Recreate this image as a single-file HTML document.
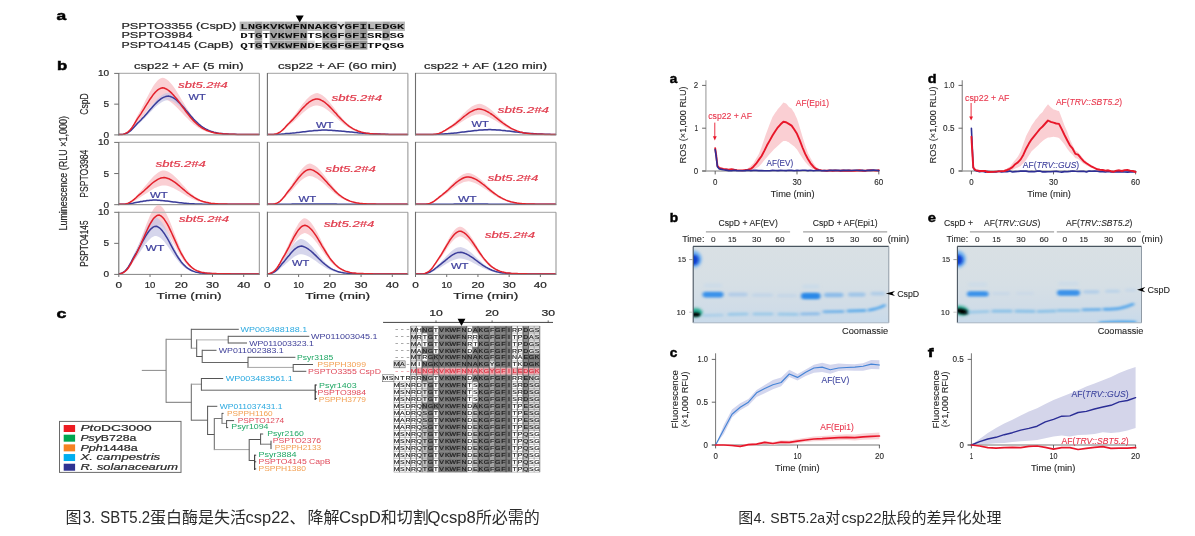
<!DOCTYPE html>
<html lang="zh-CN"><head><meta charset="utf-8"><title>SBT5.2</title>
<style>
html,body{margin:0;padding:0;background:#fff;}
body{width:1195px;height:536px;overflow:hidden;font-family:'Liberation Sans',sans-serif;}
svg{display:block;position:absolute;left:0;top:0;}
svg text{font-family:'Liberation Sans',sans-serif;white-space:pre;}
svg text.mono{font-family:'Liberation Mono',monospace;}
svg text.cap{font-family:'Liberation Sans','Noto Sans CJK SC',sans-serif;}
</style></head><body>
<svg width="1195" height="536" viewBox="0 0 1195 536">
<rect width="1195" height="536" fill="#fff"/>
<defs><filter id="soft" filterUnits="userSpaceOnUse" x="0" y="0" width="1195" height="500"><feGaussianBlur stdDeviation="0.4"/></filter></defs>
<g filter="url(#soft)">
<text font-size="13.5" fill="#000" font-weight="bold" textLength="9.70" lengthAdjust="spacingAndGlyphs" x="56.60" y="19.60" stroke="#000" stroke-width="0.5">a</text>
<text font-size="13.5" fill="#000" font-weight="bold" textLength="10.20" lengthAdjust="spacingAndGlyphs" x="56.90" y="70.10" stroke="#000" stroke-width="0.5">b</text>
<text font-size="13.5" fill="#000" font-weight="bold" textLength="9.90" lengthAdjust="spacingAndGlyphs" x="56.40" y="317.60" stroke="#000" stroke-width="0.5">c</text>
<text font-size="8.8" fill="#262626" stroke="#262626" stroke-width="0.2" textLength="114.90" lengthAdjust="spacingAndGlyphs" x="121.40" y="29.00" >PSPTO3355 (CspD)</text>
<text font-size="8.8" fill="#262626" stroke="#262626" stroke-width="0.2" textLength="71.20" lengthAdjust="spacingAndGlyphs" x="121.40" y="38.30" >PSPTO3984</text>
<text font-size="8.8" fill="#262626" stroke="#262626" stroke-width="0.2" textLength="111.90" lengthAdjust="spacingAndGlyphs" x="121.40" y="47.90" >PSPTO4145 (CapB)</text>
<rect x="239.60" y="21.60" width="7.56" height="9.40" fill="#b9b9b9" />
<rect x="247.11" y="21.60" width="7.56" height="9.40" fill="#b9b9b9" />
<rect x="254.63" y="21.60" width="7.56" height="9.40" fill="#a3a3a3" />
<rect x="262.14" y="21.60" width="7.56" height="9.40" fill="#b9b9b9" />
<rect x="269.66" y="21.60" width="7.56" height="9.40" fill="#a3a3a3" />
<rect x="277.18" y="21.60" width="7.56" height="9.40" fill="#a3a3a3" />
<rect x="284.69" y="21.60" width="7.56" height="9.40" fill="#a3a3a3" />
<rect x="292.20" y="21.60" width="7.56" height="9.40" fill="#a3a3a3" />
<rect x="299.72" y="21.60" width="7.56" height="9.40" fill="#a3a3a3" />
<rect x="307.24" y="21.60" width="7.56" height="9.40" fill="#b9b9b9" />
<rect x="314.75" y="21.60" width="7.56" height="9.40" fill="#b9b9b9" />
<rect x="322.26" y="21.60" width="7.56" height="9.40" fill="#a3a3a3" />
<rect x="329.78" y="21.60" width="7.56" height="9.40" fill="#a3a3a3" />
<rect x="337.29" y="21.60" width="7.56" height="9.40" fill="#d9d9d9" />
<rect x="344.81" y="21.60" width="7.56" height="9.40" fill="#a3a3a3" />
<rect x="352.32" y="21.60" width="7.56" height="9.40" fill="#a3a3a3" />
<rect x="359.84" y="21.60" width="7.56" height="9.40" fill="#969696" />
<rect x="367.36" y="21.60" width="7.56" height="9.40" fill="#b9b9b9" />
<rect x="374.87" y="21.60" width="7.56" height="9.40" fill="#b9b9b9" />
<rect x="382.38" y="21.60" width="7.56" height="9.40" fill="#a3a3a3" />
<rect x="389.90" y="21.60" width="7.56" height="9.40" fill="#b9b9b9" />
<rect x="397.41" y="21.60" width="7.56" height="9.40" fill="#b9b9b9" />
<rect x="254.63" y="30.90" width="7.56" height="9.40" fill="#a3a3a3" />
<rect x="269.66" y="30.90" width="7.56" height="9.40" fill="#a3a3a3" />
<rect x="277.18" y="30.90" width="7.56" height="9.40" fill="#a3a3a3" />
<rect x="284.69" y="30.90" width="7.56" height="9.40" fill="#a3a3a3" />
<rect x="292.20" y="30.90" width="7.56" height="9.40" fill="#a3a3a3" />
<rect x="299.72" y="30.90" width="7.56" height="9.40" fill="#a3a3a3" />
<rect x="322.26" y="30.90" width="7.56" height="9.40" fill="#a3a3a3" />
<rect x="329.78" y="30.90" width="7.56" height="9.40" fill="#a3a3a3" />
<rect x="337.29" y="30.90" width="7.56" height="9.40" fill="#d9d9d9" />
<rect x="344.81" y="30.90" width="7.56" height="9.40" fill="#a3a3a3" />
<rect x="352.32" y="30.90" width="7.56" height="9.40" fill="#a3a3a3" />
<rect x="359.84" y="30.90" width="7.56" height="9.40" fill="#969696" />
<rect x="382.38" y="30.90" width="7.56" height="9.40" fill="#a3a3a3" />
<rect x="254.63" y="40.60" width="7.56" height="9.00" fill="#a3a3a3" />
<rect x="269.66" y="40.60" width="7.56" height="9.00" fill="#a3a3a3" />
<rect x="277.18" y="40.60" width="7.56" height="9.00" fill="#a3a3a3" />
<rect x="284.69" y="40.60" width="7.56" height="9.00" fill="#a3a3a3" />
<rect x="292.20" y="40.60" width="7.56" height="9.00" fill="#a3a3a3" />
<rect x="299.72" y="40.60" width="7.56" height="9.00" fill="#a3a3a3" />
<rect x="307.24" y="40.60" width="7.56" height="9.00" fill="#d9d9d9" />
<rect x="322.26" y="40.60" width="7.56" height="9.00" fill="#a3a3a3" />
<rect x="329.78" y="40.60" width="7.56" height="9.00" fill="#a3a3a3" />
<rect x="337.29" y="40.60" width="7.56" height="9.00" fill="#d9d9d9" />
<rect x="344.81" y="40.60" width="7.56" height="9.00" fill="#a3a3a3" />
<rect x="352.32" y="40.60" width="7.56" height="9.00" fill="#a3a3a3" />
<rect x="359.84" y="40.60" width="7.56" height="9.00" fill="#969696" />
<text font-size="7.7" fill="#111" font-weight="bold" textLength="164.13" lengthAdjust="spacingAndGlyphs" x="240.20" y="28.80" class="mono" stroke="none">LNGKVKWFNNAKGYGFILEDGK</text>
<text font-size="7.7" fill="#111" font-weight="bold" textLength="164.13" lengthAdjust="spacingAndGlyphs" x="240.20" y="38.10" class="mono" stroke="none">DTGTVKWFNTSKGFGFISRDSG</text>
<text font-size="7.7" fill="#111" font-weight="bold" textLength="164.13" lengthAdjust="spacingAndGlyphs" x="240.20" y="47.80" class="mono" stroke="none">QTGTVKWFNDEKGFGFITPQSG</text>
<path d="M295.7,15.6 L303.7,15.6 L299.7,22.4Z" fill="#000"/>
<text font-size="8.8" fill="#262626" stroke="#262626" stroke-width="0.2" textLength="109.50" lengthAdjust="spacingAndGlyphs" x="134.00" y="68.70" >csp22 + AF (5 min)</text>
<text font-size="8.8" fill="#262626" stroke="#262626" stroke-width="0.2" textLength="118.90" lengthAdjust="spacingAndGlyphs" x="277.90" y="68.70" >csp22 + AF (60 min)</text>
<text font-size="8.8" fill="#262626" stroke="#262626" stroke-width="0.2" textLength="123.00" lengthAdjust="spacingAndGlyphs" x="424.00" y="68.70" >csp22 + AF (120 min)</text>
<defs><clipPath id="cp00"><rect x="118.8" y="64.4" width="140.5" height="71.1"/></clipPath><clipPath id="cp01"><rect x="267.4" y="64.4" width="140.5" height="71.1"/></clipPath><clipPath id="cp02"><rect x="415.5" y="64.4" width="140.5" height="71.1"/></clipPath><clipPath id="cp10"><rect x="118.8" y="133.4" width="140.5" height="71.89999999999998"/></clipPath><clipPath id="cp11"><rect x="267.4" y="133.4" width="140.5" height="71.89999999999998"/></clipPath><clipPath id="cp12"><rect x="415.5" y="133.4" width="140.5" height="71.89999999999998"/></clipPath><clipPath id="cp20"><rect x="118.8" y="203.3" width="140.5" height="71.69999999999996"/></clipPath><clipPath id="cp21"><rect x="267.4" y="203.3" width="140.5" height="71.69999999999996"/></clipPath><clipPath id="cp22"><rect x="415.5" y="203.3" width="140.5" height="71.69999999999996"/></clipPath></defs>
<g clip-path="url(#cp00)">
<path d="M118.8,134.9 L120.4,134.9 L121.9,134.8 L123.5,134.4 L125.0,133.9 L126.6,132.9 L128.2,131.6 L129.7,129.8 L131.3,127.6 L132.8,124.9 L134.4,121.9 L136.0,118.6 L137.5,115.5 L139.1,112.7 L140.7,109.9 L142.2,106.9 L143.8,103.9 L145.3,100.8 L146.9,97.7 L148.5,94.7 L150.0,91.7 L151.6,88.9 L153.1,86.3 L154.7,84.0 L156.3,82.0 L157.8,80.3 L159.4,79.0 L160.9,78.2 L162.5,77.7 L164.1,78.0 L165.6,78.8 L167.2,79.8 L168.8,81.1 L170.3,82.7 L171.9,84.5 L173.4,86.6 L175.0,88.8 L176.6,91.2 L178.1,93.7 L179.7,96.2 L181.2,98.9 L182.8,101.5 L184.4,104.1 L185.9,106.7 L187.5,109.3 L189.1,111.7 L190.6,114.0 L192.2,116.2 L193.7,118.3 L195.3,120.2 L196.9,122.0 L198.4,123.6 L200.0,125.1 L201.5,126.4 L203.1,127.6 L204.7,128.6 L206.2,129.5 L207.8,130.4 L209.3,131.1 L210.9,131.7 L212.5,132.2 L214.0,132.6 L215.6,133.0 L217.1,133.3 L218.7,133.6 L220.3,133.8 L221.8,134.0 L223.4,134.1 L225.0,134.3 L226.5,134.4 L228.1,134.4 L229.6,134.5 L231.2,134.6 L232.8,134.6 L234.3,134.7 L235.9,134.7 L237.4,134.7 L239.0,134.7 L240.6,134.8 L242.1,134.8 L243.7,134.8 L245.2,134.8 L246.8,134.8 L248.4,134.8 L249.9,134.8 L251.5,134.8 L253.1,134.8 L254.6,134.8 L256.2,134.8 L257.7,134.8 L259.3,134.8 L259.3,134.9 L257.7,134.9 L256.2,134.9 L254.6,134.9 L253.1,134.9 L251.5,134.9 L249.9,134.8 L248.4,134.8 L246.8,134.8 L245.2,134.8 L243.7,134.8 L242.1,134.8 L240.6,134.8 L239.0,134.8 L237.4,134.8 L235.9,134.8 L234.3,134.7 L232.8,134.7 L231.2,134.7 L229.6,134.7 L228.1,134.6 L226.5,134.6 L225.0,134.5 L223.4,134.4 L221.8,134.3 L220.3,134.2 L218.7,134.1 L217.1,133.9 L215.6,133.7 L214.0,133.5 L212.5,133.2 L210.9,132.8 L209.3,132.5 L207.8,132.0 L206.2,131.5 L204.7,130.9 L203.1,130.2 L201.5,129.5 L200.0,128.7 L198.4,127.7 L196.9,126.7 L195.3,125.6 L193.7,124.4 L192.2,123.0 L190.6,121.7 L189.1,120.2 L187.5,118.6 L185.9,117.0 L184.4,115.4 L182.8,113.7 L181.2,112.0 L179.7,110.4 L178.1,108.7 L176.6,107.2 L175.0,105.7 L173.4,104.2 L171.9,103.0 L170.3,101.8 L168.8,100.8 L167.2,100.0 L165.6,99.3 L164.1,98.8 L162.5,98.6 L160.9,98.9 L159.4,99.4 L157.8,100.2 L156.3,101.3 L154.7,102.6 L153.1,104.1 L151.6,105.7 L150.0,107.5 L148.5,109.4 L146.9,111.3 L145.3,113.3 L143.8,115.2 L142.2,117.2 L140.7,119.0 L139.1,120.8 L137.5,122.6 L136.0,124.6 L134.4,126.6 L132.8,128.6 L131.3,130.3 L129.7,131.7 L128.2,132.8 L126.6,133.7 L125.0,134.2 L123.5,134.6 L121.9,134.8 L120.4,134.9 L118.8,134.9Z" fill="#FACFD3" stroke="none" stroke-width="0" stroke-linejoin="round" stroke-linecap="round" fill-opacity="1"/>
<path d="M118.8,134.9 L120.4,134.9 L121.9,134.8 L123.5,134.6 L125.0,134.1 L126.6,133.5 L128.2,132.6 L129.7,131.5 L131.3,130.0 L132.8,128.3 L134.4,126.4 L136.0,124.5 L137.5,122.6 L139.1,120.9 L140.7,119.2 L142.2,117.5 L143.8,115.6 L145.3,113.7 L146.9,111.7 L148.5,109.7 L150.0,107.8 L151.6,105.8 L153.1,103.9 L154.7,102.0 L156.3,100.2 L157.8,98.6 L159.4,97.2 L160.9,95.9 L162.5,94.8 L164.1,93.9 L165.6,93.3 L167.2,92.9 L168.8,92.8 L170.3,93.2 L171.9,93.9 L173.4,94.8 L175.0,95.9 L176.6,97.3 L178.1,98.8 L179.7,100.5 L181.2,102.3 L182.8,104.2 L184.4,106.2 L185.9,108.2 L187.5,110.2 L189.1,112.3 L190.6,114.3 L192.2,116.2 L193.7,118.1 L195.3,119.9 L196.9,121.5 L198.4,123.1 L200.0,124.5 L201.5,125.9 L203.1,127.1 L204.7,128.1 L206.2,129.1 L207.8,130.0 L209.3,130.7 L210.9,131.4 L212.5,131.9 L214.0,132.4 L215.6,132.8 L217.1,133.2 L218.7,133.5 L220.3,133.7 L221.8,133.9 L223.4,134.1 L225.0,134.2 L226.5,134.3 L228.1,134.4 L229.6,134.5 L231.2,134.6 L232.8,134.6 L234.3,134.7 L235.9,134.7 L237.4,134.7 L239.0,134.7 L240.6,134.8 L242.1,134.8 L243.7,134.8 L245.2,134.8 L246.8,134.8 L248.4,134.8 L249.9,134.8 L251.5,134.8 L253.1,134.8 L254.6,134.8 L256.2,134.8 L257.7,134.8 L259.3,134.9 L259.3,134.9 L257.7,134.9 L256.2,134.9 L254.6,134.8 L253.1,134.8 L251.5,134.8 L249.9,134.8 L248.4,134.8 L246.8,134.8 L245.2,134.8 L243.7,134.8 L242.1,134.8 L240.6,134.8 L239.0,134.8 L237.4,134.7 L235.9,134.7 L234.3,134.7 L232.8,134.7 L231.2,134.6 L229.6,134.6 L228.1,134.5 L226.5,134.4 L225.0,134.3 L223.4,134.2 L221.8,134.1 L220.3,133.9 L218.7,133.7 L217.1,133.5 L215.6,133.2 L214.0,132.8 L212.5,132.4 L210.9,132.0 L209.3,131.4 L207.8,130.8 L206.2,130.1 L204.7,129.3 L203.1,128.4 L201.5,127.4 L200.0,126.4 L198.4,125.2 L196.9,123.9 L195.3,122.5 L193.7,121.0 L192.2,119.5 L190.6,117.9 L189.1,116.2 L187.5,114.6 L185.9,112.9 L184.4,111.2 L182.8,109.6 L181.2,108.0 L179.7,106.5 L178.1,105.1 L176.6,103.9 L175.0,102.8 L173.4,101.8 L171.9,101.1 L170.3,100.5 L168.8,100.2 L167.2,100.3 L165.6,100.6 L164.1,101.1 L162.5,101.8 L160.9,102.7 L159.4,103.8 L157.8,105.0 L156.3,106.3 L154.7,107.8 L153.1,109.3 L151.6,110.9 L150.0,112.5 L148.5,114.2 L146.9,115.8 L145.3,117.4 L143.8,119.0 L142.2,120.5 L140.7,122.0 L139.1,123.4 L137.5,124.7 L136.0,126.3 L134.4,127.9 L132.8,129.5 L131.3,130.9 L129.7,132.1 L128.2,133.0 L126.6,133.8 L125.0,134.3 L123.5,134.6 L121.9,134.8 L120.4,134.9 L118.8,134.9Z" fill="#C4C5E4" stroke="none" stroke-width="0" stroke-linejoin="round" stroke-linecap="round" fill-opacity="0.7"/>
<path d="M118.8,134.5 L120.4,134.5 L121.9,134.4 L123.5,134.2 L125.0,133.8 L126.6,133.3 L128.2,132.5 L129.7,131.4 L131.3,130.1 L132.8,128.5 L134.4,126.8 L136.0,125.0 L137.5,123.3 L139.1,121.8 L140.7,120.2 L142.2,118.6 L143.8,116.9 L145.3,115.2 L146.9,113.4 L148.5,111.6 L150.0,109.8 L151.6,108.0 L153.1,106.2 L154.7,104.5 L156.3,102.9 L157.8,101.4 L159.4,100.1 L160.9,98.9 L162.5,97.9 L164.1,97.1 L165.6,96.6 L167.2,96.2 L168.8,96.1 L170.3,96.5 L171.9,97.1 L173.4,97.9 L175.0,99.0 L176.6,100.2 L178.1,101.6 L179.7,103.1 L181.2,104.8 L182.8,106.5 L184.4,108.3 L185.9,110.2 L187.5,112.0 L189.1,113.9 L190.6,115.7 L192.2,117.5 L193.7,119.2 L195.3,120.8 L196.9,122.3 L198.4,123.8 L200.0,125.1 L201.5,126.3 L203.1,127.4 L204.7,128.4 L206.2,129.2 L207.8,130.0 L209.3,130.7 L210.9,131.3 L212.5,131.8 L214.0,132.3 L215.6,132.6 L217.1,132.9 L218.7,133.2 L220.3,133.4 L221.8,133.6 L223.4,133.8 L225.0,133.9 L226.5,134.0 L228.1,134.1 L229.6,134.2 L231.2,134.2 L232.8,134.3 L234.3,134.3 L235.9,134.3 L237.4,134.4 L239.0,134.4 L240.6,134.4 L242.1,134.4 L243.7,134.4 L245.2,134.4 L246.8,134.4 L248.4,134.5 L249.9,134.5 L251.5,134.5 L253.1,134.5 L254.6,134.5 L256.2,134.5 L257.7,134.5 L259.3,134.5" fill="none" stroke="#3A3C9A" stroke-width="1.5" stroke-linejoin="round" stroke-linecap="round" />
<path d="M118.8,134.5 L120.4,134.5 L121.9,134.4 L123.5,134.2 L125.0,133.7 L126.6,132.9 L128.2,131.8 L129.7,130.4 L131.3,128.6 L132.8,126.4 L134.4,123.9 L136.0,121.2 L137.5,118.6 L139.1,116.4 L140.7,114.1 L142.2,111.7 L143.8,109.2 L145.3,106.7 L146.9,104.2 L148.5,101.7 L150.0,99.2 L151.6,97.0 L153.1,94.8 L154.7,92.9 L156.3,91.3 L157.8,89.9 L159.4,88.9 L160.9,88.2 L162.5,87.8 L164.1,88.0 L165.6,88.7 L167.2,89.5 L168.8,90.6 L170.3,91.9 L171.9,93.4 L173.4,95.0 L175.0,96.9 L176.6,98.8 L178.1,100.8 L179.7,102.9 L181.2,105.1 L182.8,107.2 L184.4,109.4 L185.9,111.5 L187.5,113.6 L189.1,115.6 L190.6,117.5 L192.2,119.3 L193.7,121.0 L195.3,122.5 L196.9,124.0 L198.4,125.3 L200.0,126.5 L201.5,127.6 L203.1,128.5 L204.7,129.4 L206.2,130.2 L207.8,130.8 L209.3,131.4 L210.9,131.9 L212.5,132.3 L214.0,132.7 L215.6,133.0 L217.1,133.2 L218.7,133.5 L220.3,133.6 L221.8,133.8 L223.4,133.9 L225.0,134.0 L226.5,134.1 L228.1,134.2 L229.6,134.2 L231.2,134.3 L232.8,134.3 L234.3,134.3 L235.9,134.4 L237.4,134.4 L239.0,134.4 L240.6,134.4 L242.1,134.4 L243.7,134.4 L245.2,134.4 L246.8,134.5 L248.4,134.5 L249.9,134.5 L251.5,134.5 L253.1,134.5 L254.6,134.5 L256.2,134.5 L257.7,134.5 L259.3,134.5" fill="none" stroke="#E3202C" stroke-width="1.5" stroke-linejoin="round" stroke-linecap="round" />
</g>
<line x1="118.80" y1="73.40" x2="259.30" y2="73.40" stroke="#b4b4b4" stroke-width="1.3" />
<line x1="259.30" y1="73.40" x2="259.30" y2="134.90" stroke="#8f8f8f" stroke-width="1.0" />
<line x1="118.80" y1="72.90" x2="118.80" y2="135.40" stroke="#6e6e6e" stroke-width="1.1" />
<line x1="118.30" y1="134.90" x2="259.80" y2="134.90" stroke="#838383" stroke-width="1.0" />
<text font-size="8.8" fill="#E03A4B" stroke="#E03A4B" stroke-width="0.2" font-style="italic" textLength="49.50" lengthAdjust="spacingAndGlyphs" x="178.30" y="87.80" >sbt5.2#4</text>
<text font-size="8.6" fill="#3E3F9C" stroke="#3E3F9C" stroke-width="0.2" textLength="17.20" lengthAdjust="spacingAndGlyphs" x="188.50" y="99.80" >WT</text>
<g clip-path="url(#cp01)">
<path d="M267.4,134.9 L269.0,134.9 L270.5,134.9 L272.1,134.9 L273.6,134.7 L275.2,134.4 L276.8,133.9 L278.3,133.1 L279.9,132.1 L281.4,130.7 L283.0,129.1 L284.6,127.3 L286.1,125.2 L287.7,123.2 L289.3,121.3 L290.8,119.6 L292.4,117.7 L293.9,115.8 L295.5,113.7 L297.1,111.6 L298.6,109.5 L300.2,107.4 L301.7,105.3 L303.3,103.3 L304.9,101.4 L306.4,99.6 L308.0,98.0 L309.5,96.6 L311.1,95.3 L312.7,94.4 L314.2,93.7 L315.8,93.2 L317.4,93.1 L318.9,93.5 L320.5,94.2 L322.0,95.1 L323.6,96.2 L325.2,97.5 L326.7,99.0 L328.3,100.7 L329.8,102.5 L331.4,104.4 L333.0,106.4 L334.5,108.4 L336.1,110.4 L337.6,112.4 L339.2,114.4 L340.8,116.3 L342.3,118.2 L343.9,120.0 L345.5,121.6 L347.0,123.2 L348.6,124.6 L350.1,125.9 L351.7,127.1 L353.3,128.2 L354.8,129.1 L356.4,130.0 L357.9,130.7 L359.5,131.4 L361.1,131.9 L362.6,132.4 L364.2,132.8 L365.8,133.2 L367.3,133.5 L368.9,133.7 L370.4,133.9 L372.0,134.1 L373.6,134.2 L375.1,134.3 L376.7,134.4 L378.2,134.5 L379.8,134.6 L381.4,134.6 L382.9,134.7 L384.5,134.7 L386.0,134.7 L387.6,134.7 L389.2,134.8 L390.7,134.8 L392.3,134.8 L393.8,134.8 L395.4,134.8 L397.0,134.8 L398.5,134.8 L400.1,134.8 L401.7,134.8 L403.2,134.8 L404.8,134.8 L406.3,134.8 L407.9,134.9 L407.9,134.9 L406.3,134.9 L404.8,134.9 L403.2,134.9 L401.7,134.9 L400.1,134.8 L398.5,134.8 L397.0,134.8 L395.4,134.8 L393.8,134.8 L392.3,134.8 L390.7,134.8 L389.2,134.8 L387.6,134.8 L386.0,134.8 L384.5,134.7 L382.9,134.7 L381.4,134.7 L379.8,134.7 L378.2,134.6 L376.7,134.6 L375.1,134.5 L373.6,134.4 L372.0,134.3 L370.4,134.2 L368.9,134.1 L367.3,133.9 L365.8,133.7 L364.2,133.4 L362.6,133.2 L361.1,132.8 L359.5,132.4 L357.9,132.0 L356.4,131.4 L354.8,130.8 L353.3,130.2 L351.7,129.4 L350.1,128.6 L348.6,127.6 L347.0,126.6 L345.5,125.5 L343.9,124.4 L342.3,123.1 L340.8,121.8 L339.2,120.4 L337.6,119.0 L336.1,117.6 L334.5,116.2 L333.0,114.8 L331.4,113.4 L329.8,112.0 L328.3,110.8 L326.7,109.6 L325.2,108.5 L323.6,107.6 L322.0,106.8 L320.5,106.2 L318.9,105.7 L317.4,105.4 L315.8,105.5 L314.2,105.8 L312.7,106.3 L311.1,107.0 L309.5,107.8 L308.0,108.8 L306.4,110.0 L304.9,111.3 L303.3,112.6 L301.7,114.0 L300.2,115.5 L298.6,117.0 L297.1,118.5 L295.5,120.0 L293.9,121.4 L292.4,122.8 L290.8,124.1 L289.3,125.3 L287.7,126.6 L286.1,128.1 L284.6,129.5 L283.0,130.8 L281.4,132.0 L279.9,132.9 L278.3,133.6 L276.8,134.2 L275.2,134.5 L273.6,134.8 L272.1,134.9 L270.5,134.9 L269.0,134.9 L267.4,134.9Z" fill="#FACFD3" stroke="none" stroke-width="0" stroke-linejoin="round" stroke-linecap="round" fill-opacity="1"/>
<path d="M267.4,134.9 L269.0,134.9 L270.5,134.9 L272.1,134.9 L273.6,134.9 L275.2,134.8 L276.8,134.7 L278.3,134.6 L279.9,134.5 L281.4,134.4 L283.0,134.2 L284.6,134.1 L286.1,133.9 L287.7,133.7 L289.3,133.6 L290.8,133.4 L292.4,133.3 L293.9,133.1 L295.5,132.9 L297.1,132.7 L298.6,132.5 L300.2,132.3 L301.7,132.1 L303.3,131.8 L304.9,131.6 L306.4,131.4 L308.0,131.2 L309.5,131.0 L311.1,130.8 L312.7,130.6 L314.2,130.4 L315.8,130.3 L317.4,130.2 L318.9,130.1 L320.5,130.0 L322.0,129.9 L323.6,129.9 L325.2,129.9 L326.7,129.9 L328.3,130.0 L329.8,130.0 L331.4,130.1 L333.0,130.2 L334.5,130.4 L336.1,130.5 L337.6,130.6 L339.2,130.8 L340.8,130.9 L342.3,131.1 L343.9,131.3 L345.5,131.5 L347.0,131.6 L348.6,131.8 L350.1,132.0 L351.7,132.2 L353.3,132.4 L354.8,132.5 L356.4,132.7 L357.9,132.9 L359.5,133.0 L361.1,133.2 L362.6,133.3 L364.2,133.5 L365.8,133.6 L367.3,133.7 L368.9,133.9 L370.4,134.0 L372.0,134.1 L373.6,134.2 L375.1,134.2 L376.7,134.3 L378.2,134.4 L379.8,134.5 L381.4,134.5 L382.9,134.6 L384.5,134.6 L386.0,134.6 L387.6,134.7 L389.2,134.7 L390.7,134.7 L392.3,134.8 L393.8,134.8 L395.4,134.8 L397.0,134.8 L398.5,134.8 L400.1,134.8 L401.7,134.8 L403.2,134.9 L404.8,134.9 L406.3,134.9 L407.9,134.9 L407.9,134.9 L406.3,134.9 L404.8,134.9 L403.2,134.9 L401.7,134.9 L400.1,134.9 L398.5,134.8 L397.0,134.8 L395.4,134.8 L393.8,134.8 L392.3,134.8 L390.7,134.8 L389.2,134.8 L387.6,134.7 L386.0,134.7 L384.5,134.7 L382.9,134.6 L381.4,134.6 L379.8,134.6 L378.2,134.5 L376.7,134.5 L375.1,134.4 L373.6,134.3 L372.0,134.3 L370.4,134.2 L368.9,134.1 L367.3,134.0 L365.8,133.9 L364.2,133.8 L362.6,133.7 L361.1,133.6 L359.5,133.5 L357.9,133.4 L356.4,133.2 L354.8,133.1 L353.3,133.0 L351.7,132.8 L350.1,132.7 L348.6,132.6 L347.0,132.4 L345.5,132.3 L343.9,132.2 L342.3,132.0 L340.8,131.9 L339.2,131.8 L337.6,131.7 L336.1,131.6 L334.5,131.5 L333.0,131.4 L331.4,131.3 L329.8,131.2 L328.3,131.2 L326.7,131.1 L325.2,131.1 L323.6,131.1 L322.0,131.1 L320.5,131.2 L318.9,131.2 L317.4,131.3 L315.8,131.4 L314.2,131.5 L312.7,131.7 L311.1,131.8 L309.5,131.9 L308.0,132.1 L306.4,132.3 L304.9,132.4 L303.3,132.6 L301.7,132.8 L300.2,132.9 L298.6,133.1 L297.1,133.2 L295.5,133.4 L293.9,133.5 L292.4,133.7 L290.8,133.8 L289.3,133.9 L287.7,134.0 L286.1,134.1 L284.6,134.3 L283.0,134.4 L281.4,134.5 L279.9,134.6 L278.3,134.7 L276.8,134.8 L275.2,134.8 L273.6,134.9 L272.1,134.9 L270.5,134.9 L269.0,134.9 L267.4,134.9Z" fill="#C4C5E4" stroke="none" stroke-width="0" stroke-linejoin="round" stroke-linecap="round" fill-opacity="0.7"/>
<path d="M267.4,134.5 L269.0,134.5 L270.5,134.5 L272.1,134.5 L273.6,134.5 L275.2,134.4 L276.8,134.4 L278.3,134.3 L279.9,134.2 L281.4,134.1 L283.0,133.9 L284.6,133.8 L286.1,133.6 L287.7,133.5 L289.3,133.4 L290.8,133.2 L292.4,133.1 L293.9,132.9 L295.5,132.8 L297.1,132.6 L298.6,132.4 L300.2,132.2 L301.7,132.0 L303.3,131.8 L304.9,131.7 L306.4,131.5 L308.0,131.3 L309.5,131.1 L311.1,130.9 L312.7,130.8 L314.2,130.6 L315.8,130.5 L317.4,130.4 L318.9,130.3 L320.5,130.2 L322.0,130.1 L323.6,130.1 L325.2,130.1 L326.7,130.1 L328.3,130.2 L329.8,130.3 L331.4,130.3 L333.0,130.4 L334.5,130.5 L336.1,130.7 L337.6,130.8 L339.2,130.9 L340.8,131.0 L342.3,131.2 L343.9,131.3 L345.5,131.5 L347.0,131.7 L348.6,131.8 L350.1,132.0 L351.7,132.1 L353.3,132.3 L354.8,132.5 L356.4,132.6 L357.9,132.8 L359.5,132.9 L361.1,133.0 L362.6,133.2 L364.2,133.3 L365.8,133.4 L367.3,133.5 L368.9,133.6 L370.4,133.7 L372.0,133.8 L373.6,133.9 L375.1,134.0 L376.7,134.0 L378.2,134.1 L379.8,134.1 L381.4,134.2 L382.9,134.2 L384.5,134.3 L386.0,134.3 L387.6,134.3 L389.2,134.4 L390.7,134.4 L392.3,134.4 L393.8,134.4 L395.4,134.4 L397.0,134.5 L398.5,134.5 L400.1,134.5 L401.7,134.5 L403.2,134.5 L404.8,134.5 L406.3,134.5 L407.9,134.5" fill="none" stroke="#3A3C9A" stroke-width="1.5" stroke-linejoin="round" stroke-linecap="round" />
<path d="M267.4,134.5 L269.0,134.5 L270.5,134.5 L272.1,134.5 L273.6,134.4 L275.2,134.1 L276.8,133.6 L278.3,133.0 L279.9,132.1 L281.4,131.0 L283.0,129.6 L284.6,128.0 L286.1,126.3 L287.7,124.5 L289.3,123.0 L290.8,121.5 L292.4,119.9 L293.9,118.2 L295.5,116.5 L297.1,114.7 L298.6,112.9 L300.2,111.1 L301.7,109.3 L303.3,107.6 L304.9,106.0 L306.4,104.4 L308.0,103.1 L309.5,101.8 L311.1,100.8 L312.7,100.0 L314.2,99.4 L315.8,99.0 L317.4,98.9 L318.9,99.2 L320.5,99.8 L322.0,100.6 L323.6,101.5 L325.2,102.7 L326.7,104.0 L328.3,105.4 L329.8,106.9 L331.4,108.5 L333.0,110.2 L334.5,111.9 L336.1,113.6 L337.6,115.4 L339.2,117.1 L340.8,118.7 L342.3,120.3 L343.9,121.8 L345.5,123.2 L347.0,124.5 L348.6,125.8 L350.1,126.9 L351.7,127.9 L353.3,128.8 L354.8,129.6 L356.4,130.3 L357.9,131.0 L359.5,131.5 L361.1,132.0 L362.6,132.4 L364.2,132.8 L365.8,133.1 L367.3,133.3 L368.9,133.5 L370.4,133.7 L372.0,133.8 L373.6,134.0 L375.1,134.0 L376.7,134.1 L378.2,134.2 L379.8,134.2 L381.4,134.3 L382.9,134.3 L384.5,134.3 L386.0,134.4 L387.6,134.4 L389.2,134.4 L390.7,134.4 L392.3,134.4 L393.8,134.4 L395.4,134.4 L397.0,134.5 L398.5,134.5 L400.1,134.5 L401.7,134.5 L403.2,134.5 L404.8,134.5 L406.3,134.5 L407.9,134.5" fill="none" stroke="#E3202C" stroke-width="1.5" stroke-linejoin="round" stroke-linecap="round" />
</g>
<line x1="267.40" y1="73.40" x2="407.90" y2="73.40" stroke="#b4b4b4" stroke-width="1.3" />
<line x1="407.90" y1="73.40" x2="407.90" y2="134.90" stroke="#8f8f8f" stroke-width="1.0" />
<line x1="267.40" y1="72.90" x2="267.40" y2="135.40" stroke="#6e6e6e" stroke-width="1.1" />
<line x1="266.90" y1="134.90" x2="408.40" y2="134.90" stroke="#838383" stroke-width="1.0" />
<text font-size="8.8" fill="#E03A4B" stroke="#E03A4B" stroke-width="0.2" font-style="italic" textLength="50.30" lengthAdjust="spacingAndGlyphs" x="331.70" y="101.10" >sbt5.2#4</text>
<text font-size="8.6" fill="#3E3F9C" stroke="#3E3F9C" stroke-width="0.2" textLength="17.70" lengthAdjust="spacingAndGlyphs" x="315.90" y="128.20" >WT</text>
<g clip-path="url(#cp02)">
<path d="M415.5,134.9 L417.1,134.9 L418.6,134.9 L420.2,134.9 L421.7,134.9 L423.3,134.9 L424.9,134.9 L426.4,134.9 L428.0,134.9 L429.6,134.9 L431.1,134.9 L432.7,134.8 L434.2,134.6 L435.8,134.4 L437.4,134.0 L438.9,133.5 L440.5,132.8 L442.0,131.9 L443.6,130.9 L445.2,129.7 L446.7,128.5 L448.3,127.4 L449.8,126.3 L451.4,125.1 L453.0,123.8 L454.5,122.4 L456.1,121.0 L457.6,119.5 L459.2,117.9 L460.8,116.4 L462.3,114.8 L463.9,113.3 L465.5,111.8 L467.0,110.3 L468.6,109.0 L470.1,107.7 L471.7,106.6 L473.3,105.7 L474.8,104.9 L476.4,104.4 L477.9,104.0 L479.5,103.8 L481.1,104.1 L482.6,104.6 L484.2,105.2 L485.8,106.0 L487.3,107.0 L488.9,108.0 L490.4,109.3 L492.0,110.6 L493.6,112.0 L495.1,113.4 L496.7,114.9 L498.2,116.4 L499.8,117.9 L501.4,119.4 L502.9,120.8 L504.5,122.2 L506.0,123.6 L507.6,124.8 L509.2,126.0 L510.7,127.1 L512.3,128.0 L513.9,129.0 L515.4,129.8 L517.0,130.5 L518.5,131.1 L520.1,131.7 L521.7,132.2 L523.2,132.6 L524.8,133.0 L526.3,133.3 L527.9,133.6 L529.5,133.8 L531.0,134.0 L532.6,134.1 L534.1,134.3 L535.7,134.4 L537.3,134.5 L538.8,134.5 L540.4,134.6 L542.0,134.6 L543.5,134.7 L545.1,134.7 L546.6,134.7 L548.2,134.8 L549.8,134.8 L551.3,134.8 L552.9,134.8 L554.4,134.8 L556.0,134.8 L556.0,134.8 L554.4,134.8 L552.9,134.8 L551.3,134.8 L549.8,134.8 L548.2,134.8 L546.6,134.8 L545.1,134.8 L543.5,134.8 L542.0,134.7 L540.4,134.7 L538.8,134.7 L537.3,134.6 L535.7,134.6 L534.1,134.5 L532.6,134.4 L531.0,134.3 L529.5,134.2 L527.9,134.0 L526.3,133.8 L524.8,133.6 L523.2,133.4 L521.7,133.1 L520.1,132.8 L518.5,132.4 L517.0,132.0 L515.4,131.5 L513.9,131.0 L512.3,130.4 L510.7,129.7 L509.2,129.0 L507.6,128.2 L506.0,127.4 L504.5,126.5 L502.9,125.6 L501.4,124.6 L499.8,123.6 L498.2,122.6 L496.7,121.6 L495.1,120.6 L493.6,119.7 L492.0,118.8 L490.4,117.9 L488.9,117.1 L487.3,116.4 L485.8,115.7 L484.2,115.2 L482.6,114.8 L481.1,114.5 L479.5,114.3 L477.9,114.4 L476.4,114.6 L474.8,115.0 L473.3,115.5 L471.7,116.1 L470.1,116.9 L468.6,117.7 L467.0,118.6 L465.5,119.5 L463.9,120.5 L462.3,121.6 L460.8,122.6 L459.2,123.6 L457.6,124.7 L456.1,125.7 L454.5,126.6 L453.0,127.5 L451.4,128.4 L449.8,129.2 L448.3,129.9 L446.7,130.7 L445.2,131.5 L443.6,132.2 L442.0,132.9 L440.5,133.5 L438.9,133.9 L437.4,134.3 L435.8,134.6 L434.2,134.7 L432.7,134.8 L431.1,134.9 L429.6,134.9 L428.0,134.9 L426.4,134.9 L424.9,134.9 L423.3,134.9 L421.7,134.9 L420.2,134.9 L418.6,134.9 L417.1,134.9 L415.5,134.9Z" fill="#FACFD3" stroke="none" stroke-width="0" stroke-linejoin="round" stroke-linecap="round" fill-opacity="1"/>
<path d="M415.5,134.9 L417.1,134.9 L418.6,134.9 L420.2,134.9 L421.7,134.9 L423.3,134.9 L424.9,134.9 L426.4,134.9 L428.0,134.9 L429.6,134.9 L431.1,134.9 L432.7,134.8 L434.2,134.8 L435.8,134.7 L437.4,134.6 L438.9,134.5 L440.5,134.4 L442.0,134.3 L443.6,134.1 L445.2,134.0 L446.7,133.9 L448.3,133.8 L449.8,133.6 L451.4,133.5 L453.0,133.3 L454.5,133.1 L456.1,132.9 L457.6,132.7 L459.2,132.5 L460.8,132.3 L462.3,132.1 L463.9,131.9 L465.5,131.6 L467.0,131.4 L468.6,131.2 L470.1,130.9 L471.7,130.7 L473.3,130.5 L474.8,130.3 L476.4,130.1 L477.9,129.9 L479.5,129.7 L481.1,129.6 L482.6,129.4 L484.2,129.3 L485.8,129.2 L487.3,129.2 L488.9,129.1 L490.4,129.1 L492.0,129.2 L493.6,129.2 L495.1,129.3 L496.7,129.5 L498.2,129.6 L499.8,129.7 L501.4,129.9 L502.9,130.1 L504.5,130.3 L506.0,130.5 L507.6,130.7 L509.2,130.9 L510.7,131.1 L512.3,131.3 L513.9,131.6 L515.4,131.8 L517.0,132.0 L518.5,132.2 L520.1,132.4 L521.7,132.6 L523.2,132.8 L524.8,133.0 L526.3,133.2 L527.9,133.4 L529.5,133.5 L531.0,133.7 L532.6,133.8 L534.1,133.9 L535.7,134.0 L537.3,134.1 L538.8,134.2 L540.4,134.3 L542.0,134.4 L543.5,134.5 L545.1,134.5 L546.6,134.6 L548.2,134.6 L549.8,134.7 L551.3,134.7 L552.9,134.7 L554.4,134.8 L556.0,134.8 L556.0,134.8 L554.4,134.8 L552.9,134.8 L551.3,134.8 L549.8,134.7 L548.2,134.7 L546.6,134.7 L545.1,134.6 L543.5,134.6 L542.0,134.5 L540.4,134.5 L538.8,134.4 L537.3,134.3 L535.7,134.3 L534.1,134.2 L532.6,134.1 L531.0,134.0 L529.5,133.9 L527.9,133.8 L526.3,133.7 L524.8,133.5 L523.2,133.4 L521.7,133.3 L520.1,133.1 L518.5,133.0 L517.0,132.8 L515.4,132.6 L513.9,132.5 L512.3,132.3 L510.7,132.2 L509.2,132.0 L507.6,131.8 L506.0,131.7 L504.5,131.5 L502.9,131.4 L501.4,131.3 L499.8,131.2 L498.2,131.1 L496.7,131.0 L495.1,130.9 L493.6,130.8 L492.0,130.8 L490.4,130.7 L488.9,130.7 L487.3,130.8 L485.8,130.8 L484.2,130.9 L482.6,130.9 L481.1,131.0 L479.5,131.1 L477.9,131.3 L476.4,131.4 L474.8,131.6 L473.3,131.7 L471.7,131.9 L470.1,132.0 L468.6,132.2 L467.0,132.4 L465.5,132.5 L463.9,132.7 L462.3,132.9 L460.8,133.0 L459.2,133.2 L457.6,133.3 L456.1,133.5 L454.5,133.6 L453.0,133.7 L451.4,133.9 L449.8,134.0 L448.3,134.1 L446.7,134.2 L445.2,134.3 L443.6,134.3 L442.0,134.4 L440.5,134.5 L438.9,134.6 L437.4,134.7 L435.8,134.8 L434.2,134.8 L432.7,134.8 L431.1,134.9 L429.6,134.9 L428.0,134.9 L426.4,134.9 L424.9,134.9 L423.3,134.9 L421.7,134.9 L420.2,134.9 L418.6,134.9 L417.1,134.9 L415.5,134.9Z" fill="#C4C5E4" stroke="none" stroke-width="0" stroke-linejoin="round" stroke-linecap="round" fill-opacity="0.7"/>
<path d="M415.5,134.5 L417.1,134.5 L418.6,134.5 L420.2,134.5 L421.7,134.5 L423.3,134.5 L424.9,134.5 L426.4,134.5 L428.0,134.5 L429.6,134.5 L431.1,134.5 L432.7,134.5 L434.2,134.4 L435.8,134.4 L437.4,134.3 L438.9,134.2 L440.5,134.1 L442.0,134.0 L443.6,133.9 L445.2,133.8 L446.7,133.7 L448.3,133.6 L449.8,133.4 L451.4,133.3 L453.0,133.2 L454.5,133.0 L456.1,132.9 L457.6,132.7 L459.2,132.5 L460.8,132.3 L462.3,132.1 L463.9,131.9 L465.5,131.7 L467.0,131.5 L468.6,131.3 L470.1,131.2 L471.7,131.0 L473.3,130.8 L474.8,130.6 L476.4,130.4 L477.9,130.3 L479.5,130.1 L481.1,130.0 L482.6,129.9 L484.2,129.8 L485.8,129.7 L487.3,129.7 L488.9,129.6 L490.4,129.6 L492.0,129.7 L493.6,129.7 L495.1,129.8 L496.7,129.9 L498.2,130.0 L499.8,130.1 L501.4,130.3 L502.9,130.4 L504.5,130.6 L506.0,130.8 L507.6,130.9 L509.2,131.1 L510.7,131.3 L512.3,131.5 L513.9,131.7 L515.4,131.9 L517.0,132.1 L518.5,132.3 L520.1,132.4 L521.7,132.6 L523.2,132.8 L524.8,132.9 L526.3,133.1 L527.9,133.2 L529.5,133.4 L531.0,133.5 L532.6,133.6 L534.1,133.7 L535.7,133.8 L537.3,133.9 L538.8,134.0 L540.4,134.0 L542.0,134.1 L543.5,134.2 L545.1,134.2 L546.6,134.3 L548.2,134.3 L549.8,134.3 L551.3,134.4 L552.9,134.4 L554.4,134.4 L556.0,134.4" fill="none" stroke="#3A3C9A" stroke-width="1.5" stroke-linejoin="round" stroke-linecap="round" />
<path d="M415.5,134.5 L417.1,134.5 L418.6,134.5 L420.2,134.5 L421.7,134.5 L423.3,134.5 L424.9,134.5 L426.4,134.5 L428.0,134.5 L429.6,134.5 L431.1,134.5 L432.7,134.5 L434.2,134.3 L435.8,134.1 L437.4,133.8 L438.9,133.4 L440.5,132.8 L442.0,132.1 L443.6,131.2 L445.2,130.3 L446.7,129.3 L448.3,128.3 L449.8,127.4 L451.4,126.5 L453.0,125.4 L454.5,124.3 L456.1,123.1 L457.6,121.9 L459.2,120.6 L460.8,119.3 L462.3,118.0 L463.9,116.7 L465.5,115.5 L467.0,114.3 L468.6,113.2 L470.1,112.2 L471.7,111.3 L473.3,110.5 L474.8,109.9 L476.4,109.4 L477.9,109.1 L479.5,109.0 L481.1,109.2 L482.6,109.6 L484.2,110.1 L485.8,110.8 L487.3,111.6 L488.9,112.5 L490.4,113.5 L492.0,114.5 L493.6,115.7 L495.1,116.9 L496.7,118.1 L498.2,119.3 L499.8,120.6 L501.4,121.8 L502.9,123.0 L504.5,124.1 L506.0,125.2 L507.6,126.2 L509.2,127.2 L510.7,128.1 L512.3,128.9 L513.9,129.6 L515.4,130.3 L517.0,130.9 L518.5,131.4 L520.1,131.9 L521.7,132.3 L523.2,132.7 L524.8,133.0 L526.3,133.2 L527.9,133.4 L529.5,133.6 L531.0,133.8 L532.6,133.9 L534.1,134.0 L535.7,134.1 L537.3,134.2 L538.8,134.2 L540.4,134.3 L542.0,134.3 L543.5,134.3 L545.1,134.4 L546.6,134.4 L548.2,134.4 L549.8,134.4 L551.3,134.4 L552.9,134.4 L554.4,134.5 L556.0,134.5" fill="none" stroke="#E3202C" stroke-width="1.5" stroke-linejoin="round" stroke-linecap="round" />
</g>
<line x1="415.50" y1="73.40" x2="556.00" y2="73.40" stroke="#b4b4b4" stroke-width="1.3" />
<line x1="556.00" y1="73.40" x2="556.00" y2="134.90" stroke="#8f8f8f" stroke-width="1.0" />
<line x1="415.50" y1="72.90" x2="415.50" y2="135.40" stroke="#6e6e6e" stroke-width="1.1" />
<line x1="415.00" y1="134.90" x2="556.50" y2="134.90" stroke="#838383" stroke-width="1.0" />
<text font-size="8.8" fill="#E03A4B" stroke="#E03A4B" stroke-width="0.2" font-style="italic" textLength="51.20" lengthAdjust="spacingAndGlyphs" x="497.80" y="113.20" >sbt5.2#4</text>
<text font-size="8.6" fill="#3E3F9C" stroke="#3E3F9C" stroke-width="0.2" textLength="17.30" lengthAdjust="spacingAndGlyphs" x="471.50" y="126.70" >WT</text>
<line x1="114.20" y1="73.40" x2="118.80" y2="73.40" stroke="#6e6e6e" stroke-width="1" />
<text font-size="8.4" fill="#262626" stroke="#262626" stroke-width="0.2" textLength="11.20" lengthAdjust="spacingAndGlyphs" x="98.00" y="76.40" >10</text>
<line x1="114.20" y1="104.15" x2="118.80" y2="104.15" stroke="#6e6e6e" stroke-width="1" />
<text font-size="8.4" fill="#262626" stroke="#262626" stroke-width="0.2" textLength="5.60" lengthAdjust="spacingAndGlyphs" x="103.60" y="107.15" >5</text>
<line x1="114.20" y1="134.90" x2="118.80" y2="134.90" stroke="#6e6e6e" stroke-width="1" />
<text font-size="8.4" fill="#262626" stroke="#262626" stroke-width="0.2" textLength="5.60" lengthAdjust="spacingAndGlyphs" x="103.60" y="137.90" >0</text>
<g clip-path="url(#cp10)">
<path d="M118.8,204.7 L120.4,204.7 L121.9,204.7 L123.5,204.5 L125.0,204.3 L126.6,203.8 L128.2,203.2 L129.7,202.3 L131.3,201.1 L132.8,199.7 L134.4,198.0 L136.0,196.2 L137.5,194.4 L139.1,192.7 L140.7,191.1 L142.2,189.4 L143.8,187.6 L145.3,185.8 L146.9,183.9 L148.5,182.1 L150.0,180.2 L151.6,178.5 L153.1,176.8 L154.7,175.3 L156.3,173.9 L157.8,172.8 L159.4,171.8 L160.9,171.1 L162.5,170.6 L164.1,170.4 L165.6,170.7 L167.2,171.2 L168.8,172.0 L170.3,172.9 L171.9,174.0 L173.4,175.3 L175.0,176.7 L176.6,178.2 L178.1,179.8 L179.7,181.5 L181.2,183.2 L182.8,184.9 L184.4,186.6 L185.9,188.3 L187.5,189.9 L189.1,191.5 L190.6,193.0 L192.2,194.3 L193.7,195.6 L195.3,196.8 L196.9,197.8 L198.4,198.8 L200.0,199.6 L201.5,200.4 L203.1,201.1 L204.7,201.6 L206.2,202.1 L207.8,202.6 L209.3,202.9 L210.9,203.2 L212.5,203.5 L214.0,203.7 L215.6,203.9 L217.1,204.0 L218.7,204.1 L220.3,204.2 L221.8,204.3 L223.4,204.4 L225.0,204.4 L226.5,204.5 L228.1,204.5 L229.6,204.5 L231.2,204.5 L232.8,204.6 L234.3,204.6 L235.9,204.6 L237.4,204.6 L239.0,204.6 L240.6,204.6 L242.1,204.6 L243.7,204.6 L245.2,204.6 L246.8,204.6 L248.4,204.6 L249.9,204.6 L251.5,204.7 L253.1,204.7 L254.6,204.7 L256.2,204.7 L257.7,204.7 L259.3,204.7 L259.3,204.7 L257.7,204.7 L256.2,204.7 L254.6,204.7 L253.1,204.7 L251.5,204.7 L249.9,204.7 L248.4,204.7 L246.8,204.7 L245.2,204.7 L243.7,204.7 L242.1,204.7 L240.6,204.7 L239.0,204.6 L237.4,204.6 L235.9,204.6 L234.3,204.6 L232.8,204.6 L231.2,204.6 L229.6,204.6 L228.1,204.6 L226.5,204.6 L225.0,204.5 L223.4,204.5 L221.8,204.5 L220.3,204.4 L218.7,204.4 L217.1,204.3 L215.6,204.2 L214.0,204.1 L212.5,204.0 L210.9,203.9 L209.3,203.7 L207.8,203.5 L206.2,203.2 L204.7,203.0 L203.1,202.6 L201.5,202.3 L200.0,201.8 L198.4,201.4 L196.9,200.8 L195.3,200.2 L193.7,199.6 L192.2,198.9 L190.6,198.1 L189.1,197.3 L187.5,196.4 L185.9,195.5 L184.4,194.5 L182.8,193.6 L181.2,192.6 L179.7,191.6 L178.1,190.7 L176.6,189.8 L175.0,188.9 L173.4,188.1 L171.9,187.4 L170.3,186.8 L168.8,186.3 L167.2,185.8 L165.6,185.5 L164.1,185.4 L162.5,185.5 L160.9,185.8 L159.4,186.2 L157.8,186.7 L156.3,187.4 L154.7,188.1 L153.1,189.0 L151.6,189.9 L150.0,190.9 L148.5,191.9 L146.9,193.0 L145.3,194.0 L143.8,195.1 L142.2,196.1 L140.7,197.0 L139.1,197.9 L137.5,198.9 L136.0,199.9 L134.4,201.0 L132.8,201.9 L131.3,202.7 L129.7,203.3 L128.2,203.8 L126.6,204.2 L125.0,204.5 L123.5,204.6 L121.9,204.7 L120.4,204.7 L118.8,204.7Z" fill="#FACFD3" stroke="none" stroke-width="0" stroke-linejoin="round" stroke-linecap="round" fill-opacity="1"/>
<path d="M118.8,204.7 L120.4,204.7 L121.9,204.7 L123.5,204.6 L125.0,204.5 L126.6,204.4 L128.2,204.2 L129.7,204.0 L131.3,203.7 L132.8,203.4 L134.4,203.0 L136.0,202.6 L137.5,202.3 L139.1,201.9 L140.7,201.6 L142.2,201.3 L143.8,201.0 L145.3,200.7 L146.9,200.5 L148.5,200.2 L150.0,200.1 L151.6,199.9 L153.1,199.9 L154.7,199.8 L156.3,199.9 L157.8,200.0 L159.4,200.1 L160.9,200.2 L162.5,200.4 L164.1,200.6 L165.6,200.8 L167.2,201.0 L168.8,201.2 L170.3,201.4 L171.9,201.7 L173.4,201.9 L175.0,202.1 L176.6,202.4 L178.1,202.6 L179.7,202.8 L181.2,203.0 L182.8,203.2 L184.4,203.4 L185.9,203.5 L187.5,203.7 L189.1,203.8 L190.6,203.9 L192.2,204.1 L193.7,204.1 L195.3,204.2 L196.9,204.3 L198.4,204.4 L200.0,204.4 L201.5,204.5 L203.1,204.5 L204.7,204.5 L206.2,204.6 L207.8,204.6 L209.3,204.6 L210.9,204.6 L212.5,204.6 L214.0,204.6 L215.6,204.7 L217.1,204.7 L218.7,204.7 L220.3,204.7 L221.8,204.7 L223.4,204.7 L225.0,204.7 L226.5,204.7 L228.1,204.7 L229.6,204.7 L231.2,204.7 L232.8,204.7 L234.3,204.7 L235.9,204.7 L237.4,204.7 L239.0,204.7 L240.6,204.7 L242.1,204.7 L243.7,204.7 L245.2,204.7 L246.8,204.7 L248.4,204.7 L249.9,204.7 L251.5,204.7 L253.1,204.7 L254.6,204.7 L256.2,204.7 L257.7,204.7 L259.3,204.7 L259.3,204.7 L257.7,204.7 L256.2,204.7 L254.6,204.7 L253.1,204.7 L251.5,204.7 L249.9,204.7 L248.4,204.7 L246.8,204.7 L245.2,204.7 L243.7,204.7 L242.1,204.7 L240.6,204.7 L239.0,204.7 L237.4,204.7 L235.9,204.7 L234.3,204.7 L232.8,204.7 L231.2,204.7 L229.6,204.7 L228.1,204.7 L226.5,204.7 L225.0,204.7 L223.4,204.7 L221.8,204.7 L220.3,204.7 L218.7,204.7 L217.1,204.7 L215.6,204.7 L214.0,204.7 L212.5,204.7 L210.9,204.6 L209.3,204.6 L207.8,204.6 L206.2,204.6 L204.7,204.6 L203.1,204.6 L201.5,204.5 L200.0,204.5 L198.4,204.5 L196.9,204.4 L195.3,204.4 L193.7,204.3 L192.2,204.2 L190.6,204.1 L189.1,204.0 L187.5,203.9 L185.9,203.8 L184.4,203.7 L182.8,203.6 L181.2,203.4 L179.7,203.3 L178.1,203.1 L176.6,203.0 L175.0,202.8 L173.4,202.6 L171.9,202.4 L170.3,202.3 L168.8,202.1 L167.2,201.9 L165.6,201.8 L164.1,201.6 L162.5,201.5 L160.9,201.4 L159.4,201.3 L157.8,201.2 L156.3,201.1 L154.7,201.1 L153.1,201.1 L151.6,201.2 L150.0,201.3 L148.5,201.4 L146.9,201.5 L145.3,201.7 L143.8,202.0 L142.2,202.2 L140.7,202.4 L139.1,202.7 L137.5,202.9 L136.0,203.1 L134.4,203.4 L132.8,203.7 L131.3,204.0 L129.7,204.2 L128.2,204.4 L126.6,204.5 L125.0,204.6 L123.5,204.6 L121.9,204.7 L120.4,204.7 L118.8,204.7Z" fill="#C4C5E4" stroke="none" stroke-width="0" stroke-linejoin="round" stroke-linecap="round" fill-opacity="0.7"/>
<path d="M118.8,204.3 L120.4,204.3 L121.9,204.3 L123.5,204.3 L125.0,204.2 L126.6,204.1 L128.2,203.9 L129.7,203.7 L131.3,203.5 L132.8,203.2 L134.4,202.8 L136.0,202.5 L137.5,202.2 L139.1,201.9 L140.7,201.6 L142.2,201.4 L143.8,201.1 L145.3,200.9 L146.9,200.6 L148.5,200.4 L150.0,200.3 L151.6,200.2 L153.1,200.1 L154.7,200.1 L156.3,200.1 L157.8,200.2 L159.4,200.3 L160.9,200.4 L162.5,200.6 L164.1,200.7 L165.6,200.9 L167.2,201.1 L168.8,201.3 L170.3,201.5 L171.9,201.7 L173.4,201.9 L175.0,202.1 L176.6,202.3 L178.1,202.5 L179.7,202.7 L181.2,202.8 L182.8,203.0 L184.4,203.2 L185.9,203.3 L187.5,203.4 L189.1,203.6 L190.6,203.7 L192.2,203.8 L193.7,203.8 L195.3,203.9 L196.9,204.0 L198.4,204.0 L200.0,204.1 L201.5,204.1 L203.1,204.2 L204.7,204.2 L206.2,204.2 L207.8,204.2 L209.3,204.2 L210.9,204.3 L212.5,204.3 L214.0,204.3 L215.6,204.3 L217.1,204.3 L218.7,204.3 L220.3,204.3 L221.8,204.3 L223.4,204.3 L225.0,204.3 L226.5,204.3 L228.1,204.3 L229.6,204.3 L231.2,204.3 L232.8,204.3 L234.3,204.3 L235.9,204.3 L237.4,204.3 L239.0,204.3 L240.6,204.3 L242.1,204.3 L243.7,204.3 L245.2,204.3 L246.8,204.3 L248.4,204.3 L249.9,204.3 L251.5,204.3 L253.1,204.3 L254.6,204.3 L256.2,204.3 L257.7,204.3 L259.3,204.3" fill="none" stroke="#3A3C9A" stroke-width="1.5" stroke-linejoin="round" stroke-linecap="round" />
<path d="M118.8,204.3 L120.4,204.3 L121.9,204.3 L123.5,204.2 L125.0,204.0 L126.6,203.7 L128.2,203.1 L129.7,202.4 L131.3,201.5 L132.8,200.4 L134.4,199.1 L136.0,197.7 L137.5,196.3 L139.1,194.9 L140.7,193.7 L142.2,192.3 L143.8,191.0 L145.3,189.5 L146.9,188.1 L148.5,186.6 L150.0,185.2 L151.6,183.8 L153.1,182.5 L154.7,181.3 L156.3,180.3 L157.8,179.4 L159.4,178.6 L160.9,178.0 L162.5,177.7 L164.1,177.5 L165.6,177.8 L167.2,178.2 L168.8,178.7 L170.3,179.5 L171.9,180.3 L173.4,181.3 L175.0,182.4 L176.6,183.6 L178.1,184.9 L179.7,186.2 L181.2,187.5 L182.8,188.9 L184.4,190.2 L185.9,191.5 L187.5,192.8 L189.1,194.0 L190.6,195.1 L192.2,196.2 L193.7,197.2 L195.3,198.1 L196.9,199.0 L198.4,199.7 L200.0,200.4 L201.5,201.0 L203.1,201.5 L204.7,201.9 L206.2,202.3 L207.8,202.6 L209.3,202.9 L210.9,203.2 L212.5,203.4 L214.0,203.5 L215.6,203.7 L217.1,203.8 L218.7,203.9 L220.3,203.9 L221.8,204.0 L223.4,204.1 L225.0,204.1 L226.5,204.1 L228.1,204.2 L229.6,204.2 L231.2,204.2 L232.8,204.2 L234.3,204.2 L235.9,204.2 L237.4,204.2 L239.0,204.3 L240.6,204.3 L242.1,204.3 L243.7,204.3 L245.2,204.3 L246.8,204.3 L248.4,204.3 L249.9,204.3 L251.5,204.3 L253.1,204.3 L254.6,204.3 L256.2,204.3 L257.7,204.3 L259.3,204.3" fill="none" stroke="#E3202C" stroke-width="1.5" stroke-linejoin="round" stroke-linecap="round" />
</g>
<line x1="118.80" y1="142.40" x2="259.30" y2="142.40" stroke="#b4b4b4" stroke-width="1.3" />
<line x1="259.30" y1="142.40" x2="259.30" y2="204.70" stroke="#8f8f8f" stroke-width="1.0" />
<line x1="118.80" y1="141.90" x2="118.80" y2="205.20" stroke="#6e6e6e" stroke-width="1.1" />
<line x1="118.30" y1="204.70" x2="259.80" y2="204.70" stroke="#838383" stroke-width="1.0" />
<text font-size="8.8" fill="#E03A4B" stroke="#E03A4B" stroke-width="0.2" font-style="italic" textLength="49.90" lengthAdjust="spacingAndGlyphs" x="155.80" y="167.40" >sbt5.2#4</text>
<text font-size="8.6" fill="#3E3F9C" stroke="#3E3F9C" stroke-width="0.2" textLength="17.70" lengthAdjust="spacingAndGlyphs" x="150.00" y="198.20" >WT</text>
<g clip-path="url(#cp11)">
<path d="M267.4,204.7 L269.0,204.7 L270.5,204.7 L272.1,204.6 L273.6,204.4 L275.2,204.0 L276.8,203.3 L278.3,202.4 L279.9,201.1 L281.4,199.4 L283.0,197.4 L284.6,195.1 L286.1,192.6 L287.7,190.2 L289.3,187.9 L290.8,185.6 L292.4,183.2 L293.9,180.8 L295.5,178.3 L297.1,175.8 L298.6,173.4 L300.2,171.2 L301.7,169.2 L303.3,167.4 L304.9,165.9 L306.4,164.7 L308.0,164.0 L309.5,163.6 L311.1,163.8 L312.7,164.4 L314.2,165.2 L315.8,166.3 L317.4,167.6 L318.9,169.1 L320.5,170.7 L322.0,172.6 L323.6,174.5 L325.2,176.5 L326.7,178.5 L328.3,180.6 L329.8,182.6 L331.4,184.6 L333.0,186.6 L334.5,188.5 L336.1,190.3 L337.6,191.9 L339.2,193.5 L340.8,194.9 L342.3,196.2 L343.9,197.4 L345.5,198.4 L347.0,199.4 L348.6,200.2 L350.1,200.9 L351.7,201.5 L353.3,202.0 L354.8,202.5 L356.4,202.9 L357.9,203.2 L359.5,203.4 L361.1,203.7 L362.6,203.8 L364.2,204.0 L365.8,204.1 L367.3,204.2 L368.9,204.3 L370.4,204.3 L372.0,204.4 L373.6,204.4 L375.1,204.5 L376.7,204.5 L378.2,204.5 L379.8,204.5 L381.4,204.6 L382.9,204.6 L384.5,204.6 L386.0,204.6 L387.6,204.6 L389.2,204.6 L390.7,204.6 L392.3,204.6 L393.8,204.6 L395.4,204.6 L397.0,204.6 L398.5,204.6 L400.1,204.7 L401.7,204.7 L403.2,204.7 L404.8,204.7 L406.3,204.7 L407.9,204.7 L407.9,204.7 L406.3,204.7 L404.8,204.7 L403.2,204.7 L401.7,204.7 L400.1,204.7 L398.5,204.7 L397.0,204.7 L395.4,204.7 L393.8,204.7 L392.3,204.6 L390.7,204.6 L389.2,204.6 L387.6,204.6 L386.0,204.6 L384.5,204.6 L382.9,204.6 L381.4,204.6 L379.8,204.6 L378.2,204.6 L376.7,204.6 L375.1,204.5 L373.6,204.5 L372.0,204.5 L370.4,204.5 L368.9,204.4 L367.3,204.4 L365.8,204.3 L364.2,204.2 L362.6,204.1 L361.1,204.0 L359.5,203.8 L357.9,203.6 L356.4,203.4 L354.8,203.1 L353.3,202.8 L351.7,202.5 L350.1,202.0 L348.6,201.5 L347.0,201.0 L345.5,200.3 L343.9,199.6 L342.3,198.8 L340.8,197.9 L339.2,196.9 L337.6,195.8 L336.1,194.6 L334.5,193.4 L333.0,192.1 L331.4,190.7 L329.8,189.3 L328.3,187.9 L326.7,186.4 L325.2,185.0 L323.6,183.6 L322.0,182.3 L320.5,181.0 L318.9,179.9 L317.4,178.8 L315.8,177.9 L314.2,177.2 L312.7,176.6 L311.1,176.2 L309.5,176.1 L308.0,176.3 L306.4,176.9 L304.9,177.7 L303.3,178.7 L301.7,179.9 L300.2,181.3 L298.6,182.9 L297.1,184.6 L295.5,186.3 L293.9,188.0 L292.4,189.7 L290.8,191.4 L289.3,193.0 L287.7,194.6 L286.1,196.3 L284.6,198.0 L283.0,199.6 L281.4,201.0 L279.9,202.2 L278.3,203.1 L276.8,203.7 L275.2,204.2 L273.6,204.5 L272.1,204.6 L270.5,204.7 L269.0,204.7 L267.4,204.7Z" fill="#FACFD3" stroke="none" stroke-width="0" stroke-linejoin="round" stroke-linecap="round" fill-opacity="1"/>
<path d="M267.4,204.3 L269.0,204.3 L270.5,204.3 L272.1,204.3 L273.6,204.3 L275.2,204.3 L276.8,204.3 L278.3,204.3 L279.9,204.3 L281.4,204.2 L283.0,204.2 L284.6,204.2 L286.1,204.2 L287.7,204.2 L289.3,204.2 L290.8,204.2 L292.4,204.1 L293.9,204.1 L295.5,204.1 L297.1,204.1 L298.6,204.1 L300.2,204.1 L301.7,204.1 L303.3,204.0 L304.9,204.0 L306.4,204.0 L308.0,204.0 L309.5,204.0 L311.1,204.0 L312.7,204.0 L314.2,204.0 L315.8,204.0 L317.4,204.0 L318.9,204.0 L320.5,204.0 L322.0,204.1 L323.6,204.1 L325.2,204.1 L326.7,204.1 L328.3,204.1 L329.8,204.1 L331.4,204.1 L333.0,204.1 L334.5,204.1 L336.1,204.1 L337.6,204.2 L339.2,204.2 L340.8,204.2 L342.3,204.2 L343.9,204.2 L345.5,204.2 L347.0,204.2 L348.6,204.2 L350.1,204.2 L351.7,204.2 L353.3,204.3 L354.8,204.3 L356.4,204.3 L357.9,204.3 L359.5,204.3 L361.1,204.3 L362.6,204.3 L364.2,204.3 L365.8,204.3 L367.3,204.3 L368.9,204.3 L370.4,204.3 L372.0,204.3 L373.6,204.3 L375.1,204.3 L376.7,204.3 L378.2,204.3 L379.8,204.3 L381.4,204.3 L382.9,204.3 L384.5,204.3 L386.0,204.3 L387.6,204.3 L389.2,204.3 L390.7,204.3 L392.3,204.3 L393.8,204.3 L395.4,204.3 L397.0,204.3 L398.5,204.3 L400.1,204.3 L401.7,204.3 L403.2,204.3 L404.8,204.3 L406.3,204.3 L407.9,204.3" fill="none" stroke="#3A3C9A" stroke-width="1.5" stroke-linejoin="round" stroke-linecap="round" />
<path d="M267.4,204.3 L269.0,204.3 L270.5,204.3 L272.1,204.2 L273.6,204.1 L275.2,203.7 L276.8,203.2 L278.3,202.4 L279.9,201.3 L281.4,199.9 L283.0,198.1 L284.6,196.2 L286.1,194.1 L287.7,192.0 L289.3,190.1 L290.8,188.2 L292.4,186.1 L293.9,184.0 L295.5,181.9 L297.1,179.8 L298.6,177.8 L300.2,175.9 L301.7,174.2 L303.3,172.7 L304.9,171.4 L306.4,170.4 L308.0,169.8 L309.5,169.5 L311.1,169.6 L312.7,170.1 L314.2,170.8 L315.8,171.8 L317.4,172.9 L318.9,174.1 L320.5,175.5 L322.0,177.0 L323.6,178.7 L325.2,180.4 L326.7,182.1 L328.3,183.9 L329.8,185.6 L331.4,187.3 L333.0,189.0 L334.5,190.6 L336.1,192.1 L337.6,193.5 L339.2,194.8 L340.8,196.0 L342.3,197.1 L343.9,198.1 L345.5,199.0 L347.0,199.8 L348.6,200.5 L350.1,201.1 L351.7,201.6 L353.3,202.1 L354.8,202.4 L356.4,202.8 L357.9,203.0 L359.5,203.3 L361.1,203.4 L362.6,203.6 L364.2,203.7 L365.8,203.8 L367.3,203.9 L368.9,204.0 L370.4,204.0 L372.0,204.1 L373.6,204.1 L375.1,204.1 L376.7,204.2 L378.2,204.2 L379.8,204.2 L381.4,204.2 L382.9,204.2 L384.5,204.2 L386.0,204.2 L387.6,204.2 L389.2,204.3 L390.7,204.3 L392.3,204.3 L393.8,204.3 L395.4,204.3 L397.0,204.3 L398.5,204.3 L400.1,204.3 L401.7,204.3 L403.2,204.3 L404.8,204.3 L406.3,204.3 L407.9,204.3" fill="none" stroke="#E3202C" stroke-width="1.5" stroke-linejoin="round" stroke-linecap="round" />
</g>
<line x1="267.40" y1="142.40" x2="407.90" y2="142.40" stroke="#b4b4b4" stroke-width="1.3" />
<line x1="407.90" y1="142.40" x2="407.90" y2="204.70" stroke="#8f8f8f" stroke-width="1.0" />
<line x1="267.40" y1="141.90" x2="267.40" y2="205.20" stroke="#6e6e6e" stroke-width="1.1" />
<line x1="266.90" y1="204.70" x2="408.40" y2="204.70" stroke="#838383" stroke-width="1.0" />
<text font-size="8.8" fill="#E03A4B" stroke="#E03A4B" stroke-width="0.2" font-style="italic" textLength="50.20" lengthAdjust="spacingAndGlyphs" x="325.60" y="171.70" >sbt5.2#4</text>
<text font-size="8.6" fill="#3E3F9C" stroke="#3E3F9C" stroke-width="0.2" textLength="17.70" lengthAdjust="spacingAndGlyphs" x="298.60" y="202.40" >WT</text>
<g clip-path="url(#cp12)">
<path d="M415.5,204.7 L417.1,204.7 L418.6,204.7 L420.2,204.7 L421.7,204.7 L423.3,204.7 L424.9,204.6 L426.4,204.4 L428.0,204.1 L429.6,203.6 L431.1,202.9 L432.7,202.0 L434.2,200.9 L435.8,199.6 L437.4,198.1 L438.9,196.6 L440.5,195.2 L442.0,193.8 L443.6,192.4 L445.2,190.9 L446.7,189.4 L448.3,187.7 L449.8,186.1 L451.4,184.4 L453.0,182.8 L454.5,181.2 L456.1,179.7 L457.6,178.2 L459.2,176.9 L460.8,175.7 L462.3,174.8 L463.9,174.0 L465.5,173.4 L467.0,173.0 L468.6,172.9 L470.1,173.3 L471.7,173.7 L473.3,174.4 L474.8,175.2 L476.4,176.2 L477.9,177.3 L479.5,178.5 L481.1,179.8 L482.6,181.1 L484.2,182.6 L485.8,184.0 L487.3,185.5 L488.9,187.0 L490.4,188.5 L492.0,189.9 L493.6,191.3 L495.1,192.7 L496.7,193.9 L498.2,195.1 L499.8,196.2 L501.4,197.3 L502.9,198.2 L504.5,199.0 L506.0,199.8 L507.6,200.5 L509.2,201.1 L510.7,201.6 L512.3,202.1 L513.9,202.5 L515.4,202.9 L517.0,203.2 L518.5,203.4 L520.1,203.6 L521.7,203.8 L523.2,204.0 L524.8,204.1 L526.3,204.2 L527.9,204.3 L529.5,204.3 L531.0,204.4 L532.6,204.4 L534.1,204.5 L535.7,204.5 L537.3,204.5 L538.8,204.6 L540.4,204.6 L542.0,204.6 L543.5,204.6 L545.1,204.6 L546.6,204.6 L548.2,204.6 L549.8,204.6 L551.3,204.6 L552.9,204.6 L554.4,204.7 L556.0,204.7 L556.0,204.7 L554.4,204.7 L552.9,204.7 L551.3,204.7 L549.8,204.7 L548.2,204.6 L546.6,204.6 L545.1,204.6 L543.5,204.6 L542.0,204.6 L540.4,204.6 L538.8,204.6 L537.3,204.6 L535.7,204.6 L534.1,204.5 L532.6,204.5 L531.0,204.5 L529.5,204.4 L527.9,204.4 L526.3,204.3 L524.8,204.2 L523.2,204.2 L521.7,204.0 L520.1,203.9 L518.5,203.7 L517.0,203.6 L515.4,203.3 L513.9,203.1 L512.3,202.8 L510.7,202.4 L509.2,202.0 L507.6,201.6 L506.0,201.1 L504.5,200.5 L502.9,199.9 L501.4,199.2 L499.8,198.5 L498.2,197.7 L496.7,196.8 L495.1,195.9 L493.6,194.9 L492.0,193.8 L490.4,192.8 L488.9,191.7 L487.3,190.6 L485.8,189.5 L484.2,188.4 L482.6,187.4 L481.1,186.4 L479.5,185.4 L477.9,184.5 L476.4,183.7 L474.8,183.0 L473.3,182.4 L471.7,181.9 L470.1,181.6 L468.6,181.3 L467.0,181.4 L465.5,181.7 L463.9,182.1 L462.3,182.7 L460.8,183.4 L459.2,184.3 L457.6,185.2 L456.1,186.3 L454.5,187.4 L453.0,188.6 L451.4,189.8 L449.8,191.0 L448.3,192.2 L446.7,193.4 L445.2,194.6 L443.6,195.7 L442.0,196.7 L440.5,197.7 L438.9,198.8 L437.4,199.9 L435.8,201.0 L434.2,201.9 L432.7,202.7 L431.1,203.4 L429.6,203.9 L428.0,204.3 L426.4,204.5 L424.9,204.6 L423.3,204.7 L421.7,204.7 L420.2,204.7 L418.6,204.7 L417.1,204.7 L415.5,204.7Z" fill="#FACFD3" stroke="none" stroke-width="0" stroke-linejoin="round" stroke-linecap="round" fill-opacity="1"/>
<path d="M415.5,204.3 L417.1,204.3 L418.6,204.3 L420.2,204.3 L421.7,204.3 L423.3,204.3 L424.9,204.3 L426.4,204.3 L428.0,204.3 L429.6,204.3 L431.1,204.3 L432.7,204.3 L434.2,204.3 L435.8,204.3 L437.4,204.3 L438.9,204.3 L440.5,204.2 L442.0,204.2 L443.6,204.2 L445.2,204.2 L446.7,204.2 L448.3,204.2 L449.8,204.2 L451.4,204.2 L453.0,204.2 L454.5,204.1 L456.1,204.1 L457.6,204.1 L459.2,204.1 L460.8,204.1 L462.3,204.1 L463.9,204.1 L465.5,204.1 L467.0,204.1 L468.6,204.1 L470.1,204.1 L471.7,204.1 L473.3,204.1 L474.8,204.1 L476.4,204.1 L477.9,204.1 L479.5,204.1 L481.1,204.1 L482.6,204.1 L484.2,204.1 L485.8,204.1 L487.3,204.1 L488.9,204.2 L490.4,204.2 L492.0,204.2 L493.6,204.2 L495.1,204.2 L496.7,204.2 L498.2,204.2 L499.8,204.2 L501.4,204.2 L502.9,204.2 L504.5,204.2 L506.0,204.2 L507.6,204.3 L509.2,204.3 L510.7,204.3 L512.3,204.3 L513.9,204.3 L515.4,204.3 L517.0,204.3 L518.5,204.3 L520.1,204.3 L521.7,204.3 L523.2,204.3 L524.8,204.3 L526.3,204.3 L527.9,204.3 L529.5,204.3 L531.0,204.3 L532.6,204.3 L534.1,204.3 L535.7,204.3 L537.3,204.3 L538.8,204.3 L540.4,204.3 L542.0,204.3 L543.5,204.3 L545.1,204.3 L546.6,204.3 L548.2,204.3 L549.8,204.3 L551.3,204.3 L552.9,204.3 L554.4,204.3 L556.0,204.3" fill="none" stroke="#3A3C9A" stroke-width="1.5" stroke-linejoin="round" stroke-linecap="round" />
<path d="M415.5,204.3 L417.1,204.3 L418.6,204.3 L420.2,204.3 L421.7,204.3 L423.3,204.3 L424.9,204.2 L426.4,204.1 L428.0,203.8 L429.6,203.4 L431.1,202.8 L432.7,202.0 L434.2,201.1 L435.8,199.9 L437.4,198.7 L438.9,197.4 L440.5,196.1 L442.0,195.0 L443.6,193.7 L445.2,192.4 L446.7,191.1 L448.3,189.7 L449.8,188.3 L451.4,186.8 L453.0,185.4 L454.5,184.0 L456.1,182.7 L457.6,181.5 L459.2,180.3 L460.8,179.3 L462.3,178.5 L463.9,177.8 L465.5,177.3 L467.0,177.0 L468.6,176.9 L470.1,177.2 L471.7,177.6 L473.3,178.2 L474.8,178.9 L476.4,179.7 L477.9,180.7 L479.5,181.7 L481.1,182.8 L482.6,184.0 L484.2,185.2 L485.8,186.5 L487.3,187.8 L488.9,189.1 L490.4,190.3 L492.0,191.6 L493.6,192.8 L495.1,193.9 L496.7,195.0 L498.2,196.1 L499.8,197.0 L501.4,197.9 L502.9,198.7 L504.5,199.4 L506.0,200.1 L507.6,200.7 L509.2,201.2 L510.7,201.7 L512.3,202.1 L513.9,202.4 L515.4,202.7 L517.0,203.0 L518.5,203.2 L520.1,203.4 L521.7,203.6 L523.2,203.7 L524.8,203.8 L526.3,203.9 L527.9,204.0 L529.5,204.0 L531.0,204.1 L532.6,204.1 L534.1,204.1 L535.7,204.2 L537.3,204.2 L538.8,204.2 L540.4,204.2 L542.0,204.2 L543.5,204.2 L545.1,204.3 L546.6,204.3 L548.2,204.3 L549.8,204.3 L551.3,204.3 L552.9,204.3 L554.4,204.3 L556.0,204.3" fill="none" stroke="#E3202C" stroke-width="1.5" stroke-linejoin="round" stroke-linecap="round" />
</g>
<line x1="415.50" y1="142.40" x2="556.00" y2="142.40" stroke="#b4b4b4" stroke-width="1.3" />
<line x1="556.00" y1="142.40" x2="556.00" y2="204.70" stroke="#8f8f8f" stroke-width="1.0" />
<line x1="415.50" y1="141.90" x2="415.50" y2="205.20" stroke="#6e6e6e" stroke-width="1.1" />
<line x1="415.00" y1="204.70" x2="556.50" y2="204.70" stroke="#838383" stroke-width="1.0" />
<text font-size="8.8" fill="#E03A4B" stroke="#E03A4B" stroke-width="0.2" font-style="italic" textLength="50.40" lengthAdjust="spacingAndGlyphs" x="487.80" y="181.30" >sbt5.2#4</text>
<text font-size="8.6" fill="#3E3F9C" stroke="#3E3F9C" stroke-width="0.2" textLength="18.70" lengthAdjust="spacingAndGlyphs" x="458.00" y="202.40" >WT</text>
<line x1="114.20" y1="142.40" x2="118.80" y2="142.40" stroke="#6e6e6e" stroke-width="1" />
<text font-size="8.4" fill="#262626" stroke="#262626" stroke-width="0.2" textLength="11.20" lengthAdjust="spacingAndGlyphs" x="98.00" y="145.40" >10</text>
<line x1="114.20" y1="173.55" x2="118.80" y2="173.55" stroke="#6e6e6e" stroke-width="1" />
<text font-size="8.4" fill="#262626" stroke="#262626" stroke-width="0.2" textLength="5.60" lengthAdjust="spacingAndGlyphs" x="103.60" y="176.55" >5</text>
<line x1="114.20" y1="204.70" x2="118.80" y2="204.70" stroke="#6e6e6e" stroke-width="1" />
<text font-size="8.4" fill="#262626" stroke="#262626" stroke-width="0.2" textLength="5.60" lengthAdjust="spacingAndGlyphs" x="103.60" y="207.70" >0</text>
<g clip-path="url(#cp20)">
<path d="M118.8,274.2 L120.4,274.0 L121.9,273.4 L123.5,272.6 L125.0,271.3 L126.6,269.6 L128.2,267.4 L129.7,264.6 L131.3,261.4 L132.8,257.9 L134.4,254.5 L136.0,251.1 L137.5,247.6 L139.1,243.7 L140.7,239.7 L142.2,235.6 L143.8,231.4 L145.3,227.2 L146.9,223.1 L148.5,219.2 L150.0,215.6 L151.6,212.4 L153.1,209.7 L154.7,207.5 L156.3,206.0 L157.8,205.1 L159.4,205.0 L160.9,205.9 L162.5,207.5 L164.1,209.6 L165.6,212.3 L167.2,215.4 L168.8,218.8 L170.3,222.6 L171.9,226.6 L173.4,230.7 L175.0,234.8 L176.6,238.9 L178.1,242.8 L179.7,246.6 L181.2,250.2 L182.8,253.4 L184.4,256.4 L185.9,259.1 L187.5,261.5 L189.1,263.6 L190.6,265.4 L192.2,267.0 L193.7,268.3 L195.3,269.4 L196.9,270.4 L198.4,271.1 L200.0,271.7 L201.5,272.2 L203.1,272.6 L204.7,272.9 L206.2,273.2 L207.8,273.4 L209.3,273.5 L210.9,273.7 L212.5,273.8 L214.0,273.8 L215.6,273.9 L217.1,274.0 L218.7,274.0 L220.3,274.0 L221.8,274.1 L223.4,274.1 L225.0,274.1 L226.5,274.1 L228.1,274.2 L229.6,274.2 L231.2,274.2 L232.8,274.2 L234.3,274.2 L235.9,274.2 L237.4,274.3 L239.0,274.3 L240.6,274.3 L242.1,274.3 L243.7,274.3 L245.2,274.3 L246.8,274.3 L248.4,274.3 L249.9,274.3 L251.5,274.3 L253.1,274.3 L254.6,274.3 L256.2,274.3 L257.7,274.3 L259.3,274.4 L259.3,274.4 L257.7,274.4 L256.2,274.4 L254.6,274.4 L253.1,274.4 L251.5,274.3 L249.9,274.3 L248.4,274.3 L246.8,274.3 L245.2,274.3 L243.7,274.3 L242.1,274.3 L240.6,274.3 L239.0,274.3 L237.4,274.3 L235.9,274.3 L234.3,274.3 L232.8,274.3 L231.2,274.3 L229.6,274.2 L228.1,274.2 L226.5,274.2 L225.0,274.2 L223.4,274.2 L221.8,274.2 L220.3,274.1 L218.7,274.1 L217.1,274.1 L215.6,274.0 L214.0,274.0 L212.5,273.9 L210.9,273.9 L209.3,273.8 L207.8,273.7 L206.2,273.5 L204.7,273.3 L203.1,273.1 L201.5,272.8 L200.0,272.5 L198.4,272.0 L196.9,271.5 L195.3,270.9 L193.7,270.1 L192.2,269.1 L190.6,268.0 L189.1,266.7 L187.5,265.2 L185.9,263.5 L184.4,261.6 L182.8,259.4 L181.2,257.1 L179.7,254.6 L178.1,251.9 L176.6,249.0 L175.0,246.1 L173.4,243.2 L171.9,240.3 L170.3,237.4 L168.8,234.7 L167.2,232.2 L165.6,230.0 L164.1,228.1 L162.5,226.6 L160.9,225.5 L159.4,224.8 L157.8,224.9 L156.3,225.5 L154.7,226.6 L153.1,228.2 L151.6,230.1 L150.0,232.4 L148.5,235.0 L146.9,237.8 L145.3,240.7 L143.8,243.7 L142.2,246.7 L140.7,249.6 L139.1,252.5 L137.5,255.2 L136.0,257.8 L134.4,260.2 L132.8,262.6 L131.3,265.1 L129.7,267.4 L128.2,269.4 L126.6,271.0 L125.0,272.2 L123.5,273.1 L121.9,273.7 L120.4,274.1 L118.8,274.3Z" fill="#FACFD3" stroke="none" stroke-width="0" stroke-linejoin="round" stroke-linecap="round" fill-opacity="1"/>
<path d="M118.8,274.2 L120.4,273.8 L121.9,273.2 L123.5,272.2 L125.0,270.7 L126.6,268.8 L128.2,266.3 L129.7,263.4 L131.3,260.0 L132.8,256.5 L134.4,253.1 L136.0,250.0 L137.5,246.7 L139.1,243.4 L140.7,239.9 L142.2,236.5 L143.8,233.1 L145.3,229.9 L146.9,226.9 L148.5,224.3 L150.0,221.9 L151.6,220.1 L153.1,218.7 L154.7,217.9 L156.3,217.6 L157.8,218.3 L159.4,219.5 L160.9,221.2 L162.5,223.3 L164.1,225.9 L165.6,228.8 L167.2,231.9 L168.8,235.2 L170.3,238.6 L171.9,242.0 L173.4,245.4 L175.0,248.7 L176.6,251.9 L178.1,254.8 L179.7,257.5 L181.2,260.0 L182.8,262.2 L184.4,264.2 L185.9,265.9 L187.5,267.3 L189.1,268.6 L190.6,269.7 L192.2,270.5 L193.7,271.3 L195.3,271.8 L196.9,272.3 L198.4,272.7 L200.0,273.0 L201.5,273.3 L203.1,273.4 L204.7,273.6 L206.2,273.7 L207.8,273.8 L209.3,273.9 L210.9,273.9 L212.5,274.0 L214.0,274.0 L215.6,274.1 L217.1,274.1 L218.7,274.1 L220.3,274.2 L221.8,274.2 L223.4,274.2 L225.0,274.2 L226.5,274.2 L228.1,274.2 L229.6,274.2 L231.2,274.3 L232.8,274.3 L234.3,274.3 L235.9,274.3 L237.4,274.3 L239.0,274.3 L240.6,274.3 L242.1,274.3 L243.7,274.3 L245.2,274.3 L246.8,274.3 L248.4,274.3 L249.9,274.3 L251.5,274.3 L253.1,274.4 L254.6,274.4 L256.2,274.4 L257.7,274.4 L259.3,274.4 L259.3,274.4 L257.7,274.4 L256.2,274.4 L254.6,274.4 L253.1,274.4 L251.5,274.4 L249.9,274.4 L248.4,274.4 L246.8,274.4 L245.2,274.4 L243.7,274.3 L242.1,274.3 L240.6,274.3 L239.0,274.3 L237.4,274.3 L235.9,274.3 L234.3,274.3 L232.8,274.3 L231.2,274.3 L229.6,274.3 L228.1,274.3 L226.5,274.3 L225.0,274.3 L223.4,274.3 L221.8,274.2 L220.3,274.2 L218.7,274.2 L217.1,274.2 L215.6,274.2 L214.0,274.2 L212.5,274.1 L210.9,274.1 L209.3,274.1 L207.8,274.0 L206.2,273.9 L204.7,273.9 L203.1,273.8 L201.5,273.6 L200.0,273.5 L198.4,273.3 L196.9,273.0 L195.3,272.7 L193.7,272.3 L192.2,271.8 L190.6,271.2 L189.1,270.5 L187.5,269.6 L185.9,268.6 L184.4,267.5 L182.8,266.1 L181.2,264.6 L179.7,263.0 L178.1,261.1 L176.6,259.1 L175.0,257.0 L173.4,254.8 L171.9,252.5 L170.3,250.1 L168.8,247.8 L167.2,245.6 L165.6,243.5 L164.1,241.5 L162.5,239.8 L160.9,238.3 L159.4,237.2 L157.8,236.4 L156.3,235.9 L154.7,236.1 L153.1,236.7 L151.6,237.6 L150.0,238.9 L148.5,240.4 L146.9,242.2 L145.3,244.3 L143.8,246.4 L142.2,248.7 L140.7,251.0 L139.1,253.4 L137.5,255.7 L136.0,257.9 L134.4,260.0 L132.8,262.3 L131.3,264.6 L129.7,266.9 L128.2,268.9 L126.6,270.6 L125.0,271.9 L123.5,272.9 L121.9,273.6 L120.4,274.0 L118.8,274.3Z" fill="#C4C5E4" stroke="none" stroke-width="0" stroke-linejoin="round" stroke-linecap="round" fill-opacity="0.7"/>
<path d="M118.8,273.9 L120.4,273.6 L121.9,273.0 L123.5,272.2 L125.0,271.0 L126.6,269.3 L128.2,267.2 L129.7,264.7 L131.3,261.9 L132.8,258.9 L134.4,256.1 L136.0,253.5 L137.5,250.8 L139.1,247.9 L140.7,245.0 L142.2,242.1 L143.8,239.3 L145.3,236.6 L146.9,234.1 L148.5,231.8 L150.0,229.9 L151.6,228.3 L153.1,227.2 L154.7,226.4 L156.3,226.2 L157.8,226.8 L159.4,227.8 L160.9,229.2 L162.5,231.1 L164.1,233.2 L165.6,235.6 L167.2,238.2 L168.8,241.0 L170.3,243.9 L171.9,246.8 L173.4,249.7 L175.0,252.4 L176.6,255.1 L178.1,257.5 L179.7,259.8 L181.2,261.9 L182.8,263.8 L184.4,265.4 L185.9,266.8 L187.5,268.1 L189.1,269.1 L190.6,270.0 L192.2,270.8 L193.7,271.4 L195.3,271.9 L196.9,272.3 L198.4,272.6 L200.0,272.9 L201.5,273.1 L203.1,273.2 L204.7,273.4 L206.2,273.5 L207.8,273.5 L209.3,273.6 L210.9,273.6 L212.5,273.7 L214.0,273.7 L215.6,273.8 L217.1,273.8 L218.7,273.8 L220.3,273.8 L221.8,273.8 L223.4,273.9 L225.0,273.9 L226.5,273.9 L228.1,273.9 L229.6,273.9 L231.2,273.9 L232.8,273.9 L234.3,273.9 L235.9,273.9 L237.4,273.9 L239.0,273.9 L240.6,274.0 L242.1,274.0 L243.7,274.0 L245.2,274.0 L246.8,274.0 L248.4,274.0 L249.9,274.0 L251.5,274.0 L253.1,274.0 L254.6,274.0 L256.2,274.0 L257.7,274.0 L259.3,274.0" fill="none" stroke="#3A3C9A" stroke-width="1.5" stroke-linejoin="round" stroke-linecap="round" />
<path d="M118.8,273.9 L120.4,273.7 L121.9,273.2 L123.5,272.5 L125.0,271.4 L126.6,270.0 L128.2,268.1 L129.7,265.7 L131.3,263.0 L132.8,260.0 L134.4,257.1 L136.0,254.3 L137.5,251.3 L139.1,248.0 L140.7,244.6 L142.2,241.1 L143.8,237.5 L145.3,234.0 L146.9,230.5 L148.5,227.2 L150.0,224.2 L151.6,221.5 L153.1,219.1 L154.7,217.3 L156.3,216.0 L157.8,215.2 L159.4,215.1 L160.9,215.9 L162.5,217.3 L164.1,219.1 L165.6,221.3 L167.2,223.9 L168.8,226.9 L170.3,230.1 L171.9,233.5 L173.4,236.9 L175.0,240.4 L176.6,243.9 L178.1,247.3 L179.7,250.5 L181.2,253.5 L182.8,256.2 L184.4,258.8 L185.9,261.1 L187.5,263.1 L189.1,264.9 L190.6,266.4 L192.2,267.8 L193.7,268.9 L195.3,269.8 L196.9,270.6 L198.4,271.2 L200.0,271.8 L201.5,272.2 L203.1,272.5 L204.7,272.8 L206.2,273.0 L207.8,273.2 L209.3,273.3 L210.9,273.4 L212.5,273.5 L214.0,273.6 L215.6,273.6 L217.1,273.7 L218.7,273.7 L220.3,273.7 L221.8,273.7 L223.4,273.8 L225.0,273.8 L226.5,273.8 L228.1,273.8 L229.6,273.8 L231.2,273.9 L232.8,273.9 L234.3,273.9 L235.9,273.9 L237.4,273.9 L239.0,273.9 L240.6,273.9 L242.1,273.9 L243.7,273.9 L245.2,273.9 L246.8,273.9 L248.4,274.0 L249.9,274.0 L251.5,274.0 L253.1,274.0 L254.6,274.0 L256.2,274.0 L257.7,274.0 L259.3,274.0" fill="none" stroke="#E3202C" stroke-width="1.5" stroke-linejoin="round" stroke-linecap="round" />
</g>
<line x1="118.80" y1="212.30" x2="259.30" y2="212.30" stroke="#b4b4b4" stroke-width="1.3" />
<line x1="259.30" y1="212.30" x2="259.30" y2="274.40" stroke="#8f8f8f" stroke-width="1.0" />
<line x1="118.80" y1="211.80" x2="118.80" y2="274.90" stroke="#6e6e6e" stroke-width="1.1" />
<line x1="118.30" y1="274.40" x2="259.80" y2="274.40" stroke="#838383" stroke-width="1.0" />
<text font-size="8.8" fill="#E03A4B" stroke="#E03A4B" stroke-width="0.2" font-style="italic" textLength="50.10" lengthAdjust="spacingAndGlyphs" x="178.90" y="221.90" >sbt5.2#4</text>
<text font-size="8.6" fill="#3E3F9C" stroke="#3E3F9C" stroke-width="0.2" textLength="18.70" lengthAdjust="spacingAndGlyphs" x="145.60" y="250.70" >WT</text>
<line x1="118.80" y1="274.40" x2="118.80" y2="277.00" stroke="#6e6e6e" stroke-width="1" />
<text font-size="8.4" fill="#262626" stroke="#262626" stroke-width="0.2" textLength="6.60" lengthAdjust="spacingAndGlyphs" x="115.50" y="287.60" >0</text>
<line x1="150.02" y1="274.40" x2="150.02" y2="277.00" stroke="#6e6e6e" stroke-width="1" />
<text font-size="8.4" fill="#262626" stroke="#262626" stroke-width="0.2" textLength="10.60" lengthAdjust="spacingAndGlyphs" x="144.72" y="287.60" >10</text>
<line x1="181.24" y1="274.40" x2="181.24" y2="277.00" stroke="#6e6e6e" stroke-width="1" />
<text font-size="8.4" fill="#262626" stroke="#262626" stroke-width="0.2" textLength="13.00" lengthAdjust="spacingAndGlyphs" x="174.74" y="287.60" >20</text>
<line x1="212.47" y1="274.40" x2="212.47" y2="277.00" stroke="#6e6e6e" stroke-width="1" />
<text font-size="8.4" fill="#262626" stroke="#262626" stroke-width="0.2" textLength="13.00" lengthAdjust="spacingAndGlyphs" x="205.97" y="287.60" >30</text>
<line x1="243.69" y1="274.40" x2="243.69" y2="277.00" stroke="#6e6e6e" stroke-width="1" />
<text font-size="8.4" fill="#262626" stroke="#262626" stroke-width="0.2" textLength="13.00" lengthAdjust="spacingAndGlyphs" x="237.19" y="287.60" >40</text>
<text font-size="8.8" fill="#262626" stroke="#262626" stroke-width="0.2" textLength="65.00" lengthAdjust="spacingAndGlyphs" x="156.60" y="298.60" >Time (min)</text>
<g clip-path="url(#cp21)">
<path d="M267.4,274.3 L269.0,274.0 L270.5,273.5 L272.1,272.7 L273.6,271.5 L275.2,269.8 L276.8,267.7 L278.3,265.1 L279.9,262.1 L281.4,258.8 L283.0,255.6 L284.6,252.6 L286.1,249.3 L287.7,245.9 L289.3,242.4 L290.8,238.9 L292.4,235.4 L293.9,232.0 L295.5,228.8 L297.1,225.9 L298.6,223.3 L300.2,221.2 L301.7,219.7 L303.3,218.6 L304.9,218.2 L306.4,218.7 L308.0,219.7 L309.5,221.0 L311.1,222.8 L312.7,224.9 L314.2,227.3 L315.8,229.9 L317.4,232.7 L318.9,235.7 L320.5,238.8 L322.0,241.9 L323.6,244.9 L325.2,247.9 L326.7,250.8 L328.3,253.5 L329.8,256.1 L331.4,258.5 L333.0,260.6 L334.5,262.6 L336.1,264.3 L337.6,265.9 L339.2,267.2 L340.8,268.4 L342.3,269.4 L343.9,270.3 L345.5,271.0 L347.0,271.6 L348.6,272.1 L350.1,272.5 L351.7,272.9 L353.3,273.1 L354.8,273.4 L356.4,273.5 L357.9,273.7 L359.5,273.8 L361.1,273.9 L362.6,273.9 L364.2,274.0 L365.8,274.1 L367.3,274.1 L368.9,274.1 L370.4,274.2 L372.0,274.2 L373.6,274.2 L375.1,274.2 L376.7,274.2 L378.2,274.2 L379.8,274.3 L381.4,274.3 L382.9,274.3 L384.5,274.3 L386.0,274.3 L387.6,274.3 L389.2,274.3 L390.7,274.3 L392.3,274.3 L393.8,274.3 L395.4,274.3 L397.0,274.3 L398.5,274.3 L400.1,274.3 L401.7,274.4 L403.2,274.4 L404.8,274.4 L406.3,274.4 L407.9,274.4 L407.9,274.4 L406.3,274.4 L404.8,274.4 L403.2,274.4 L401.7,274.4 L400.1,274.4 L398.5,274.4 L397.0,274.4 L395.4,274.4 L393.8,274.3 L392.3,274.3 L390.7,274.3 L389.2,274.3 L387.6,274.3 L386.0,274.3 L384.5,274.3 L382.9,274.3 L381.4,274.3 L379.8,274.3 L378.2,274.3 L376.7,274.3 L375.1,274.3 L373.6,274.3 L372.0,274.2 L370.4,274.2 L368.9,274.2 L367.3,274.2 L365.8,274.1 L364.2,274.1 L362.6,274.1 L361.1,274.0 L359.5,273.9 L357.9,273.9 L356.4,273.8 L354.8,273.6 L353.3,273.5 L351.7,273.3 L350.1,273.0 L348.6,272.7 L347.0,272.4 L345.5,271.9 L343.9,271.4 L342.3,270.7 L340.8,270.0 L339.2,269.1 L337.6,268.1 L336.1,267.0 L334.5,265.7 L333.0,264.3 L331.4,262.7 L329.8,260.9 L328.3,259.1 L326.7,257.0 L325.2,254.9 L323.6,252.7 L322.0,250.5 L320.5,248.2 L318.9,246.0 L317.4,243.8 L315.8,241.7 L314.2,239.8 L312.7,238.0 L311.1,236.5 L309.5,235.2 L308.0,234.2 L306.4,233.5 L304.9,233.1 L303.3,233.4 L301.7,234.2 L300.2,235.3 L298.6,236.9 L297.1,238.7 L295.5,240.9 L293.9,243.2 L292.4,245.7 L290.8,248.3 L289.3,250.9 L287.7,253.5 L286.1,256.0 L284.6,258.4 L283.0,260.6 L281.4,262.9 L279.9,265.3 L278.3,267.6 L276.8,269.5 L275.2,271.0 L273.6,272.3 L272.1,273.1 L270.5,273.7 L269.0,274.1 L267.4,274.3Z" fill="#FACFD3" stroke="none" stroke-width="0" stroke-linejoin="round" stroke-linecap="round" fill-opacity="1"/>
<path d="M267.4,274.3 L269.0,274.1 L270.5,273.7 L272.1,273.1 L273.6,272.2 L275.2,271.0 L276.8,269.3 L278.3,267.3 L279.9,265.0 L281.4,262.5 L283.0,260.0 L284.6,257.7 L286.1,255.4 L287.7,252.9 L289.3,250.5 L290.8,248.1 L292.4,245.9 L293.9,243.9 L295.5,242.2 L297.1,240.8 L298.6,239.7 L300.2,239.1 L301.7,239.1 L303.3,239.5 L304.9,240.3 L306.4,241.2 L308.0,242.5 L309.5,243.9 L311.1,245.5 L312.7,247.3 L314.2,249.2 L315.8,251.1 L317.4,253.1 L318.9,255.1 L320.5,257.0 L322.0,258.9 L323.6,260.7 L325.2,262.4 L326.7,263.9 L328.3,265.3 L329.8,266.6 L331.4,267.8 L333.0,268.8 L334.5,269.7 L336.1,270.5 L337.6,271.2 L339.2,271.7 L340.8,272.2 L342.3,272.6 L343.9,272.9 L345.5,273.2 L347.0,273.4 L348.6,273.6 L350.1,273.7 L351.7,273.8 L353.3,273.9 L354.8,274.0 L356.4,274.1 L357.9,274.1 L359.5,274.1 L361.1,274.2 L362.6,274.2 L364.2,274.2 L365.8,274.2 L367.3,274.3 L368.9,274.3 L370.4,274.3 L372.0,274.3 L373.6,274.3 L375.1,274.3 L376.7,274.3 L378.2,274.3 L379.8,274.3 L381.4,274.3 L382.9,274.3 L384.5,274.3 L386.0,274.3 L387.6,274.3 L389.2,274.4 L390.7,274.4 L392.3,274.4 L393.8,274.4 L395.4,274.4 L397.0,274.4 L398.5,274.4 L400.1,274.4 L401.7,274.4 L403.2,274.4 L404.8,274.4 L406.3,274.4 L407.9,274.4 L407.9,274.4 L406.3,274.4 L404.8,274.4 L403.2,274.4 L401.7,274.4 L400.1,274.4 L398.5,274.4 L397.0,274.4 L395.4,274.4 L393.8,274.4 L392.3,274.4 L390.7,274.4 L389.2,274.4 L387.6,274.4 L386.0,274.4 L384.5,274.4 L382.9,274.4 L381.4,274.4 L379.8,274.4 L378.2,274.4 L376.7,274.4 L375.1,274.3 L373.6,274.3 L372.0,274.3 L370.4,274.3 L368.9,274.3 L367.3,274.3 L365.8,274.3 L364.2,274.3 L362.6,274.3 L361.1,274.3 L359.5,274.3 L357.9,274.2 L356.4,274.2 L354.8,274.2 L353.3,274.1 L351.7,274.1 L350.1,274.0 L348.6,273.9 L347.0,273.8 L345.5,273.7 L343.9,273.6 L342.3,273.4 L340.8,273.1 L339.2,272.9 L337.6,272.6 L336.1,272.2 L334.5,271.7 L333.0,271.2 L331.4,270.6 L329.8,270.0 L328.3,269.2 L326.7,268.4 L325.2,267.5 L323.6,266.6 L322.0,265.6 L320.5,264.5 L318.9,263.4 L317.4,262.3 L315.8,261.1 L314.2,260.0 L312.7,258.9 L311.1,257.9 L309.5,257.0 L308.0,256.2 L306.4,255.5 L304.9,254.9 L303.3,254.5 L301.7,254.3 L300.2,254.3 L298.6,254.6 L297.1,255.2 L295.5,256.0 L293.9,257.0 L292.4,258.2 L290.8,259.4 L289.3,260.8 L287.7,262.2 L286.1,263.5 L284.6,264.9 L283.0,266.2 L281.4,267.6 L279.9,269.0 L278.3,270.4 L276.8,271.5 L275.2,272.4 L273.6,273.2 L272.1,273.7 L270.5,274.0 L269.0,274.2 L267.4,274.3Z" fill="#C4C5E4" stroke="none" stroke-width="0" stroke-linejoin="round" stroke-linecap="round" fill-opacity="0.7"/>
<path d="M267.4,273.9 L269.0,273.8 L270.5,273.5 L272.1,273.0 L273.6,272.3 L275.2,271.3 L276.8,270.0 L278.3,268.4 L279.9,266.6 L281.4,264.6 L283.0,262.7 L284.6,260.9 L286.1,259.0 L287.7,257.1 L289.3,255.2 L290.8,253.3 L292.4,251.5 L293.9,249.9 L295.5,248.6 L297.1,247.5 L298.6,246.7 L300.2,246.2 L301.7,246.1 L303.3,246.5 L304.9,247.1 L306.4,247.9 L308.0,248.8 L309.5,250.0 L311.1,251.2 L312.7,252.6 L314.2,254.1 L315.8,255.6 L317.4,257.2 L318.9,258.8 L320.5,260.3 L322.0,261.8 L323.6,263.2 L325.2,264.5 L326.7,265.7 L328.3,266.9 L329.8,267.9 L331.4,268.8 L333.0,269.6 L334.5,270.3 L336.1,270.9 L337.6,271.5 L339.2,271.9 L340.8,272.3 L342.3,272.6 L343.9,272.9 L345.5,273.1 L347.0,273.2 L348.6,273.4 L350.1,273.5 L351.7,273.6 L353.3,273.7 L354.8,273.7 L356.4,273.8 L357.9,273.8 L359.5,273.8 L361.1,273.8 L362.6,273.9 L364.2,273.9 L365.8,273.9 L367.3,273.9 L368.9,273.9 L370.4,273.9 L372.0,273.9 L373.6,273.9 L375.1,274.0 L376.7,274.0 L378.2,274.0 L379.8,274.0 L381.4,274.0 L382.9,274.0 L384.5,274.0 L386.0,274.0 L387.6,274.0 L389.2,274.0 L390.7,274.0 L392.3,274.0 L393.8,274.0 L395.4,274.0 L397.0,274.0 L398.5,274.0 L400.1,274.0 L401.7,274.0 L403.2,274.0 L404.8,274.0 L406.3,274.0 L407.9,274.0" fill="none" stroke="#3A3C9A" stroke-width="1.5" stroke-linejoin="round" stroke-linecap="round" />
<path d="M267.4,273.9 L269.0,273.7 L270.5,273.2 L272.1,272.5 L273.6,271.5 L275.2,270.1 L276.8,268.2 L278.3,266.0 L279.9,263.3 L281.4,260.5 L283.0,257.7 L284.6,255.1 L286.1,252.3 L287.7,249.3 L289.3,246.3 L290.8,243.2 L292.4,240.2 L293.9,237.2 L295.5,234.5 L297.1,231.9 L298.6,229.7 L300.2,227.9 L301.7,226.5 L303.3,225.7 L304.9,225.3 L306.4,225.7 L308.0,226.5 L309.5,227.7 L311.1,229.2 L312.7,231.1 L314.2,233.1 L315.8,235.4 L317.4,237.9 L318.9,240.5 L320.5,243.1 L322.0,245.8 L323.6,248.4 L325.2,251.0 L326.7,253.5 L328.3,255.9 L329.8,258.1 L331.4,260.2 L333.0,262.1 L334.5,263.8 L336.1,265.3 L337.6,266.6 L339.2,267.8 L340.8,268.8 L342.3,269.7 L343.9,270.5 L345.5,271.1 L347.0,271.6 L348.6,272.0 L350.1,272.4 L351.7,272.7 L353.3,272.9 L354.8,273.1 L356.4,273.3 L357.9,273.4 L359.5,273.5 L361.1,273.6 L362.6,273.6 L364.2,273.7 L365.8,273.7 L367.3,273.8 L368.9,273.8 L370.4,273.8 L372.0,273.8 L373.6,273.9 L375.1,273.9 L376.7,273.9 L378.2,273.9 L379.8,273.9 L381.4,273.9 L382.9,273.9 L384.5,273.9 L386.0,273.9 L387.6,273.9 L389.2,273.9 L390.7,274.0 L392.3,274.0 L393.8,274.0 L395.4,274.0 L397.0,274.0 L398.5,274.0 L400.1,274.0 L401.7,274.0 L403.2,274.0 L404.8,274.0 L406.3,274.0 L407.9,274.0" fill="none" stroke="#E3202C" stroke-width="1.5" stroke-linejoin="round" stroke-linecap="round" />
</g>
<line x1="267.40" y1="212.30" x2="407.90" y2="212.30" stroke="#b4b4b4" stroke-width="1.3" />
<line x1="407.90" y1="212.30" x2="407.90" y2="274.40" stroke="#8f8f8f" stroke-width="1.0" />
<line x1="267.40" y1="211.80" x2="267.40" y2="274.90" stroke="#6e6e6e" stroke-width="1.1" />
<line x1="266.90" y1="274.40" x2="408.40" y2="274.40" stroke="#838383" stroke-width="1.0" />
<text font-size="8.8" fill="#E03A4B" stroke="#E03A4B" stroke-width="0.2" font-style="italic" textLength="50.30" lengthAdjust="spacingAndGlyphs" x="324.00" y="226.70" >sbt5.2#4</text>
<text font-size="8.6" fill="#3E3F9C" stroke="#3E3F9C" stroke-width="0.2" textLength="17.30" lengthAdjust="spacingAndGlyphs" x="291.90" y="266.10" >WT</text>
<line x1="267.40" y1="274.40" x2="267.40" y2="277.00" stroke="#6e6e6e" stroke-width="1" />
<text font-size="8.4" fill="#262626" stroke="#262626" stroke-width="0.2" textLength="6.60" lengthAdjust="spacingAndGlyphs" x="264.10" y="287.60" >0</text>
<line x1="298.62" y1="274.40" x2="298.62" y2="277.00" stroke="#6e6e6e" stroke-width="1" />
<text font-size="8.4" fill="#262626" stroke="#262626" stroke-width="0.2" textLength="10.60" lengthAdjust="spacingAndGlyphs" x="293.32" y="287.60" >10</text>
<line x1="329.84" y1="274.40" x2="329.84" y2="277.00" stroke="#6e6e6e" stroke-width="1" />
<text font-size="8.4" fill="#262626" stroke="#262626" stroke-width="0.2" textLength="13.00" lengthAdjust="spacingAndGlyphs" x="323.34" y="287.60" >20</text>
<line x1="361.07" y1="274.40" x2="361.07" y2="277.00" stroke="#6e6e6e" stroke-width="1" />
<text font-size="8.4" fill="#262626" stroke="#262626" stroke-width="0.2" textLength="13.00" lengthAdjust="spacingAndGlyphs" x="354.57" y="287.60" >30</text>
<line x1="392.29" y1="274.40" x2="392.29" y2="277.00" stroke="#6e6e6e" stroke-width="1" />
<text font-size="8.4" fill="#262626" stroke="#262626" stroke-width="0.2" textLength="13.00" lengthAdjust="spacingAndGlyphs" x="385.79" y="287.60" >40</text>
<text font-size="8.8" fill="#262626" stroke="#262626" stroke-width="0.2" textLength="65.00" lengthAdjust="spacingAndGlyphs" x="305.20" y="298.60" >Time (min)</text>
<g clip-path="url(#cp22)">
<path d="M415.5,274.4 L417.1,274.4 L418.6,274.4 L420.2,274.4 L421.7,274.3 L423.3,274.1 L424.9,273.7 L426.4,273.1 L428.0,272.1 L429.6,270.8 L431.1,269.1 L432.7,267.0 L434.2,264.5 L435.8,261.9 L437.4,259.2 L438.9,256.7 L440.5,254.0 L442.0,251.2 L443.6,248.3 L445.2,245.4 L446.7,242.4 L448.3,239.6 L449.8,236.8 L451.4,234.3 L453.0,232.0 L454.5,230.0 L456.1,228.5 L457.6,227.4 L459.2,226.7 L460.8,226.7 L462.3,227.3 L463.9,228.2 L465.5,229.5 L467.0,231.2 L468.6,233.0 L470.1,235.2 L471.7,237.5 L473.3,239.9 L474.8,242.5 L476.4,245.1 L477.9,247.8 L479.5,250.3 L481.1,252.8 L482.6,255.3 L484.2,257.5 L485.8,259.6 L487.3,261.6 L488.9,263.4 L490.4,265.0 L492.0,266.4 L493.6,267.6 L495.1,268.7 L496.7,269.7 L498.2,270.5 L499.8,271.2 L501.4,271.7 L502.9,272.2 L504.5,272.6 L506.0,272.9 L507.6,273.2 L509.2,273.4 L510.7,273.6 L512.3,273.7 L513.9,273.8 L515.4,273.9 L517.0,274.0 L518.5,274.0 L520.1,274.1 L521.7,274.1 L523.2,274.2 L524.8,274.2 L526.3,274.2 L527.9,274.2 L529.5,274.2 L531.0,274.2 L532.6,274.3 L534.1,274.3 L535.7,274.3 L537.3,274.3 L538.8,274.3 L540.4,274.3 L542.0,274.3 L543.5,274.3 L545.1,274.3 L546.6,274.3 L548.2,274.3 L549.8,274.3 L551.3,274.3 L552.9,274.3 L554.4,274.4 L556.0,274.4 L556.0,274.4 L554.4,274.4 L552.9,274.4 L551.3,274.4 L549.8,274.4 L548.2,274.3 L546.6,274.3 L545.1,274.3 L543.5,274.3 L542.0,274.3 L540.4,274.3 L538.8,274.3 L537.3,274.3 L535.7,274.3 L534.1,274.3 L532.6,274.3 L531.0,274.3 L529.5,274.3 L527.9,274.3 L526.3,274.2 L524.8,274.2 L523.2,274.2 L521.7,274.2 L520.1,274.1 L518.5,274.1 L517.0,274.1 L515.4,274.0 L513.9,273.9 L512.3,273.9 L510.7,273.7 L509.2,273.6 L507.6,273.4 L506.0,273.2 L504.5,273.0 L502.9,272.7 L501.4,272.3 L499.8,271.8 L498.2,271.3 L496.7,270.7 L495.1,269.9 L493.6,269.0 L492.0,268.1 L490.4,266.9 L488.9,265.7 L487.3,264.3 L485.8,262.7 L484.2,261.0 L482.6,259.2 L481.1,257.3 L479.5,255.3 L477.9,253.3 L476.4,251.2 L474.8,249.1 L473.3,247.1 L471.7,245.2 L470.1,243.3 L468.6,241.6 L467.0,240.1 L465.5,238.9 L463.9,237.8 L462.3,237.1 L460.8,236.6 L459.2,236.6 L457.6,237.2 L456.1,238.0 L454.5,239.3 L453.0,240.8 L451.4,242.6 L449.8,244.6 L448.3,246.8 L446.7,249.1 L445.2,251.4 L443.6,253.8 L442.0,256.1 L440.5,258.3 L438.9,260.3 L437.4,262.3 L435.8,264.5 L434.2,266.6 L432.7,268.5 L431.1,270.2 L429.6,271.6 L428.0,272.6 L426.4,273.4 L424.9,273.9 L423.3,274.2 L421.7,274.3 L420.2,274.4 L418.6,274.4 L417.1,274.4 L415.5,274.4Z" fill="#FACFD3" stroke="none" stroke-width="0" stroke-linejoin="round" stroke-linecap="round" fill-opacity="1"/>
<path d="M415.5,274.4 L417.1,274.4 L418.6,274.4 L420.2,274.4 L421.7,274.3 L423.3,274.2 L424.9,274.0 L426.4,273.6 L428.0,273.0 L429.6,272.2 L431.1,271.2 L432.7,269.9 L434.2,268.4 L435.8,266.9 L437.4,265.3 L438.9,263.9 L440.5,262.4 L442.0,260.8 L443.6,259.2 L445.2,257.5 L446.7,255.8 L448.3,254.2 L449.8,252.7 L451.4,251.3 L453.0,250.0 L454.5,249.0 L456.1,248.1 L457.6,247.5 L459.2,247.2 L460.8,247.1 L462.3,247.5 L463.9,248.0 L465.5,248.7 L467.0,249.6 L468.6,250.7 L470.1,251.8 L471.7,253.1 L473.3,254.5 L474.8,255.9 L476.4,257.4 L477.9,258.9 L479.5,260.3 L481.1,261.8 L482.6,263.1 L484.2,264.4 L485.8,265.6 L487.3,266.8 L488.9,267.8 L490.4,268.7 L492.0,269.5 L493.6,270.3 L495.1,270.9 L496.7,271.5 L498.2,272.0 L499.8,272.4 L501.4,272.7 L502.9,273.0 L504.5,273.3 L506.0,273.5 L507.6,273.6 L509.2,273.8 L510.7,273.9 L512.3,274.0 L513.9,274.0 L515.4,274.1 L517.0,274.1 L518.5,274.2 L520.1,274.2 L521.7,274.2 L523.2,274.3 L524.8,274.3 L526.3,274.3 L527.9,274.3 L529.5,274.3 L531.0,274.3 L532.6,274.3 L534.1,274.3 L535.7,274.3 L537.3,274.3 L538.8,274.3 L540.4,274.3 L542.0,274.4 L543.5,274.4 L545.1,274.4 L546.6,274.4 L548.2,274.4 L549.8,274.4 L551.3,274.4 L552.9,274.4 L554.4,274.4 L556.0,274.4 L556.0,274.4 L554.4,274.4 L552.9,274.4 L551.3,274.4 L549.8,274.4 L548.2,274.4 L546.6,274.4 L545.1,274.4 L543.5,274.4 L542.0,274.4 L540.4,274.4 L538.8,274.4 L537.3,274.4 L535.7,274.4 L534.1,274.4 L532.6,274.4 L531.0,274.3 L529.5,274.3 L527.9,274.3 L526.3,274.3 L524.8,274.3 L523.2,274.3 L521.7,274.3 L520.1,274.3 L518.5,274.3 L517.0,274.3 L515.4,274.2 L513.9,274.2 L512.3,274.2 L510.7,274.1 L509.2,274.0 L507.6,274.0 L506.0,273.9 L504.5,273.7 L502.9,273.6 L501.4,273.4 L499.8,273.2 L498.2,273.0 L496.7,272.7 L495.1,272.4 L493.6,272.0 L492.0,271.6 L490.4,271.1 L488.9,270.6 L487.3,270.0 L485.8,269.3 L484.2,268.6 L482.6,267.9 L481.1,267.1 L479.5,266.3 L477.9,265.4 L476.4,264.6 L474.8,263.7 L473.3,262.9 L471.7,262.1 L470.1,261.3 L468.6,260.6 L467.0,260.0 L465.5,259.5 L463.9,259.1 L462.3,258.8 L460.8,258.6 L459.2,258.6 L457.6,258.8 L456.1,259.2 L454.5,259.7 L453.0,260.3 L451.4,261.0 L449.8,261.8 L448.3,262.7 L446.7,263.6 L445.2,264.6 L443.6,265.6 L442.0,266.5 L440.5,267.4 L438.9,268.3 L437.4,269.1 L435.8,270.0 L434.2,270.9 L432.7,271.8 L431.1,272.5 L429.6,273.1 L428.0,273.6 L426.4,273.9 L424.9,274.1 L423.3,274.3 L421.7,274.4 L420.2,274.4 L418.6,274.4 L417.1,274.4 L415.5,274.4Z" fill="#C4C5E4" stroke="none" stroke-width="0" stroke-linejoin="round" stroke-linecap="round" fill-opacity="0.7"/>
<path d="M415.5,274.0 L417.1,274.0 L418.6,274.0 L420.2,274.0 L421.7,274.0 L423.3,273.9 L424.9,273.7 L426.4,273.4 L428.0,272.9 L429.6,272.3 L431.1,271.4 L432.7,270.4 L434.2,269.3 L435.8,268.0 L437.4,266.8 L438.9,265.6 L440.5,264.4 L442.0,263.2 L443.6,261.9 L445.2,260.6 L446.7,259.3 L448.3,258.0 L449.8,256.8 L451.4,255.7 L453.0,254.7 L454.5,253.8 L456.1,253.1 L457.6,252.6 L459.2,252.4 L460.8,252.3 L462.3,252.6 L463.9,253.0 L465.5,253.6 L467.0,254.3 L468.6,255.1 L470.1,256.1 L471.7,257.1 L473.3,258.2 L474.8,259.3 L476.4,260.5 L477.9,261.7 L479.5,262.8 L481.1,264.0 L482.6,265.1 L484.2,266.1 L485.8,267.1 L487.3,267.9 L488.9,268.8 L490.4,269.5 L492.0,270.2 L493.6,270.8 L495.1,271.3 L496.7,271.7 L498.2,272.1 L499.8,272.4 L501.4,272.7 L502.9,272.9 L504.5,273.1 L506.0,273.3 L507.6,273.4 L509.2,273.5 L510.7,273.6 L512.3,273.7 L513.9,273.7 L515.4,273.8 L517.0,273.8 L518.5,273.9 L520.1,273.9 L521.7,273.9 L523.2,273.9 L524.8,273.9 L526.3,273.9 L527.9,273.9 L529.5,274.0 L531.0,274.0 L532.6,274.0 L534.1,274.0 L535.7,274.0 L537.3,274.0 L538.8,274.0 L540.4,274.0 L542.0,274.0 L543.5,274.0 L545.1,274.0 L546.6,274.0 L548.2,274.0 L549.8,274.0 L551.3,274.0 L552.9,274.0 L554.4,274.0 L556.0,274.0" fill="none" stroke="#3A3C9A" stroke-width="1.5" stroke-linejoin="round" stroke-linecap="round" />
<path d="M415.5,274.0 L417.1,274.0 L418.6,274.0 L420.2,274.0 L421.7,273.9 L423.3,273.8 L424.9,273.4 L426.4,272.8 L428.0,272.0 L429.6,270.8 L431.1,269.3 L432.7,267.4 L434.2,265.2 L435.8,262.8 L437.4,260.4 L438.9,258.1 L440.5,255.8 L442.0,253.3 L443.6,250.7 L445.2,248.0 L446.7,245.4 L448.3,242.8 L449.8,240.3 L451.4,238.1 L453.0,236.0 L454.5,234.3 L456.1,232.9 L457.6,231.9 L459.2,231.3 L460.8,231.3 L462.3,231.8 L463.9,232.7 L465.5,233.8 L467.0,235.3 L468.6,237.0 L470.1,238.9 L471.7,240.9 L473.3,243.2 L474.8,245.5 L476.4,247.8 L477.9,250.1 L479.5,252.5 L481.1,254.7 L482.6,256.9 L484.2,258.9 L485.8,260.8 L487.3,262.5 L488.9,264.1 L490.4,265.6 L492.0,266.8 L493.6,268.0 L495.1,268.9 L496.7,269.8 L498.2,270.5 L499.8,271.1 L501.4,271.6 L502.9,272.1 L504.5,272.4 L506.0,272.7 L507.6,272.9 L509.2,273.1 L510.7,273.3 L512.3,273.4 L513.9,273.5 L515.4,273.6 L517.0,273.6 L518.5,273.7 L520.1,273.7 L521.7,273.8 L523.2,273.8 L524.8,273.8 L526.3,273.8 L527.9,273.9 L529.5,273.9 L531.0,273.9 L532.6,273.9 L534.1,273.9 L535.7,273.9 L537.3,273.9 L538.8,273.9 L540.4,273.9 L542.0,273.9 L543.5,274.0 L545.1,274.0 L546.6,274.0 L548.2,274.0 L549.8,274.0 L551.3,274.0 L552.9,274.0 L554.4,274.0 L556.0,274.0" fill="none" stroke="#E3202C" stroke-width="1.5" stroke-linejoin="round" stroke-linecap="round" />
</g>
<line x1="415.50" y1="212.30" x2="556.00" y2="212.30" stroke="#b4b4b4" stroke-width="1.3" />
<line x1="556.00" y1="212.30" x2="556.00" y2="274.40" stroke="#8f8f8f" stroke-width="1.0" />
<line x1="415.50" y1="211.80" x2="415.50" y2="274.90" stroke="#6e6e6e" stroke-width="1.1" />
<line x1="415.00" y1="274.40" x2="556.50" y2="274.40" stroke="#838383" stroke-width="1.0" />
<text font-size="8.8" fill="#E03A4B" stroke="#E03A4B" stroke-width="0.2" font-style="italic" textLength="50.10" lengthAdjust="spacingAndGlyphs" x="484.90" y="237.80" >sbt5.2#4</text>
<text font-size="8.6" fill="#3E3F9C" stroke="#3E3F9C" stroke-width="0.2" textLength="17.70" lengthAdjust="spacingAndGlyphs" x="450.90" y="268.60" >WT</text>
<line x1="415.50" y1="274.40" x2="415.50" y2="277.00" stroke="#6e6e6e" stroke-width="1" />
<text font-size="8.4" fill="#262626" stroke="#262626" stroke-width="0.2" textLength="6.60" lengthAdjust="spacingAndGlyphs" x="412.20" y="287.60" >0</text>
<line x1="446.72" y1="274.40" x2="446.72" y2="277.00" stroke="#6e6e6e" stroke-width="1" />
<text font-size="8.4" fill="#262626" stroke="#262626" stroke-width="0.2" textLength="10.60" lengthAdjust="spacingAndGlyphs" x="441.42" y="287.60" >10</text>
<line x1="477.94" y1="274.40" x2="477.94" y2="277.00" stroke="#6e6e6e" stroke-width="1" />
<text font-size="8.4" fill="#262626" stroke="#262626" stroke-width="0.2" textLength="13.00" lengthAdjust="spacingAndGlyphs" x="471.44" y="287.60" >20</text>
<line x1="509.17" y1="274.40" x2="509.17" y2="277.00" stroke="#6e6e6e" stroke-width="1" />
<text font-size="8.4" fill="#262626" stroke="#262626" stroke-width="0.2" textLength="13.00" lengthAdjust="spacingAndGlyphs" x="502.67" y="287.60" >30</text>
<line x1="540.39" y1="274.40" x2="540.39" y2="277.00" stroke="#6e6e6e" stroke-width="1" />
<text font-size="8.4" fill="#262626" stroke="#262626" stroke-width="0.2" textLength="13.00" lengthAdjust="spacingAndGlyphs" x="533.89" y="287.60" >40</text>
<text font-size="8.8" fill="#262626" stroke="#262626" stroke-width="0.2" textLength="65.00" lengthAdjust="spacingAndGlyphs" x="453.30" y="298.60" >Time (min)</text>
<line x1="114.20" y1="212.30" x2="118.80" y2="212.30" stroke="#6e6e6e" stroke-width="1" />
<text font-size="8.4" fill="#262626" stroke="#262626" stroke-width="0.2" textLength="11.20" lengthAdjust="spacingAndGlyphs" x="98.00" y="215.30" >10</text>
<line x1="114.20" y1="243.35" x2="118.80" y2="243.35" stroke="#6e6e6e" stroke-width="1" />
<text font-size="8.4" fill="#262626" stroke="#262626" stroke-width="0.2" textLength="5.60" lengthAdjust="spacingAndGlyphs" x="103.60" y="246.35" >5</text>
<line x1="114.20" y1="274.40" x2="118.80" y2="274.40" stroke="#6e6e6e" stroke-width="1" />
<text font-size="8.4" fill="#262626" stroke="#262626" stroke-width="0.2" textLength="5.60" lengthAdjust="spacingAndGlyphs" x="103.60" y="277.40" >0</text>
<text font-size="10.6" fill="#262626" stroke="#262626" stroke-width="0.2" textLength="21.40" lengthAdjust="spacingAndGlyphs" transform="translate(87.60,114.80) rotate(-90)" >CspD</text>
<text font-size="10.6" fill="#262626" stroke="#262626" stroke-width="0.2" textLength="48.20" lengthAdjust="spacingAndGlyphs" transform="translate(87.60,197.80) rotate(-90)" >PSPTO3984</text>
<text font-size="10.6" fill="#262626" stroke="#262626" stroke-width="0.2" textLength="46.30" lengthAdjust="spacingAndGlyphs" transform="translate(87.60,266.80) rotate(-90)" >PSPTO4145</text>
<text font-size="10.6" fill="#262626" stroke="#262626" stroke-width="0.2" textLength="114.60" lengthAdjust="spacingAndGlyphs" transform="translate(67.00,230.60) rotate(-90)" >Luminescence (RLU ×1,000)</text>
<line x1="141.80" y1="370.40" x2="166.10" y2="370.40" stroke="#8a8a8a" stroke-width="1.0" />
<line x1="166.10" y1="338.80" x2="166.10" y2="402.80" stroke="#777" stroke-width="1.0" />
<line x1="166.10" y1="339.30" x2="191.30" y2="339.30" stroke="#888" stroke-width="1.0" />
<line x1="191.30" y1="328.80" x2="191.30" y2="348.70" stroke="#555" stroke-width="1.0" />
<line x1="191.30" y1="329.30" x2="238.80" y2="329.30" stroke="#555" stroke-width="1.0" />
<line x1="191.30" y1="348.20" x2="196.70" y2="348.20" stroke="#9a9a9a" stroke-width="1.0" />
<line x1="196.70" y1="339.40" x2="196.70" y2="357.00" stroke="#555" stroke-width="1.0" />
<line x1="196.70" y1="339.90" x2="228.20" y2="339.90" stroke="#b0b0b0" stroke-width="1.0" />
<line x1="228.20" y1="335.80" x2="228.20" y2="343.50" stroke="#555" stroke-width="1.0" />
<line x1="228.20" y1="336.30" x2="309.30" y2="336.30" stroke="#555" stroke-width="1.0" />
<line x1="228.20" y1="343.00" x2="247.00" y2="343.00" stroke="#555" stroke-width="1.0" />
<line x1="196.70" y1="356.50" x2="202.20" y2="356.50" stroke="#555" stroke-width="1.0" />
<line x1="202.20" y1="349.80" x2="202.20" y2="363.00" stroke="#555" stroke-width="1.0" />
<line x1="202.20" y1="350.30" x2="216.50" y2="350.30" stroke="#555" stroke-width="1.0" />
<line x1="202.20" y1="362.50" x2="248.00" y2="362.50" stroke="#666" stroke-width="1.0" />
<line x1="248.00" y1="356.80" x2="248.00" y2="367.90" stroke="#555" stroke-width="1.0" />
<line x1="248.00" y1="357.30" x2="295.40" y2="357.30" stroke="#555" stroke-width="1.0" />
<line x1="248.00" y1="367.40" x2="293.20" y2="367.40" stroke="#a5a5a5" stroke-width="1.0" />
<line x1="293.20" y1="364.00" x2="293.20" y2="371.80" stroke="#555" stroke-width="1.0" />
<line x1="293.20" y1="364.50" x2="313.00" y2="364.50" stroke="#555" stroke-width="1.0" />
<line x1="293.20" y1="371.30" x2="306.30" y2="371.30" stroke="#555" stroke-width="1.0" />
<line x1="166.10" y1="402.30" x2="191.30" y2="402.30" stroke="#777" stroke-width="1.0" />
<line x1="191.30" y1="383.70" x2="191.30" y2="420.70" stroke="#666" stroke-width="1.0" />
<line x1="191.30" y1="384.20" x2="201.40" y2="384.20" stroke="#999" stroke-width="1.0" />
<line x1="201.40" y1="378.00" x2="201.40" y2="390.70" stroke="#555" stroke-width="1.0" />
<line x1="201.40" y1="378.50" x2="223.20" y2="378.50" stroke="#555" stroke-width="1.0" />
<line x1="201.40" y1="390.20" x2="315.20" y2="390.20" stroke="#666" stroke-width="1.0" />
<line x1="315.20" y1="384.50" x2="315.20" y2="400.10" stroke="#333" stroke-width="1.2" />
<line x1="315.20" y1="385.00" x2="316.80" y2="385.00" stroke="#333" stroke-width="1.0" />
<line x1="315.20" y1="391.90" x2="316.80" y2="391.90" stroke="#333" stroke-width="1.0" />
<line x1="315.20" y1="398.60" x2="316.80" y2="398.60" stroke="#333" stroke-width="1.0" />
<line x1="191.30" y1="420.20" x2="207.60" y2="420.20" stroke="#666" stroke-width="1.0" />
<line x1="207.60" y1="405.80" x2="207.60" y2="435.00" stroke="#555" stroke-width="1.0" />
<line x1="207.60" y1="406.30" x2="217.30" y2="406.30" stroke="#555" stroke-width="1.0" />
<line x1="207.60" y1="434.50" x2="214.30" y2="434.50" stroke="#555" stroke-width="1.0" />
<line x1="214.30" y1="418.00" x2="214.30" y2="450.10" stroke="#666" stroke-width="1.0" />
<line x1="214.30" y1="418.50" x2="222.00" y2="418.50" stroke="#777" stroke-width="1.0" />
<line x1="222.00" y1="412.90" x2="222.00" y2="423.90" stroke="#666" stroke-width="1.0" />
<line x1="222.00" y1="413.40" x2="223.60" y2="413.40" stroke="#555" stroke-width="1.0" />
<line x1="222.00" y1="423.40" x2="226.60" y2="423.40" stroke="#888" stroke-width="1.0" />
<line x1="226.60" y1="420.10" x2="226.60" y2="428.10" stroke="#555" stroke-width="1.0" />
<line x1="226.60" y1="420.60" x2="234.10" y2="420.60" stroke="#555" stroke-width="1.0" />
<line x1="226.60" y1="427.60" x2="228.20" y2="427.60" stroke="#555" stroke-width="1.0" />
<line x1="214.30" y1="449.60" x2="249.20" y2="449.60" stroke="#a5a5a5" stroke-width="1.0" />
<line x1="249.20" y1="439.00" x2="249.20" y2="461.00" stroke="#555" stroke-width="1.0" />
<line x1="249.20" y1="439.50" x2="260.60" y2="439.50" stroke="#555" stroke-width="1.0" />
<line x1="260.60" y1="433.50" x2="260.60" y2="444.70" stroke="#555" stroke-width="1.0" />
<line x1="260.60" y1="434.00" x2="263.20" y2="434.00" stroke="#555" stroke-width="1.0" />
<line x1="260.60" y1="444.20" x2="271.00" y2="444.20" stroke="#777" stroke-width="1.0" />
<line x1="271.00" y1="440.70" x2="271.00" y2="449.10" stroke="#444" stroke-width="1.0" />
<line x1="249.20" y1="460.50" x2="254.60" y2="460.50" stroke="#555" stroke-width="1.0" />
<line x1="254.60" y1="454.70" x2="254.60" y2="470.10" stroke="#444" stroke-width="1.2" />
<line x1="254.60" y1="455.20" x2="256.20" y2="455.20" stroke="#444" stroke-width="1.0" />
<line x1="254.60" y1="461.80" x2="256.20" y2="461.80" stroke="#444" stroke-width="1.0" />
<line x1="254.60" y1="468.90" x2="256.20" y2="468.90" stroke="#444" stroke-width="1.0" />
<text font-size="6.9" fill="#2AA9E0" textLength="66.70" lengthAdjust="spacingAndGlyphs" x="240.50" y="332.10" stroke="none">WP003488188.1</text>
<text font-size="6.9" fill="#3D3E98" textLength="66.50" lengthAdjust="spacingAndGlyphs" x="311.00" y="339.06" stroke="none">WP011003045.1</text>
<text font-size="6.9" fill="#3D3E98" textLength="64.70" lengthAdjust="spacingAndGlyphs" x="249.20" y="346.01" stroke="none">WP011003323.1</text>
<text font-size="6.9" fill="#3D3E98" textLength="65.00" lengthAdjust="spacingAndGlyphs" x="218.70" y="352.97" stroke="none">WP011002383.1</text>
<text font-size="6.9" fill="#22A866" textLength="36.10" lengthAdjust="spacingAndGlyphs" x="297.10" y="359.92" stroke="none">Psyr3185</text>
<text font-size="6.9" fill="#F3A052" textLength="48.80" lengthAdjust="spacingAndGlyphs" x="317.20" y="366.88" stroke="none">PSPPH3099</text>
<text font-size="6.9" fill="#E04A5A" textLength="73.00" lengthAdjust="spacingAndGlyphs" x="308.00" y="373.83" stroke="none">PSPTO3355 CspD</text>
<text font-size="6.9" fill="#2AA9E0" textLength="67.20" lengthAdjust="spacingAndGlyphs" x="225.70" y="380.79" stroke="none">WP003483561.1</text>
<text font-size="6.9" fill="#22A866" textLength="37.60" lengthAdjust="spacingAndGlyphs" x="319.00" y="387.74" stroke="none">Psyr1403</text>
<text font-size="6.9" fill="#E04A5A" textLength="48.60" lengthAdjust="spacingAndGlyphs" x="317.40" y="394.70" stroke="none">PSPTO3984</text>
<text font-size="6.9" fill="#F3A052" textLength="47.20" lengthAdjust="spacingAndGlyphs" x="318.80" y="401.65" stroke="none">PSPPH3779</text>
<text font-size="6.9" fill="#2AA9E0" textLength="62.70" lengthAdjust="spacingAndGlyphs" x="219.80" y="408.61" stroke="none">WP011037431.1</text>
<text font-size="6.9" fill="#F3A052" textLength="45.60" lengthAdjust="spacingAndGlyphs" x="227.10" y="415.56" stroke="none">PSPPH1160</text>
<text font-size="6.9" fill="#E04A5A" textLength="46.40" lengthAdjust="spacingAndGlyphs" x="237.80" y="422.52" stroke="none">PSPTO1274</text>
<text font-size="6.9" fill="#22A866" textLength="37.20" lengthAdjust="spacingAndGlyphs" x="231.30" y="429.47" stroke="none">Psyr1094</text>
<text font-size="6.9" fill="#22A866" textLength="36.60" lengthAdjust="spacingAndGlyphs" x="267.20" y="436.43" stroke="none">Psyr2160</text>
<text font-size="6.9" fill="#E04A5A" textLength="48.40" lengthAdjust="spacingAndGlyphs" x="272.70" y="443.38" stroke="none">PSPTO2376</text>
<text font-size="6.9" fill="#F3A052" textLength="46.30" lengthAdjust="spacingAndGlyphs" x="274.80" y="450.34" stroke="none">PSPPH2133</text>
<text font-size="6.9" fill="#22A866" textLength="38.10" lengthAdjust="spacingAndGlyphs" x="258.50" y="457.29" stroke="none">Psyr3884</text>
<text font-size="6.9" fill="#E04A5A" textLength="72.10" lengthAdjust="spacingAndGlyphs" x="258.50" y="464.25" stroke="none">PSPTO4145 CapB</text>
<text font-size="6.9" fill="#F3A052" textLength="47.50" lengthAdjust="spacingAndGlyphs" x="258.50" y="471.20" stroke="none">PSPPH1380</text>
<rect x="59.50" y="421.40" width="121.50" height="51.00" fill="#fff" stroke="#6a6a6a" stroke-width="1" />
<rect x="63.70" y="425.00" width="11.40" height="7.00" fill="#ED1C24" />
<text font-size="8.6" fill="#2a2a2a" stroke="#2a2a2a" stroke-width="0.2" textLength="71.20" lengthAdjust="spacingAndGlyphs" x="80.40" y="431.30" ><tspan font-style="italic">Pto</tspan>DC3000</text>
<rect x="63.70" y="434.68" width="11.40" height="7.00" fill="#00A651" />
<text font-size="8.6" fill="#2a2a2a" stroke="#2a2a2a" stroke-width="0.2" textLength="56.00" lengthAdjust="spacingAndGlyphs" x="80.40" y="440.98" ><tspan font-style="italic">Psy</tspan>B728a</text>
<rect x="63.70" y="444.36" width="11.40" height="7.00" fill="#F58220" />
<text font-size="8.6" fill="#2a2a2a" stroke="#2a2a2a" stroke-width="0.2" textLength="57.40" lengthAdjust="spacingAndGlyphs" x="80.40" y="450.66" ><tspan font-style="italic">Pph</tspan>1448a</text>
<rect x="63.70" y="454.04" width="11.40" height="7.00" fill="#00AEEF" />
<text font-size="8.6" fill="#2a2a2a" stroke="#2a2a2a" stroke-width="0.2" textLength="79.80" lengthAdjust="spacingAndGlyphs" x="80.40" y="460.34" ><tspan font-style="italic">X. campestris</tspan></text>
<rect x="63.70" y="463.72" width="11.40" height="7.00" fill="#2E3192" />
<text font-size="8.6" fill="#2a2a2a" stroke="#2a2a2a" stroke-width="0.2" textLength="97.60" lengthAdjust="spacingAndGlyphs" x="80.40" y="470.02" ><tspan font-style="italic">R. solanacearum</tspan></text>
<line x1="383.10" y1="322.40" x2="553.00" y2="322.40" stroke="#2a2a2a" stroke-width="0.9" />
<line x1="436.00" y1="320.40" x2="436.00" y2="322.40" stroke="#444" stroke-width="0.8" />
<text font-size="8.6" fill="#262626" stroke="#262626" stroke-width="0.2" textLength="13.60" lengthAdjust="spacingAndGlyphs" x="429.20" y="316.20" >10</text>
<line x1="492.10" y1="320.40" x2="492.10" y2="322.40" stroke="#444" stroke-width="0.8" />
<text font-size="8.6" fill="#262626" stroke="#262626" stroke-width="0.2" textLength="13.60" lengthAdjust="spacingAndGlyphs" x="485.30" y="316.20" >20</text>
<line x1="548.20" y1="320.40" x2="548.20" y2="322.40" stroke="#444" stroke-width="0.8" />
<text font-size="8.6" fill="#262626" stroke="#262626" stroke-width="0.2" textLength="13.60" lengthAdjust="spacingAndGlyphs" x="541.40" y="316.20" >30</text>
<path d="M457.6,318.8 L465.4,318.8 L461.5,326.0Z" fill="#000"/>
<rect x="393.92" y="360.88" width="5.66" height="7.00" fill="#dedede" />
<rect x="399.53" y="360.88" width="5.66" height="7.00" fill="#dedede" />
<rect x="410.75" y="326.10" width="5.66" height="48.73" fill="#dedede" />
<rect x="416.36" y="353.92" width="5.66" height="7.00" fill="#c2c2c2" />
<rect x="416.36" y="367.83" width="5.66" height="7.00" fill="#f3a5ac" />
<rect x="421.97" y="326.10" width="5.66" height="7.00" fill="#787878" />
<rect x="421.97" y="346.97" width="5.66" height="7.00" fill="#787878" />
<rect x="421.97" y="360.88" width="5.66" height="7.00" fill="#787878" />
<rect x="421.97" y="367.83" width="5.66" height="7.00" fill="#f3a5ac" />
<rect x="421.97" y="374.79" width="5.66" height="7.00" fill="#787878" />
<rect x="421.97" y="381.74" width="5.66" height="20.92" fill="#dedede" />
<rect x="421.97" y="402.61" width="5.66" height="7.00" fill="#787878" />
<rect x="421.97" y="409.56" width="5.66" height="62.64" fill="#c2c2c2" />
<rect x="427.58" y="326.10" width="5.66" height="41.78" fill="#787878" />
<rect x="427.58" y="367.83" width="5.66" height="7.00" fill="#f3a5ac" />
<rect x="427.58" y="374.79" width="5.66" height="7.00" fill="#a8a8a8" />
<rect x="427.58" y="381.74" width="5.66" height="90.47" fill="#787878" />
<rect x="433.19" y="353.92" width="5.66" height="13.96" fill="#787878" />
<rect x="433.19" y="367.83" width="5.66" height="7.00" fill="#f3a5ac" />
<rect x="433.19" y="402.61" width="5.66" height="7.00" fill="#787878" />
<rect x="438.80" y="326.10" width="5.66" height="41.78" fill="#787878" />
<rect x="438.80" y="367.83" width="5.66" height="7.00" fill="#f3a5ac" />
<rect x="438.80" y="374.79" width="5.66" height="97.42" fill="#787878" />
<rect x="444.41" y="326.10" width="5.66" height="41.78" fill="#787878" />
<rect x="444.41" y="367.83" width="5.66" height="7.00" fill="#f3a5ac" />
<rect x="444.41" y="374.79" width="5.66" height="97.42" fill="#787878" />
<rect x="450.02" y="326.10" width="5.66" height="41.78" fill="#787878" />
<rect x="450.02" y="367.83" width="5.66" height="7.00" fill="#f3a5ac" />
<rect x="450.02" y="374.79" width="5.66" height="97.42" fill="#787878" />
<rect x="455.63" y="326.10" width="5.66" height="41.78" fill="#787878" />
<rect x="455.63" y="367.83" width="5.66" height="7.00" fill="#f3a5ac" />
<rect x="455.63" y="374.79" width="5.66" height="97.42" fill="#787878" />
<rect x="461.24" y="326.10" width="5.66" height="41.78" fill="#787878" />
<rect x="461.24" y="367.83" width="5.66" height="7.00" fill="#f3a5ac" />
<rect x="461.24" y="374.79" width="5.66" height="97.42" fill="#787878" />
<rect x="466.85" y="353.92" width="5.66" height="13.96" fill="#787878" />
<rect x="466.85" y="367.83" width="5.66" height="7.00" fill="#f3a5ac" />
<rect x="472.46" y="326.10" width="5.66" height="7.00" fill="#787878" />
<rect x="472.46" y="346.97" width="5.66" height="20.92" fill="#787878" />
<rect x="472.46" y="367.83" width="5.66" height="7.00" fill="#f3a5ac" />
<rect x="472.46" y="374.79" width="5.66" height="7.00" fill="#787878" />
<rect x="472.46" y="402.61" width="5.66" height="7.00" fill="#868686" />
<rect x="472.46" y="409.56" width="5.66" height="62.64" fill="#c2c2c2" />
<rect x="478.07" y="326.10" width="5.66" height="41.78" fill="#787878" />
<rect x="478.07" y="367.83" width="5.66" height="7.00" fill="#f3a5ac" />
<rect x="478.07" y="374.79" width="5.66" height="97.42" fill="#787878" />
<rect x="483.69" y="326.10" width="5.66" height="41.78" fill="#787878" />
<rect x="483.69" y="367.83" width="5.66" height="7.00" fill="#f3a5ac" />
<rect x="483.69" y="374.79" width="5.66" height="97.42" fill="#787878" />
<rect x="489.29" y="326.10" width="5.66" height="34.82" fill="#a8a8a8" />
<rect x="489.29" y="360.88" width="5.66" height="7.00" fill="#dedede" />
<rect x="489.29" y="367.83" width="5.66" height="7.00" fill="#f3a5ac" />
<rect x="489.29" y="374.79" width="5.66" height="97.42" fill="#a8a8a8" />
<rect x="494.90" y="326.10" width="5.66" height="41.78" fill="#787878" />
<rect x="494.90" y="367.83" width="5.66" height="7.00" fill="#f3a5ac" />
<rect x="494.90" y="374.79" width="5.66" height="97.42" fill="#787878" />
<rect x="500.51" y="326.10" width="5.66" height="41.78" fill="#787878" />
<rect x="500.51" y="367.83" width="5.66" height="7.00" fill="#f3a5ac" />
<rect x="500.51" y="374.79" width="5.66" height="97.42" fill="#787878" />
<rect x="506.12" y="326.10" width="5.66" height="41.78" fill="#787878" />
<rect x="506.12" y="367.83" width="5.66" height="7.00" fill="#f3a5ac" />
<rect x="506.12" y="374.79" width="5.66" height="97.42" fill="#787878" />
<rect x="511.73" y="367.83" width="5.66" height="7.00" fill="#f3a5ac" />
<rect x="517.35" y="367.83" width="5.66" height="7.00" fill="#f3a5ac" />
<rect x="522.96" y="326.10" width="5.66" height="27.87" fill="#868686" />
<rect x="522.96" y="353.92" width="5.66" height="13.96" fill="#787878" />
<rect x="522.96" y="367.83" width="5.66" height="7.00" fill="#f3a5ac" />
<rect x="522.96" y="374.79" width="5.66" height="27.87" fill="#868686" />
<rect x="522.96" y="402.61" width="5.66" height="27.87" fill="#a8a8a8" />
<rect x="522.96" y="430.43" width="5.66" height="41.78" fill="#c2c2c2" />
<rect x="528.57" y="326.10" width="5.66" height="27.87" fill="#dedede" />
<rect x="528.57" y="353.92" width="5.66" height="13.96" fill="#787878" />
<rect x="528.57" y="367.83" width="5.66" height="7.00" fill="#f3a5ac" />
<rect x="528.57" y="374.79" width="5.66" height="7.00" fill="#c2c2c2" />
<rect x="528.57" y="381.74" width="5.66" height="48.73" fill="#dedede" />
<rect x="534.18" y="326.10" width="5.66" height="27.87" fill="#dedede" />
<rect x="534.18" y="353.92" width="5.66" height="13.96" fill="#787878" />
<rect x="534.18" y="367.83" width="5.66" height="7.00" fill="#f3a5ac" />
<rect x="534.18" y="374.79" width="5.66" height="55.69" fill="#dedede" />
<line x1="410.75" y1="326.10" x2="539.78" y2="326.10" stroke="#ffffff" stroke-width="1.3" stroke-opacity="0.28"/>
<line x1="410.75" y1="326.10" x2="539.78" y2="326.10" stroke="#3c3c3c" stroke-width="0.5" stroke-opacity="0.6"/>
<line x1="410.75" y1="333.06" x2="539.78" y2="333.06" stroke="#ffffff" stroke-width="1.3" stroke-opacity="0.28"/>
<line x1="410.75" y1="333.06" x2="539.78" y2="333.06" stroke="#3c3c3c" stroke-width="0.5" stroke-opacity="0.6"/>
<line x1="410.75" y1="340.01" x2="539.78" y2="340.01" stroke="#ffffff" stroke-width="1.3" stroke-opacity="0.28"/>
<line x1="410.75" y1="340.01" x2="539.78" y2="340.01" stroke="#3c3c3c" stroke-width="0.5" stroke-opacity="0.6"/>
<line x1="410.75" y1="346.97" x2="539.78" y2="346.97" stroke="#ffffff" stroke-width="1.3" stroke-opacity="0.28"/>
<line x1="410.75" y1="346.97" x2="539.78" y2="346.97" stroke="#3c3c3c" stroke-width="0.5" stroke-opacity="0.6"/>
<line x1="410.75" y1="353.92" x2="539.78" y2="353.92" stroke="#ffffff" stroke-width="1.3" stroke-opacity="0.28"/>
<line x1="410.75" y1="353.92" x2="539.78" y2="353.92" stroke="#3c3c3c" stroke-width="0.5" stroke-opacity="0.6"/>
<line x1="410.75" y1="360.88" x2="539.78" y2="360.88" stroke="#ffffff" stroke-width="1.3" stroke-opacity="0.28"/>
<line x1="410.75" y1="360.88" x2="539.78" y2="360.88" stroke="#3c3c3c" stroke-width="0.5" stroke-opacity="0.6"/>
<line x1="410.75" y1="367.83" x2="539.78" y2="367.83" stroke="#ffffff" stroke-width="1.3" stroke-opacity="0.28"/>
<line x1="410.75" y1="367.83" x2="539.78" y2="367.83" stroke="#3c3c3c" stroke-width="0.5" stroke-opacity="0.6"/>
<line x1="410.75" y1="374.79" x2="539.78" y2="374.79" stroke="#ffffff" stroke-width="1.3" stroke-opacity="0.28"/>
<line x1="410.75" y1="374.79" x2="539.78" y2="374.79" stroke="#3c3c3c" stroke-width="0.5" stroke-opacity="0.6"/>
<line x1="393.92" y1="381.74" x2="539.78" y2="381.74" stroke="#ffffff" stroke-width="1.3" stroke-opacity="0.28"/>
<line x1="393.92" y1="381.74" x2="539.78" y2="381.74" stroke="#3c3c3c" stroke-width="0.5" stroke-opacity="0.6"/>
<line x1="393.92" y1="388.70" x2="539.78" y2="388.70" stroke="#ffffff" stroke-width="1.3" stroke-opacity="0.28"/>
<line x1="393.92" y1="388.70" x2="539.78" y2="388.70" stroke="#3c3c3c" stroke-width="0.5" stroke-opacity="0.6"/>
<line x1="393.92" y1="395.65" x2="539.78" y2="395.65" stroke="#ffffff" stroke-width="1.3" stroke-opacity="0.28"/>
<line x1="393.92" y1="395.65" x2="539.78" y2="395.65" stroke="#3c3c3c" stroke-width="0.5" stroke-opacity="0.6"/>
<line x1="393.92" y1="402.61" x2="539.78" y2="402.61" stroke="#ffffff" stroke-width="1.3" stroke-opacity="0.28"/>
<line x1="393.92" y1="402.61" x2="539.78" y2="402.61" stroke="#3c3c3c" stroke-width="0.5" stroke-opacity="0.6"/>
<line x1="393.92" y1="409.56" x2="539.78" y2="409.56" stroke="#ffffff" stroke-width="1.3" stroke-opacity="0.28"/>
<line x1="393.92" y1="409.56" x2="539.78" y2="409.56" stroke="#3c3c3c" stroke-width="0.5" stroke-opacity="0.6"/>
<line x1="393.92" y1="416.52" x2="539.78" y2="416.52" stroke="#ffffff" stroke-width="1.3" stroke-opacity="0.28"/>
<line x1="393.92" y1="416.52" x2="539.78" y2="416.52" stroke="#3c3c3c" stroke-width="0.5" stroke-opacity="0.6"/>
<line x1="393.92" y1="423.47" x2="539.78" y2="423.47" stroke="#ffffff" stroke-width="1.3" stroke-opacity="0.28"/>
<line x1="393.92" y1="423.47" x2="539.78" y2="423.47" stroke="#3c3c3c" stroke-width="0.5" stroke-opacity="0.6"/>
<line x1="393.92" y1="430.43" x2="539.78" y2="430.43" stroke="#ffffff" stroke-width="1.3" stroke-opacity="0.28"/>
<line x1="393.92" y1="430.43" x2="539.78" y2="430.43" stroke="#3c3c3c" stroke-width="0.5" stroke-opacity="0.6"/>
<line x1="393.92" y1="437.38" x2="539.78" y2="437.38" stroke="#ffffff" stroke-width="1.3" stroke-opacity="0.28"/>
<line x1="393.92" y1="437.38" x2="539.78" y2="437.38" stroke="#3c3c3c" stroke-width="0.5" stroke-opacity="0.6"/>
<line x1="393.92" y1="444.34" x2="539.78" y2="444.34" stroke="#ffffff" stroke-width="1.3" stroke-opacity="0.28"/>
<line x1="393.92" y1="444.34" x2="539.78" y2="444.34" stroke="#3c3c3c" stroke-width="0.5" stroke-opacity="0.6"/>
<line x1="393.92" y1="451.29" x2="539.78" y2="451.29" stroke="#ffffff" stroke-width="1.3" stroke-opacity="0.28"/>
<line x1="393.92" y1="451.29" x2="539.78" y2="451.29" stroke="#3c3c3c" stroke-width="0.5" stroke-opacity="0.6"/>
<line x1="393.92" y1="458.25" x2="539.78" y2="458.25" stroke="#ffffff" stroke-width="1.3" stroke-opacity="0.28"/>
<line x1="393.92" y1="458.25" x2="539.78" y2="458.25" stroke="#3c3c3c" stroke-width="0.5" stroke-opacity="0.6"/>
<line x1="393.92" y1="465.20" x2="539.78" y2="465.20" stroke="#ffffff" stroke-width="1.3" stroke-opacity="0.28"/>
<line x1="393.92" y1="465.20" x2="539.78" y2="465.20" stroke="#3c3c3c" stroke-width="0.5" stroke-opacity="0.6"/>
<line x1="393.92" y1="472.16" x2="539.78" y2="472.16" stroke="#ffffff" stroke-width="1.3" stroke-opacity="0.28"/>
<line x1="393.92" y1="472.16" x2="539.78" y2="472.16" stroke="#3c3c3c" stroke-width="0.5" stroke-opacity="0.6"/>
<line x1="393.92" y1="381.74" x2="393.92" y2="472.16" stroke="#555" stroke-width="0.45" stroke-opacity="0.85"/>
<line x1="399.53" y1="381.74" x2="399.53" y2="472.16" stroke="#222" stroke-width="0.7" stroke-opacity="0.85"/>
<line x1="405.14" y1="381.74" x2="405.14" y2="472.16" stroke="#555" stroke-width="0.45" stroke-opacity="0.85"/>
<line x1="410.75" y1="326.10" x2="410.75" y2="472.16" stroke="#222" stroke-width="0.7" stroke-opacity="0.85"/>
<line x1="416.36" y1="326.10" x2="416.36" y2="472.16" stroke="#222" stroke-width="0.7" stroke-opacity="0.85"/>
<line x1="421.97" y1="326.10" x2="421.97" y2="472.16" stroke="#222" stroke-width="0.7" stroke-opacity="0.85"/>
<line x1="427.58" y1="326.10" x2="427.58" y2="472.16" stroke="#555" stroke-width="0.45" stroke-opacity="0.85"/>
<line x1="433.19" y1="326.10" x2="433.19" y2="472.16" stroke="#222" stroke-width="0.7" stroke-opacity="0.85"/>
<line x1="438.80" y1="326.10" x2="438.80" y2="472.16" stroke="#222" stroke-width="0.7" stroke-opacity="0.85"/>
<line x1="444.41" y1="326.10" x2="444.41" y2="472.16" stroke="#555" stroke-width="0.45" stroke-opacity="0.85"/>
<line x1="450.02" y1="326.10" x2="450.02" y2="472.16" stroke="#555" stroke-width="0.45" stroke-opacity="0.85"/>
<line x1="455.63" y1="326.10" x2="455.63" y2="472.16" stroke="#555" stroke-width="0.45" stroke-opacity="0.85"/>
<line x1="461.24" y1="326.10" x2="461.24" y2="472.16" stroke="#555" stroke-width="0.45" stroke-opacity="0.85"/>
<line x1="466.85" y1="326.10" x2="466.85" y2="472.16" stroke="#222" stroke-width="0.7" stroke-opacity="0.85"/>
<line x1="472.46" y1="326.10" x2="472.46" y2="472.16" stroke="#555" stroke-width="0.45" stroke-opacity="0.85"/>
<line x1="478.07" y1="326.10" x2="478.07" y2="472.16" stroke="#222" stroke-width="0.7" stroke-opacity="0.85"/>
<line x1="483.69" y1="326.10" x2="483.69" y2="472.16" stroke="#555" stroke-width="0.45" stroke-opacity="0.85"/>
<line x1="489.29" y1="326.10" x2="489.29" y2="472.16" stroke="#222" stroke-width="0.7" stroke-opacity="0.85"/>
<line x1="494.90" y1="326.10" x2="494.90" y2="472.16" stroke="#222" stroke-width="0.7" stroke-opacity="0.85"/>
<line x1="500.51" y1="326.10" x2="500.51" y2="472.16" stroke="#555" stroke-width="0.45" stroke-opacity="0.85"/>
<line x1="506.12" y1="326.10" x2="506.12" y2="472.16" stroke="#222" stroke-width="0.7" stroke-opacity="0.85"/>
<line x1="511.73" y1="326.10" x2="511.73" y2="472.16" stroke="#222" stroke-width="0.7" stroke-opacity="0.85"/>
<line x1="517.35" y1="326.10" x2="517.35" y2="472.16" stroke="#222" stroke-width="0.7" stroke-opacity="0.85"/>
<line x1="522.96" y1="326.10" x2="522.96" y2="472.16" stroke="#222" stroke-width="0.7" stroke-opacity="0.85"/>
<line x1="528.57" y1="326.10" x2="528.57" y2="472.16" stroke="#222" stroke-width="0.7" stroke-opacity="0.85"/>
<line x1="534.18" y1="326.10" x2="534.18" y2="472.16" stroke="#555" stroke-width="0.45" stroke-opacity="0.85"/>
<line x1="539.78" y1="326.10" x2="539.78" y2="472.16" stroke="#222" stroke-width="0.7" stroke-opacity="0.85"/>
<rect x="382.70" y="374.79" width="11.22" height="6.96" fill="none" stroke="#555" stroke-width="0.5" />
<rect x="393.92" y="360.88" width="11.22" height="6.96" fill="none" stroke="#555" stroke-width="0.5" />
<line x1="399.53" y1="360.88" x2="399.53" y2="367.83" stroke="#333" stroke-width="0.6" />
<g font-size="5.7" fill="#161616" stroke="#161616" stroke-width="0.12" text-anchor="middle" transform="scale(1.22,1)">
<text y="331.65" x="338.98 343.58 348.18 352.78 357.38 361.98 366.57 371.17 375.77 380.37 384.97 389.57 394.16 398.76 403.36 407.96 412.56 417.16 421.75 426.35 430.95 435.55 440.15">MHNGTVKWFNDAKGFGFIRPDGS</text>
<text y="338.61" x="338.98 343.58 348.18 352.78 357.38 361.98 366.57 371.17 375.77 380.37 384.97 389.57 394.16 398.76 403.36 407.96 412.56 417.16 421.75 426.35 430.95 435.55 440.15">MRTGTVKWFNRRKGFGFITPDAS</text>
<text y="345.56" x="338.98 343.58 348.18 352.78 357.38 361.98 366.57 371.17 375.77 380.37 384.97 389.57 394.16 398.76 403.36 407.96 412.56 417.16 421.75 426.35 430.95 435.55 440.15">MATGTVKWFNRTKGFGFITPDGS</text>
<text y="352.52" x="338.98 343.58 348.18 352.78 357.38 361.98 366.57 371.17 375.77 380.37 384.97 389.57 394.16 398.76 403.36 407.96 412.56 417.16 421.75 426.35 430.95 435.55 440.15">MANGTVKWFNDAKGFGFIRPDGS</text>
<text y="359.47" x="338.98 343.58 348.18 352.78 357.38 361.98 366.57 371.17 375.77 380.37 384.97 389.57 394.16 398.76 403.36 407.96 412.56 417.16 421.75 426.35 430.95 435.55 440.15">MTRGKVKWFNNAKGFGFINAEGK</text>
<text y="366.43" x="325.19 329.79 338.98 343.58 348.18 352.78 357.38 361.98 366.57 371.17 375.77 380.37 384.97 389.57 394.16 398.76 403.36 407.96 412.56 417.16 421.75 426.35 430.95 435.55 440.15">MAMINGKVKWFNNAKGYGFITKDGK</text>
<text y="373.38" x="338.98 343.58 348.18 352.78 357.38 361.98 366.57 371.17 375.77 380.37 384.97 389.57 394.16 398.76 403.36 407.96 412.56 417.16 421.75 426.35 430.95 435.55 440.15" fill="#d8283a" stroke="#d8283a">MLNGKVKWFNNAKGYGFILEDGK</text>
<text y="380.34" x="315.99 320.59 325.19 329.79 334.39 338.98 343.58 348.18 352.78 357.38 361.98 366.57 371.17 375.77 380.37 384.97 389.57 394.16 398.76 403.36 407.96 412.56 417.16 421.75 426.35 430.95 435.55 440.15">MSNTRRRNGTVKWFNDAKGFGFIRRENG</text>
<text y="387.29" x="325.19 329.79 334.39 338.98 343.58 348.18 352.78 357.38 361.98 366.57 371.17 375.77 380.37 384.97 389.57 394.16 398.76 403.36 407.96 412.56 417.16 421.75 426.35 430.95 435.55 440.15">MSNRDTGTVKWFNTSKGFGFISRDSG</text>
<text y="394.25" x="325.19 329.79 334.39 338.98 343.58 348.18 352.78 357.38 361.98 366.57 371.17 375.77 380.37 384.97 389.57 394.16 398.76 403.36 407.96 412.56 417.16 421.75 426.35 430.95 435.55 440.15">MSNRDTGTVKWFNTSKGFGFISRDSG</text>
<text y="401.20" x="325.19 329.79 334.39 338.98 343.58 348.18 352.78 357.38 361.98 366.57 371.17 375.77 380.37 384.97 389.57 394.16 398.76 403.36 407.96 412.56 417.16 421.75 426.35 430.95 435.55 440.15">MSNRDTGTVKWFNTSKGFGFISRDSG</text>
<text y="408.16" x="325.19 329.79 334.39 338.98 343.58 348.18 352.78 357.38 361.98 366.57 371.17 375.77 380.37 384.97 389.57 394.16 398.76 403.36 407.96 412.56 417.16 421.75 426.35 430.95 435.55 440.15">MSDRQNGKVKWFNDAKGFGFITPESG</text>
<text y="415.11" x="325.19 329.79 334.39 338.98 343.58 348.18 352.78 357.38 361.98 366.57 371.17 375.77 380.37 384.97 389.57 394.16 398.76 403.36 407.96 412.56 417.16 421.75 426.35 430.95 435.55 440.15">MADRQSGTVKWFNDEKGFGFITPESG</text>
<text y="422.07" x="325.19 329.79 334.39 338.98 343.58 348.18 352.78 357.38 361.98 366.57 371.17 375.77 380.37 384.97 389.57 394.16 398.76 403.36 407.96 412.56 417.16 421.75 426.35 430.95 435.55 440.15">MARRQSGTVKWFNDEKGFGFITPESG</text>
<text y="429.02" x="325.19 329.79 334.39 338.98 343.58 348.18 352.78 357.38 361.98 366.57 371.17 375.77 380.37 384.97 389.57 394.16 398.76 403.36 407.96 412.56 417.16 421.75 426.35 430.95 435.55 440.15">MARRQSGTVKWFNDEKGFGFITPESG</text>
<text y="435.98" x="325.19 329.79 334.39 338.98 343.58 348.18 352.78 357.38 361.98 366.57 371.17 375.77 380.37 384.97 389.57 394.16 398.76 403.36 407.96 412.56 417.16 421.75 426.35 430.95 435.55 440.15">MSNRQTGTVKWFNDEKGFGFITPQSG</text>
<text y="442.93" x="325.19 329.79 334.39 338.98 343.58 348.18 352.78 357.38 361.98 366.57 371.17 375.77 380.37 384.97 389.57 394.16 398.76 403.36 407.96 412.56 417.16 421.75 426.35 430.95 435.55 440.15">MSNRQTGTVKWFNDEKGFGFITPQSG</text>
<text y="449.89" x="325.19 329.79 334.39 338.98 343.58 348.18 352.78 357.38 361.98 366.57 371.17 375.77 380.37 384.97 389.57 394.16 398.76 403.36 407.96 412.56 417.16 421.75 426.35 430.95 435.55 440.15">MSNRQTGTVKWFNDEKGFGFITPQSG</text>
<text y="456.84" x="325.19 329.79 334.39 338.98 343.58 348.18 352.78 357.38 361.98 366.57 371.17 375.77 380.37 384.97 389.57 394.16 398.76 403.36 407.96 412.56 417.16 421.75 426.35 430.95 435.55 440.15">MSNRQTGTVKWFNDEKGFGFITPQSG</text>
<text y="463.80" x="325.19 329.79 334.39 338.98 343.58 348.18 352.78 357.38 361.98 366.57 371.17 375.77 380.37 384.97 389.57 394.16 398.76 403.36 407.96 412.56 417.16 421.75 426.35 430.95 435.55 440.15">MSNRQTGTVKWFNDEKGFGFITPQSG</text>
<text y="470.75" x="325.19 329.79 334.39 338.98 343.58 348.18 352.78 357.38 361.98 366.57 371.17 375.77 380.37 384.97 389.57 394.16 398.76 403.36 407.96 412.56 417.16 421.75 426.35 430.95 435.55 440.15">MSNRQTGTVKWFNDEKGFGFITPQSG</text>
</g>
<g font-size="6" fill="#3c3c3c" text-anchor="middle" transform="scale(1.7,1)">
<text y="330.80" x="233.37 236.67 239.97">---</text>
<text y="337.75" x="233.37 236.67 239.97">---</text>
<text y="344.71" x="233.37 236.67 239.97">---</text>
<text y="351.67" x="233.37 236.67 239.97">---</text>
<text y="358.62" x="233.37 236.67 239.97">---</text>
<text y="365.57" x="239.97">-</text>
<text y="372.53" x="233.37 236.67 239.97" fill="#e05060">---</text>
</g>
<text font-size="13.0" fill="#000" font-weight="bold" textLength="7.50" lengthAdjust="spacingAndGlyphs" x="669.80" y="82.70" stroke="#000" stroke-width="0.45">a</text>
<text font-size="13.0" fill="#000" font-weight="bold" textLength="8.40" lengthAdjust="spacingAndGlyphs" x="669.80" y="222.00" stroke="#000" stroke-width="0.45">b</text>
<text font-size="13.0" fill="#000" font-weight="bold" textLength="7.60" lengthAdjust="spacingAndGlyphs" x="669.80" y="357.00" stroke="#000" stroke-width="0.45">c</text>
<text font-size="13.0" fill="#000" font-weight="bold" textLength="8.80" lengthAdjust="spacingAndGlyphs" x="927.80" y="82.70" stroke="#000" stroke-width="0.45">d</text>
<text font-size="13.0" fill="#000" font-weight="bold" textLength="8.20" lengthAdjust="spacingAndGlyphs" x="927.80" y="222.00" stroke="#000" stroke-width="0.45">e</text>
<text font-size="13.0" fill="#000" font-weight="bold" textLength="5.80" lengthAdjust="spacingAndGlyphs" x="927.80" y="357.00" stroke="#000" stroke-width="0.45">f</text>
<path d="M745.2,169.7 L746.6,169.1 L747.9,168.4 L749.3,167.1 L750.7,165.9 L752.0,164.6 L753.4,163.3 L754.7,160.9 L756.1,158.6 L757.5,156.2 L758.8,153.9 L760.2,150.5 L761.6,147.0 L762.9,143.0 L764.3,138.9 L765.6,135.0 L767.0,131.2 L768.4,127.6 L769.7,123.9 L771.1,120.5 L772.5,117.1 L773.8,114.9 L775.2,112.8 L776.6,110.9 L777.9,108.9 L779.3,107.4 L780.6,105.9 L782.0,104.2 L783.4,102.5 L784.7,102.9 L786.1,103.4 L787.5,105.1 L788.8,106.8 L790.2,107.7 L791.6,108.5 L792.9,110.7 L794.3,112.8 L795.6,115.8 L797.0,118.8 L798.4,123.1 L799.7,127.3 L801.1,132.1 L802.5,136.8 L803.8,141.0 L805.2,145.3 L806.6,149.2 L807.9,153.0 L809.3,155.6 L810.6,158.2 L812.0,160.5 L813.4,162.9 L814.7,164.8 L816.1,166.7 L817.5,167.8 L818.8,168.9 L820.2,169.3 L821.6,169.7 L822.9,169.9 L824.3,170.1 L824.3,171.0 L822.9,171.0 L821.6,171.0 L820.2,171.0 L818.8,171.0 L817.5,170.6 L816.1,170.1 L814.7,169.7 L813.4,169.3 L812.0,168.4 L810.6,167.6 L809.3,166.3 L807.9,165.0 L806.6,163.5 L805.2,162.0 L803.8,160.1 L802.5,158.2 L801.1,156.0 L799.7,153.9 L798.4,151.7 L797.0,149.6 L795.6,148.1 L794.3,146.6 L792.9,145.5 L791.6,144.5 L790.2,143.4 L788.8,142.3 L787.5,141.7 L786.1,141.0 L784.7,141.0 L783.4,141.0 L782.0,142.1 L780.6,143.2 L779.3,144.5 L777.9,145.7 L776.6,147.0 L775.2,148.3 L773.8,149.6 L772.5,150.9 L771.1,152.4 L769.7,153.9 L768.4,155.6 L767.0,157.3 L765.6,158.8 L764.3,160.3 L762.9,162.0 L761.6,163.7 L760.2,165.2 L758.8,166.7 L757.5,167.5 L756.1,168.2 L754.7,169.0 L753.4,169.7 L752.0,169.9 L750.7,170.1 L749.3,170.4 L747.9,170.6 L746.6,170.8 L745.2,171.0Z" fill="#FACFD3" stroke="none" stroke-width="0" stroke-linejoin="round" stroke-linecap="round" />
<line x1="705.90" y1="80.20" x2="705.90" y2="171.60" stroke="#b2b2b2" stroke-width="1.4" />
<line x1="702.30" y1="171.00" x2="879.22" y2="171.00" stroke="#a6a6a6" stroke-width="1.4" />
<line x1="702.10" y1="85.40" x2="705.90" y2="85.40" stroke="#555" stroke-width="0.9" />
<text font-size="8.3" fill="#262626" stroke="#262626" stroke-width="0.1" textLength="4.40" lengthAdjust="spacingAndGlyphs" x="693.70" y="88.20" >2</text>
<line x1="702.10" y1="128.20" x2="705.90" y2="128.20" stroke="#555" stroke-width="0.9" />
<text font-size="8.3" fill="#262626" stroke="#262626" stroke-width="0.1" textLength="3.60" lengthAdjust="spacingAndGlyphs" x="694.50" y="131.00" >1</text>
<line x1="702.10" y1="171.00" x2="705.90" y2="171.00" stroke="#555" stroke-width="0.9" />
<text font-size="8.3" fill="#262626" stroke="#262626" stroke-width="0.1" textLength="4.40" lengthAdjust="spacingAndGlyphs" x="693.70" y="173.80" >0</text>
<line x1="715.20" y1="171.00" x2="715.20" y2="174.40" stroke="#555" stroke-width="0.9" />
<text font-size="8.3" fill="#262626" stroke="#262626" stroke-width="0.1" textLength="4.40" lengthAdjust="spacingAndGlyphs" x="713.00" y="184.60" >0</text>
<line x1="797.01" y1="171.00" x2="797.01" y2="174.40" stroke="#555" stroke-width="0.9" />
<text font-size="8.3" fill="#262626" stroke="#262626" stroke-width="0.1" textLength="9.00" lengthAdjust="spacingAndGlyphs" x="792.51" y="184.60" >30</text>
<line x1="878.82" y1="171.00" x2="878.82" y2="174.40" stroke="#555" stroke-width="0.9" />
<text font-size="8.3" fill="#262626" stroke="#262626" stroke-width="0.1" textLength="9.00" lengthAdjust="spacingAndGlyphs" x="874.32" y="184.60" >60</text>
<path d="M715.2,148.3 L716.3,156.0 L717.4,165.9 L719.3,168.0 L723.4,168.9 L726.1,169.3 L728.8,169.7 L731.6,169.1 L734.3,169.7 L737.0,170.1 L742.5,170.4 L747.9,169.7 L750.7,168.9 L753.4,166.7 L756.1,163.7 L758.8,159.9 L761.6,156.0 L764.3,150.9 L767.0,145.3 L769.7,140.6 L772.5,135.5 L775.2,131.2 L777.9,127.3 L780.6,124.3 L783.4,121.8 L786.1,122.2 L788.8,123.9 L791.6,125.6 L794.3,129.5 L797.0,133.8 L799.7,140.2 L802.5,147.5 L805.2,153.9 L807.9,159.0 L810.6,163.3 L813.4,166.7 L816.1,168.9 L818.8,169.9 L821.6,170.4 L824.3,170.6 L827.0,170.7 L829.7,170.4 L832.5,170.8 L835.2,170.5 L837.9,170.6 L840.6,170.8 L843.4,170.5 L846.1,170.8 L848.8,170.5 L851.6,170.8 L854.3,170.8 L857.0,170.5 L859.7,170.3 L862.5,170.7 L865.2,170.7 L867.9,170.4 L870.6,170.2 L873.4,170.4 L876.1,170.6 L878.8,170.2" fill="none" stroke="#E8192B" stroke-width="1.9" stroke-linejoin="round" stroke-linecap="round" />
<path d="M715.2,149.6 L716.3,157.3 L717.4,166.7 L719.3,168.9 L723.4,169.7 L728.8,170.6 L731.6,170.8 L734.3,170.2 L737.0,170.6 L739.7,170.7 L742.5,170.7 L745.2,170.6 L747.9,170.3 L750.7,170.7 L753.4,170.4 L756.1,170.4 L758.8,170.6 L761.6,170.5 L764.3,170.8 L767.0,170.8 L769.7,170.7 L772.5,170.4 L775.2,170.5 L777.9,170.6 L780.6,170.4 L783.4,170.5 L786.1,170.6 L788.8,170.3 L791.6,170.4 L794.3,170.7 L797.0,170.4 L799.7,170.5 L802.5,170.2 L805.2,170.3 L807.9,170.6 L810.6,170.2 L813.4,170.7 L816.1,170.5 L818.8,170.3 L821.6,170.7 L824.3,170.5 L827.0,170.8 L829.7,170.4 L832.5,170.3 L835.2,170.4 L837.9,170.2 L840.6,170.6 L843.4,170.4 L846.1,170.4 L848.8,170.4 L851.6,170.5 L854.3,170.3 L857.0,170.2 L859.7,170.5 L862.5,170.4 L865.2,170.8 L867.9,170.3 L870.6,170.4 L873.4,170.1 L876.1,170.3 L878.8,170.6" fill="none" stroke="#2D2F95" stroke-width="1.6" stroke-linejoin="round" stroke-linecap="round" />
<text font-size="8.3" fill="#3A3C9A" stroke="#3A3C9A" stroke-width="0.1" textLength="26.70" lengthAdjust="spacingAndGlyphs" x="766.50" y="165.50" >AF(EV)</text>
<text font-size="8.3" fill="#E8344A" stroke="#E8344A" stroke-width="0.1" textLength="33.20" lengthAdjust="spacingAndGlyphs" x="795.80" y="106.00" >AF(Epi1)</text>
<text font-size="8.3" fill="#262626" stroke="#262626" stroke-width="0.1" textLength="43.80" lengthAdjust="spacingAndGlyphs" x="770.80" y="197.00" >Time (min)</text>
<text font-size="8.3" fill="#262626" stroke="#262626" stroke-width="0.1" textLength="77.00" lengthAdjust="spacingAndGlyphs" transform="translate(686.00,163.40) rotate(-90)" >ROS (×1,000 RLU)</text>
<line x1="714.80" y1="122.60" x2="714.80" y2="137.40" stroke="#E8192B" stroke-width="0.9" />
<path d="M712.9,136.20000000000002 L716.6999999999999,136.20000000000002 L714.8,140.4Z" fill="#E8192B"/>
<text font-size="8.3" fill="#E8344A" stroke="#E8344A" stroke-width="0.1" textLength="43.80" lengthAdjust="spacingAndGlyphs" x="708.20" y="119.30" >csp22 + AF</text>
<path d="M1004.2,170.1 L1005.6,169.3 L1007.0,168.4 L1008.3,167.6 L1009.7,166.7 L1011.1,165.0 L1012.5,163.3 L1013.8,161.6 L1015.2,159.9 L1016.6,158.2 L1017.9,156.4 L1019.3,153.9 L1020.7,151.3 L1022.0,147.5 L1023.4,143.6 L1024.8,139.8 L1026.1,135.9 L1027.5,133.3 L1028.9,130.8 L1030.2,128.2 L1031.6,125.6 L1033.0,123.5 L1034.4,121.4 L1035.7,119.6 L1037.1,117.9 L1038.5,116.2 L1039.8,114.5 L1041.2,113.2 L1042.6,111.9 L1043.9,109.8 L1045.3,107.7 L1046.7,105.9 L1048.0,104.2 L1049.4,105.7 L1050.8,107.2 L1052.1,108.3 L1053.5,109.4 L1054.9,109.8 L1056.2,110.2 L1057.6,110.7 L1059.0,111.1 L1060.4,114.5 L1061.7,117.9 L1063.1,121.8 L1064.5,125.6 L1065.8,128.6 L1067.2,131.6 L1068.6,135.5 L1069.9,139.3 L1071.3,142.3 L1072.7,145.3 L1074.0,147.9 L1075.4,150.5 L1076.8,151.3 L1078.1,152.2 L1079.5,153.9 L1080.9,155.6 L1082.2,157.3 L1083.6,159.0 L1085.0,160.3 L1086.4,161.6 L1087.7,162.7 L1089.1,163.7 L1090.5,164.6 L1091.8,165.4 L1093.2,166.1 L1094.6,166.7 L1095.9,167.6 L1097.3,168.4 L1098.7,168.9 L1100.0,169.3 L1101.4,169.5 L1102.8,169.7 L1102.8,171.0 L1101.4,170.8 L1100.0,170.6 L1098.7,170.4 L1097.3,170.1 L1095.9,169.7 L1094.6,169.3 L1093.2,168.6 L1091.8,168.0 L1090.5,167.4 L1089.1,166.7 L1087.7,166.1 L1086.4,165.4 L1085.0,164.6 L1083.6,163.7 L1082.2,162.7 L1080.9,161.6 L1079.5,160.3 L1078.1,159.0 L1076.8,158.6 L1075.4,158.2 L1074.0,156.4 L1072.7,154.7 L1071.3,153.5 L1069.9,152.2 L1068.6,150.5 L1067.2,148.7 L1065.8,146.6 L1064.5,144.5 L1063.1,142.8 L1061.7,141.0 L1060.4,139.5 L1059.0,138.0 L1057.6,137.6 L1056.2,137.2 L1054.9,137.0 L1053.5,136.8 L1052.1,137.0 L1050.8,137.2 L1049.4,137.4 L1048.0,137.6 L1046.7,138.3 L1045.3,138.9 L1043.9,140.0 L1042.6,141.0 L1041.2,142.3 L1039.8,143.6 L1038.5,144.9 L1037.1,146.2 L1035.7,147.5 L1034.4,148.7 L1033.0,150.0 L1031.6,151.3 L1030.2,153.5 L1028.9,155.6 L1027.5,157.7 L1026.1,159.9 L1024.8,161.6 L1023.4,163.3 L1022.0,164.6 L1020.7,165.9 L1019.3,166.7 L1017.9,167.6 L1016.6,168.0 L1015.2,168.4 L1013.8,169.3 L1012.5,170.1 L1011.1,170.4 L1009.7,170.6 L1008.3,170.8 L1007.0,171.0 L1005.6,171.4 L1004.2,171.9Z" fill="#FACFD3" stroke="none" stroke-width="0" stroke-linejoin="round" stroke-linecap="round" />
<line x1="962.30" y1="80.20" x2="962.30" y2="171.60" stroke="#9c9c9c" stroke-width="1.4" />
<line x1="958.70" y1="171.00" x2="1136.02" y2="171.00" stroke="#a6a6a6" stroke-width="1.4" />
<line x1="958.50" y1="85.40" x2="962.30" y2="85.40" stroke="#555" stroke-width="0.9" />
<text font-size="8.3" fill="#262626" stroke="#262626" stroke-width="0.1" textLength="10.40" lengthAdjust="spacingAndGlyphs" x="944.10" y="88.20" >1.0</text>
<line x1="958.50" y1="128.20" x2="962.30" y2="128.20" stroke="#555" stroke-width="0.9" />
<text font-size="8.3" fill="#262626" stroke="#262626" stroke-width="0.1" textLength="11.40" lengthAdjust="spacingAndGlyphs" x="943.10" y="131.00" >0.5</text>
<line x1="958.50" y1="171.00" x2="962.30" y2="171.00" stroke="#555" stroke-width="0.9" />
<text font-size="8.3" fill="#262626" stroke="#262626" stroke-width="0.1" textLength="4.40" lengthAdjust="spacingAndGlyphs" x="950.10" y="173.80" >0</text>
<line x1="971.40" y1="171.00" x2="971.40" y2="174.40" stroke="#555" stroke-width="0.9" />
<text font-size="8.3" fill="#262626" stroke="#262626" stroke-width="0.1" textLength="4.40" lengthAdjust="spacingAndGlyphs" x="969.20" y="184.60" >0</text>
<line x1="1053.51" y1="171.00" x2="1053.51" y2="174.40" stroke="#555" stroke-width="0.9" />
<text font-size="8.3" fill="#262626" stroke="#262626" stroke-width="0.1" textLength="9.00" lengthAdjust="spacingAndGlyphs" x="1049.01" y="184.60" >30</text>
<line x1="1135.62" y1="171.00" x2="1135.62" y2="174.40" stroke="#555" stroke-width="0.9" />
<text font-size="8.3" fill="#262626" stroke="#262626" stroke-width="0.1" textLength="9.00" lengthAdjust="spacingAndGlyphs" x="1131.12" y="184.60" >60</text>
<path d="M971.4,128.2 L972.4,149.6 L973.3,167.6 L974.7,170.0 L976.9,171.0 L979.6,171.7 L982.3,171.3 L985.1,172.1 L987.8,171.6 L990.6,171.9 L993.3,172.0 L996.0,172.0 L998.8,171.2 L1001.5,172.0 L1004.2,171.8 L1007.0,171.6 L1009.7,171.1 L1012.5,172.0 L1015.2,171.6 L1017.9,171.5 L1020.7,171.1 L1023.4,171.1 L1026.1,171.1 L1028.9,171.8 L1031.6,171.6 L1034.4,171.7 L1037.1,171.1 L1039.8,171.0 L1042.6,171.9 L1045.3,171.9 L1048.0,171.8 L1050.8,171.8 L1053.5,171.5 L1056.2,171.4 L1059.0,171.8 L1061.7,172.1 L1064.5,171.6 L1067.2,171.7 L1069.9,171.4 L1072.7,171.0 L1075.4,171.3 L1078.1,171.5 L1080.9,171.4 L1083.6,171.3 L1086.4,172.0 L1089.1,171.0 L1091.8,171.2 L1094.6,171.1 L1097.3,171.2 L1100.0,171.6 L1102.8,171.6 L1105.5,172.0 L1108.2,171.4 L1111.0,172.0 L1113.7,172.0 L1116.5,171.9 L1119.2,171.9 L1121.9,171.7 L1124.7,172.0 L1127.4,172.1 L1130.1,171.9 L1132.9,172.0 L1135.6,171.7" fill="none" stroke="#2D2F95" stroke-width="1.6" stroke-linejoin="round" stroke-linecap="round" />
<path d="M971.4,136.8 L972.4,153.9 L973.3,167.6 L975.5,170.1 L979.6,171.0 L985.1,171.0 L987.8,172.0 L993.3,171.9 L998.8,171.4 L1004.2,171.0 L1007.0,170.0 L1009.7,168.9 L1012.5,167.1 L1015.2,164.2 L1017.9,162.4 L1020.7,159.4 L1023.4,154.7 L1026.1,148.7 L1028.9,143.6 L1031.6,139.3 L1034.4,135.9 L1037.1,132.5 L1039.8,129.1 L1042.6,126.5 L1045.3,123.5 L1048.0,120.5 L1050.8,121.8 L1053.5,122.6 L1056.2,123.5 L1059.0,123.9 L1061.7,129.1 L1064.5,135.0 L1067.2,140.2 L1069.9,145.3 L1072.7,148.7 L1075.4,153.9 L1078.1,154.7 L1080.9,158.2 L1083.6,161.2 L1086.4,163.3 L1089.1,165.0 L1091.8,166.7 L1094.6,168.0 L1097.3,169.3 L1100.0,169.7 L1102.8,170.0 L1105.5,170.6 L1108.2,170.3 L1111.0,171.2 L1113.7,171.7 L1116.5,170.6 L1119.2,170.3 L1121.9,171.0 L1124.7,170.1 L1127.4,170.0 L1130.1,170.6 L1132.9,171.0 L1135.6,172.0" fill="none" stroke="#E8192B" stroke-width="1.9" stroke-linejoin="round" stroke-linecap="round" />
<text font-size="8.3" fill="#3A3C9A" stroke="#3A3C9A" stroke-width="0.1" textLength="56.40" lengthAdjust="spacingAndGlyphs" x="1022.80" y="168.00" >AF(<tspan font-style="italic">TRV::GUS</tspan>)</text>
<text font-size="8.3" fill="#E8344A" stroke="#E8344A" stroke-width="0.1" textLength="66.20" lengthAdjust="spacingAndGlyphs" x="1055.90" y="105.20" >AF(<tspan font-style="italic">TRV::SBT5.2</tspan>)</text>
<text font-size="8.3" fill="#262626" stroke="#262626" stroke-width="0.1" textLength="43.60" lengthAdjust="spacingAndGlyphs" x="1027.30" y="197.00" >Time (min)</text>
<text font-size="8.3" fill="#262626" stroke="#262626" stroke-width="0.1" textLength="77.00" lengthAdjust="spacingAndGlyphs" transform="translate(936.00,163.40) rotate(-90)" >ROS (×1,000 RLU)</text>
<line x1="971.10" y1="103.00" x2="971.10" y2="117.60" stroke="#E8192B" stroke-width="0.9" />
<path d="M969.2,116.39999999999999 L973.0,116.39999999999999 L971.1,120.6Z" fill="#E8192B"/>
<text font-size="8.3" fill="#E8344A" stroke="#E8344A" stroke-width="0.1" textLength="44.50" lengthAdjust="spacingAndGlyphs" x="965.00" y="100.50" >csp22 + AF</text>
<defs>
<filter id="bl1" x="-30%" y="-100%" width="160%" height="300%"><feGaussianBlur stdDeviation="1.6 1.0"/></filter>
<filter id="bl2" filterUnits="userSpaceOnUse" x="680" y="240" width="480" height="90"><feGaussianBlur stdDeviation="1.7 1.0"/></filter>
<filter id="bl3" x="-50%" y="-50%" width="200%" height="200%"><feGaussianBlur stdDeviation="1.4"/></filter>
<filter id="bl4" x="-50%" y="-80%" width="200%" height="260%"><feGaussianBlur stdDeviation="1.0 0.8"/></filter>
<linearGradient id="gelbg" x1="0" y1="0" x2="0" y2="1"><stop offset="0" stop-color="#d9e0e4"/><stop offset="0.5" stop-color="#d6dfe5"/><stop offset="0.8" stop-color="#d0dce7"/><stop offset="1" stop-color="#c8daea"/></linearGradient>
</defs>
<clipPath id="gc1"><rect x="693.2" y="246.4" width="195.5999999999999" height="76.4"/></clipPath>
<rect x="693.20" y="246.40" width="195.60" height="76.40" fill="url(#gelbg)" />
<g clip-path="url(#gc1)">
<ellipse cx="693.7" cy="259.2" rx="8.0" ry="8.6" fill="#6fb0f0" filter="url(#bl3)"/>
<ellipse cx="693.7" cy="259.8" rx="5.0" ry="5.2" fill="#0a3fd0" filter="url(#bl1)"/>
<ellipse cx="695.7" cy="312.6" rx="6.8" ry="4.4" fill="#1fa88c" filter="url(#bl3)"/>
<ellipse cx="695.7" cy="314.4" rx="4.6" ry="2.0" fill="#000" filter="url(#bl4)"/>
<rect x="702.5" y="291.8" width="21.0" height="5.6" rx="2.8" fill="#3a92ea" fill-opacity="1" filter="url(#bl1)"/>
<rect x="703.5" y="283.2" width="19.0" height="4.5" rx="2.25" fill="#b8d3ee" fill-opacity="0.3" filter="url(#bl2)"/>
<rect x="728.0" y="292.6" width="19.6" height="4.0" rx="2.0" fill="#8bb8e8" fill-opacity="0.45" filter="url(#bl2)"/>
<rect x="752.0" y="293.3" width="21.0" height="3.8" rx="1.9" fill="#9fc3ea" fill-opacity="0.3" filter="url(#bl2)"/>
<rect x="777.0" y="293.7" width="20.0" height="3.8" rx="1.9" fill="#9fc3ea" fill-opacity="0.25" filter="url(#bl2)"/>
<rect x="801.0" y="292.7" width="19.5" height="6.6" rx="3.3" fill="#2a89e8" fill-opacity="1" filter="url(#bl1)"/>
<rect x="802.0" y="284.2" width="17.5" height="4.5" rx="2.25" fill="#b8d3ee" fill-opacity="0.35" filter="url(#bl2)"/>
<rect x="824.0" y="292.7" width="19.5" height="4.6" rx="2.3" fill="#6faee9" fill-opacity="0.7" filter="url(#bl2)"/>
<rect x="848.0" y="292.5" width="17.5" height="4.2" rx="2.1" fill="#7fb5e9" fill-opacity="0.6" filter="url(#bl2)"/>
<rect x="870.5" y="291.7" width="14.5" height="3.8" rx="1.9" fill="#8fbdea" fill-opacity="0.5" filter="url(#bl2)"/>
<path d="M704,315.6 L722,315" fill="none" stroke="#8fc4ea" stroke-opacity="0.5" stroke-width="3.0" stroke-linecap="round" filter="url(#bl2)"/>
<path d="M729,314.4 L747,314" fill="none" stroke="#7fbfe8" stroke-opacity="0.62" stroke-width="3.2" stroke-linecap="round" filter="url(#bl2)"/>
<path d="M754,314 L772,314" fill="none" stroke="#7fbfe8" stroke-opacity="0.62" stroke-width="3.2" stroke-linecap="round" filter="url(#bl2)"/>
<path d="M779,314.2 L797,314.4" fill="none" stroke="#7fbfe8" stroke-opacity="0.62" stroke-width="3.2" stroke-linecap="round" filter="url(#bl2)"/>
<path d="M801.5,314 L818.5,313.8" fill="none" stroke="#6fade8" stroke-opacity="0.65" stroke-width="3.0" stroke-linecap="round" filter="url(#bl2)"/>
<path d="M824,311.7 L843,311.5" fill="none" stroke="#62abe9" stroke-opacity="0.8" stroke-width="3.0" stroke-linecap="round" filter="url(#bl2)"/>
<path d="M848,311 L865,310.6" fill="none" stroke="#58a8ea" stroke-opacity="0.9" stroke-width="3.0" stroke-linecap="round" filter="url(#bl2)"/>
<path d="M869,310.2 Q878,309 884.5,305.4" fill="none" stroke="#52a6ec" stroke-opacity="0.95" stroke-width="2.8" stroke-linecap="round" filter="url(#bl2)"/>
</g>
<line x1="693.00" y1="246.40" x2="888.80" y2="246.40" stroke="#4a5560" stroke-width="1.1" />
<line x1="693.20" y1="246.40" x2="693.20" y2="322.80" stroke="#4a5560" stroke-width="1.1" />
<line x1="888.80" y1="246.40" x2="888.80" y2="322.80" stroke="#8f9aa5" stroke-width="1.0" />
<line x1="693.20" y1="322.80" x2="888.80" y2="322.80" stroke="#a9b6c2" stroke-width="1.0" />
<text font-size="7.4" fill="#262626" stroke="#262626" stroke-width="0.1" textLength="8.20" lengthAdjust="spacingAndGlyphs" x="677.80" y="262.40" >15</text>
<line x1="689.20" y1="259.60" x2="692.60" y2="259.60" stroke="#888" stroke-width="0.8" />
<text font-size="7.4" fill="#262626" stroke="#262626" stroke-width="0.1" textLength="8.80" lengthAdjust="spacingAndGlyphs" x="676.60" y="315.00" >10</text>
<line x1="689.20" y1="312.20" x2="692.60" y2="312.20" stroke="#bbb" stroke-width="0.8" />
<clipPath id="gc2"><rect x="957.4" y="246.4" width="184.10000000000002" height="76.4"/></clipPath>
<rect x="957.40" y="246.40" width="184.10" height="76.40" fill="url(#gelbg)" />
<g clip-path="url(#gc2)">
<ellipse cx="957.9" cy="259.2" rx="8.0" ry="8.6" fill="#6fb0f0" filter="url(#bl3)"/>
<ellipse cx="957.9" cy="259.8" rx="5.0" ry="5.2" fill="#0a3fd0" filter="url(#bl1)"/>
<ellipse cx="960.9" cy="310.6" rx="8.0" ry="4.6" fill="#1fa88c" filter="url(#bl3)" transform="rotate(12 960.9 310.6)"/>
<ellipse cx="961.9" cy="311.4" rx="6.6" ry="2.7" fill="#000" filter="url(#bl4)" transform="rotate(12 961.9 311.4)"/>
<rect x="967.0" y="291.2" width="21.5" height="5.4" rx="2.7" fill="#3a92ea" fill-opacity="1" filter="url(#bl1)"/>
<rect x="968.0" y="282.2" width="19.5" height="4.5" rx="2.25" fill="#b8d3ee" fill-opacity="0.25" filter="url(#bl2)"/>
<rect x="992.0" y="291.9" width="18.0" height="3.4" rx="1.7" fill="#a9c9ec" fill-opacity="0.25" filter="url(#bl2)"/>
<rect x="1016.0" y="291.7" width="18.0" height="3.4" rx="1.7" fill="#a9c9ec" fill-opacity="0.2" filter="url(#bl2)"/>
<rect x="1057.0" y="289.9" width="23.0" height="5.8" rx="2.9" fill="#3a92ea" fill-opacity="1" filter="url(#bl1)"/>
<rect x="1058.0" y="281.6" width="21.0" height="4.5" rx="2.25" fill="#b8d3ee" fill-opacity="0.3" filter="url(#bl2)"/>
<rect x="1083.0" y="289.9" width="16.5" height="3.8" rx="1.9" fill="#8fbdea" fill-opacity="0.45" filter="url(#bl2)"/>
<rect x="1105.0" y="289.4" width="15.0" height="3.6" rx="1.8" fill="#9cc3ea" fill-opacity="0.4" filter="url(#bl2)"/>
<rect x="1125.0" y="288.6" width="11.0" height="3.2" rx="1.6" fill="#a9c9ec" fill-opacity="0.3" filter="url(#bl2)"/>
<path d="M968,312.2 L988,311.4" fill="none" stroke="#7fbfe8" stroke-opacity="0.62" stroke-width="3.0" stroke-linecap="round" filter="url(#bl2)"/>
<path d="M993,311.2 L1011,311.2" fill="none" stroke="#74b8e8" stroke-opacity="0.72" stroke-width="3.2" stroke-linecap="round" filter="url(#bl2)"/>
<path d="M1016,311.2 L1034,311.4" fill="none" stroke="#74b8e8" stroke-opacity="0.72" stroke-width="3.2" stroke-linecap="round" filter="url(#bl2)"/>
<path d="M1038,311.4 L1055,311" fill="none" stroke="#74b8e8" stroke-opacity="0.72" stroke-width="3.0" stroke-linecap="round" filter="url(#bl2)"/>
<path d="M1058,310.6 L1079,310.6" fill="none" stroke="#74b8e8" stroke-opacity="0.68" stroke-width="3.0" stroke-linecap="round" filter="url(#bl2)"/>
<path d="M1083,309.7 L1100,309.5" fill="none" stroke="#62abe9" stroke-opacity="0.85" stroke-width="3.0" stroke-linecap="round" filter="url(#bl2)"/>
<path d="M1104,309.3 Q1114,309.2 1120,308.2 Q1128,306.6 1133,304.2" fill="none" stroke="#55a7eb" stroke-opacity="0.95" stroke-width="3.0" stroke-linecap="round" filter="url(#bl2)"/>
<path d="M1100,323.0 Q1118,321.2 1135,322.2" fill="none" stroke="#4aa4ec" stroke-opacity="0.95" stroke-width="2.8" stroke-linecap="round" filter="url(#bl2)"/>
</g>
<line x1="957.20" y1="246.40" x2="1141.50" y2="246.40" stroke="#4a5560" stroke-width="1.1" />
<line x1="957.40" y1="246.40" x2="957.40" y2="322.80" stroke="#4a5560" stroke-width="1.1" />
<line x1="1141.50" y1="246.40" x2="1141.50" y2="322.80" stroke="#8f9aa5" stroke-width="1.0" />
<line x1="957.40" y1="322.80" x2="1141.50" y2="322.80" stroke="#a9b6c2" stroke-width="1.0" />
<text font-size="7.4" fill="#262626" stroke="#262626" stroke-width="0.1" textLength="8.20" lengthAdjust="spacingAndGlyphs" x="942.00" y="262.40" >15</text>
<line x1="953.40" y1="259.60" x2="956.80" y2="259.60" stroke="#888" stroke-width="0.8" />
<text font-size="7.4" fill="#262626" stroke="#262626" stroke-width="0.1" textLength="8.80" lengthAdjust="spacingAndGlyphs" x="940.80" y="315.00" >10</text>
<line x1="953.40" y1="312.20" x2="956.80" y2="312.20" stroke="#bbb" stroke-width="0.8" />
<text font-size="8.3" fill="#262626" stroke="#262626" stroke-width="0.1" textLength="59.40" lengthAdjust="spacingAndGlyphs" x="718.40" y="225.90" >CspD + AF(EV)</text>
<text font-size="8.3" fill="#262626" stroke="#262626" stroke-width="0.1" textLength="64.80" lengthAdjust="spacingAndGlyphs" x="812.80" y="225.90" >CspD + AF(Epi1)</text>
<line x1="705.90" y1="231.80" x2="790.10" y2="231.80" stroke="#a2a2a2" stroke-width="1.3" />
<line x1="803.10" y1="231.80" x2="887.20" y2="231.80" stroke="#a2a2a2" stroke-width="1.3" />
<text font-size="8.3" fill="#262626" stroke="#262626" stroke-width="0.1" textLength="22.20" lengthAdjust="spacingAndGlyphs" x="682.20" y="242.40" >Time:</text>
<text font-size="7.9" fill="#262626" stroke="#262626" stroke-width="0.1" textLength="4.60" lengthAdjust="spacingAndGlyphs" x="711.00" y="242.40" >0</text>
<text font-size="7.9" fill="#262626" stroke="#262626" stroke-width="0.1" textLength="8.40" lengthAdjust="spacingAndGlyphs" x="728.10" y="242.40" >15</text>
<text font-size="7.9" fill="#262626" stroke="#262626" stroke-width="0.1" textLength="9.20" lengthAdjust="spacingAndGlyphs" x="752.10" y="242.40" >30</text>
<text font-size="7.9" fill="#262626" stroke="#262626" stroke-width="0.1" textLength="9.20" lengthAdjust="spacingAndGlyphs" x="775.30" y="242.40" >60</text>
<text font-size="7.9" fill="#262626" stroke="#262626" stroke-width="0.1" textLength="4.60" lengthAdjust="spacingAndGlyphs" x="808.60" y="242.40" >0</text>
<text font-size="7.9" fill="#262626" stroke="#262626" stroke-width="0.1" textLength="8.40" lengthAdjust="spacingAndGlyphs" x="825.80" y="242.40" >15</text>
<text font-size="7.9" fill="#262626" stroke="#262626" stroke-width="0.1" textLength="9.20" lengthAdjust="spacingAndGlyphs" x="850.10" y="242.40" >30</text>
<text font-size="7.9" fill="#262626" stroke="#262626" stroke-width="0.1" textLength="9.20" lengthAdjust="spacingAndGlyphs" x="873.00" y="242.40" >60</text>
<text font-size="8.3" fill="#262626" stroke="#262626" stroke-width="0.1" textLength="21.60" lengthAdjust="spacingAndGlyphs" x="887.70" y="242.40" >(min)</text>
<path d="M885.8,293.5 L895.0,290.9 L892.4,293.5 L895.0,296.1Z" fill="#000"/>
<text font-size="8.6" fill="#262626" stroke="#262626" stroke-width="0.1" textLength="22.00" lengthAdjust="spacingAndGlyphs" x="897.20" y="296.90" >CspD</text>
<text font-size="8.3" fill="#262626" stroke="#262626" stroke-width="0.1" textLength="46.10" lengthAdjust="spacingAndGlyphs" x="842.00" y="334.10" >Coomassie</text>
<text font-size="8.3" fill="#262626" stroke="#262626" stroke-width="0.1" textLength="29.10" lengthAdjust="spacingAndGlyphs" x="943.90" y="225.90" >CspD +</text>
<text font-size="8.3" fill="#262626" stroke="#262626" stroke-width="0.1" textLength="56.20" lengthAdjust="spacingAndGlyphs" x="984.10" y="225.90" >AF(<tspan font-style="italic">TRV::GUS</tspan>)</text>
<text font-size="8.3" fill="#262626" stroke="#262626" stroke-width="0.1" textLength="66.40" lengthAdjust="spacingAndGlyphs" x="1066.00" y="225.90" >AF(<tspan font-style="italic">TRV::SBT5.2</tspan>)</text>
<line x1="969.90" y1="231.80" x2="1054.10" y2="231.80" stroke="#a2a2a2" stroke-width="1.3" />
<line x1="1056.80" y1="231.80" x2="1140.90" y2="231.80" stroke="#a2a2a2" stroke-width="1.3" />
<text font-size="8.3" fill="#262626" stroke="#262626" stroke-width="0.1" textLength="21.80" lengthAdjust="spacingAndGlyphs" x="946.40" y="242.40" >Time:</text>
<text font-size="7.9" fill="#262626" stroke="#262626" stroke-width="0.1" textLength="4.60" lengthAdjust="spacingAndGlyphs" x="975.10" y="242.40" >0</text>
<text font-size="7.9" fill="#262626" stroke="#262626" stroke-width="0.1" textLength="8.40" lengthAdjust="spacingAndGlyphs" x="992.20" y="242.40" >15</text>
<text font-size="7.9" fill="#262626" stroke="#262626" stroke-width="0.1" textLength="9.20" lengthAdjust="spacingAndGlyphs" x="1016.30" y="242.40" >30</text>
<text font-size="7.9" fill="#262626" stroke="#262626" stroke-width="0.1" textLength="9.20" lengthAdjust="spacingAndGlyphs" x="1039.50" y="242.40" >60</text>
<text font-size="7.9" fill="#262626" stroke="#262626" stroke-width="0.1" textLength="4.60" lengthAdjust="spacingAndGlyphs" x="1062.40" y="242.40" >0</text>
<text font-size="7.9" fill="#262626" stroke="#262626" stroke-width="0.1" textLength="8.40" lengthAdjust="spacingAndGlyphs" x="1079.60" y="242.40" >15</text>
<text font-size="7.9" fill="#262626" stroke="#262626" stroke-width="0.1" textLength="9.20" lengthAdjust="spacingAndGlyphs" x="1103.90" y="242.40" >30</text>
<text font-size="7.9" fill="#262626" stroke="#262626" stroke-width="0.1" textLength="9.20" lengthAdjust="spacingAndGlyphs" x="1127.00" y="242.40" >60</text>
<text font-size="8.3" fill="#262626" stroke="#262626" stroke-width="0.1" textLength="21.30" lengthAdjust="spacingAndGlyphs" x="1141.50" y="242.40" >(min)</text>
<path d="M1137.0,289.7 L1145.3,287.1 L1142.7,289.7 L1145.3,292.3Z" fill="#000"/>
<text font-size="8.6" fill="#262626" stroke="#262626" stroke-width="0.1" textLength="22.40" lengthAdjust="spacingAndGlyphs" x="1147.60" y="292.80" >CspD</text>
<text font-size="8.3" fill="#262626" stroke="#262626" stroke-width="0.1" textLength="45.70" lengthAdjust="spacingAndGlyphs" x="1097.70" y="334.10" >Coomassie</text>
<path d="M715.6,445.0 L723.8,424.9 L732.0,409.4 L740.2,403.3 L748.4,399.1 L756.6,389.9 L764.7,384.9 L772.9,380.1 L781.1,377.6 L789.3,369.7 L797.5,374.1 L805.7,369.4 L813.9,364.7 L822.1,362.8 L830.3,364.8 L838.5,363.4 L846.6,364.0 L854.8,364.2 L863.0,363.2 L871.2,360.1 L879.4,360.2 L879.4,369.2 L871.2,369.0 L863.0,370.8 L854.8,370.7 L846.6,370.4 L838.5,371.0 L830.3,373.7 L822.1,371.9 L813.9,372.7 L805.7,376.1 L797.5,380.4 L789.3,376.9 L781.1,386.2 L772.9,389.3 L764.7,393.3 L756.6,396.9 L748.4,405.4 L740.2,410.2 L732.0,417.6 L723.8,434.0 L715.6,445.0Z" fill="#D3D6EE" stroke="none" stroke-width="0" stroke-linejoin="round" stroke-linecap="round" />
<line x1="715.60" y1="353.30" x2="715.60" y2="445.60" stroke="#777" stroke-width="1.0" />
<line x1="711.80" y1="445.00" x2="879.80" y2="445.00" stroke="#a5a5a5" stroke-width="1.5" />
<path d="M715.6,444.5 L723.8,444.3 L732.0,444.7 L740.2,445.4 L748.4,443.5 L756.6,442.9 L764.7,441.0 L772.9,441.9 L781.1,440.3 L789.3,440.5 L797.5,439.0 L805.7,437.8 L813.9,436.6 L822.1,436.1 L830.3,435.5 L838.5,434.8 L846.6,434.3 L854.8,434.6 L863.0,433.5 L871.2,433.0 L879.4,432.4 L879.4,439.3 L871.2,439.6 L863.0,439.8 L854.8,440.6 L846.6,440.0 L838.5,440.2 L830.3,440.6 L822.1,441.0 L813.9,441.2 L805.7,442.1 L797.5,442.9 L789.3,444.2 L781.1,443.7 L772.9,444.9 L764.7,443.8 L756.6,445.3 L748.4,445.7 L740.2,447.3 L732.0,446.3 L723.8,445.7 L715.6,445.5Z" fill="#F9D3D6" stroke="none" stroke-width="0" stroke-linejoin="round" stroke-linecap="round" />
<line x1="711.80" y1="359.40" x2="715.60" y2="359.40" stroke="#555" stroke-width="0.9" />
<text font-size="8.3" fill="#262626" stroke="#262626" stroke-width="0.1" textLength="10.40" lengthAdjust="spacingAndGlyphs" x="697.60" y="362.20" >1.0</text>
<line x1="711.80" y1="402.20" x2="715.60" y2="402.20" stroke="#555" stroke-width="0.9" />
<text font-size="8.3" fill="#262626" stroke="#262626" stroke-width="0.1" textLength="11.40" lengthAdjust="spacingAndGlyphs" x="696.60" y="405.00" >0.5</text>
<line x1="711.80" y1="445.00" x2="715.60" y2="445.00" stroke="#555" stroke-width="0.9" />
<text font-size="8.3" fill="#262626" stroke="#262626" stroke-width="0.1" textLength="4.40" lengthAdjust="spacingAndGlyphs" x="703.60" y="447.80" >0</text>
<line x1="715.60" y1="445.00" x2="715.60" y2="448.40" stroke="#555" stroke-width="0.9" />
<text font-size="8.3" fill="#262626" stroke="#262626" stroke-width="0.1" textLength="4.40" lengthAdjust="spacingAndGlyphs" x="713.40" y="458.60" >0</text>
<line x1="797.50" y1="445.00" x2="797.50" y2="448.40" stroke="#555" stroke-width="0.9" />
<text font-size="8.3" fill="#262626" stroke="#262626" stroke-width="0.1" textLength="8.00" lengthAdjust="spacingAndGlyphs" x="793.50" y="458.60" >10</text>
<line x1="879.40" y1="445.00" x2="879.40" y2="448.40" stroke="#555" stroke-width="0.9" />
<text font-size="8.3" fill="#262626" stroke="#262626" stroke-width="0.1" textLength="9.00" lengthAdjust="spacingAndGlyphs" x="874.90" y="458.60" >20</text>
<path d="M715.6,445.0 L723.8,429.6 L732.0,414.2 L740.2,407.3 L748.4,402.2 L756.6,392.8 L764.7,388.5 L772.9,384.7 L781.1,382.5 L789.3,374.0 L797.5,377.4 L805.7,372.2 L813.9,368.0 L822.1,367.1 L830.3,369.7 L838.5,368.0 L846.6,367.5 L854.8,367.1 L863.0,366.2 L871.2,364.1 L879.4,365.0" fill="none" stroke="#4584D6" stroke-width="1.15" stroke-linejoin="round" stroke-linecap="round" />
<path d="M715.6,445.0 L723.8,445.0 L732.0,445.5 L740.2,446.4 L748.4,444.7 L756.6,444.1 L764.7,442.4 L772.9,443.5 L781.1,442.1 L789.3,442.4 L797.5,441.1 L805.7,440.0 L813.9,439.0 L822.1,438.7 L830.3,438.2 L838.5,437.6 L846.6,437.3 L854.8,437.7 L863.0,436.8 L871.2,436.4 L879.4,436.0" fill="none" stroke="#E8192B" stroke-width="1.7" stroke-linejoin="round" stroke-linecap="round" />
<text font-size="8.3" fill="#3E459F" stroke="#3E459F" stroke-width="0.1" textLength="27.70" lengthAdjust="spacingAndGlyphs" x="821.50" y="383.30" >AF(EV)</text>
<text font-size="8.3" fill="#E8344A" stroke="#E8344A" stroke-width="0.1" textLength="33.40" lengthAdjust="spacingAndGlyphs" x="820.30" y="430.10" >AF(Epi1)</text>
<text font-size="8.3" fill="#262626" stroke="#262626" stroke-width="0.1" textLength="44.60" lengthAdjust="spacingAndGlyphs" x="775.00" y="471.40" >Time (min)</text>
<text font-size="8.3" fill="#262626" stroke="#262626" stroke-width="0.1" textLength="58.40" lengthAdjust="spacingAndGlyphs" transform="translate(678.00,428.40) rotate(-90)" >Fluorescence</text>
<text font-size="8.3" fill="#262626" stroke="#262626" stroke-width="0.1" textLength="55.80" lengthAdjust="spacingAndGlyphs" transform="translate(687.90,427.20) rotate(-90)" >(×1,000 RFU)</text>
<path d="M971.4,445.0 L979.6,439.0 L987.8,433.0 L996.0,427.9 L1004.2,423.6 L1012.4,419.7 L1020.7,415.6 L1028.9,411.6 L1037.1,408.2 L1045.3,403.9 L1053.5,400.1 L1061.7,396.7 L1069.9,393.6 L1078.1,390.2 L1086.3,386.4 L1094.5,383.4 L1102.8,380.3 L1111.0,376.9 L1119.2,373.1 L1127.4,369.7 L1135.6,367.1 L1135.6,427.9 L1127.4,430.4 L1119.2,432.2 L1111.0,433.0 L1102.8,432.2 L1094.5,433.9 L1086.3,434.7 L1078.1,435.1 L1069.9,436.4 L1061.7,435.6 L1053.5,436.4 L1045.3,438.2 L1037.1,439.9 L1028.9,440.7 L1020.7,441.2 L1012.4,441.9 L1004.2,442.9 L996.0,443.3 L987.8,444.1 L979.6,445.0 L971.4,445.0Z" fill="#D4D5EA" stroke="none" stroke-width="0" stroke-linejoin="round" stroke-linecap="round" />
<line x1="971.40" y1="353.30" x2="971.40" y2="445.60" stroke="#777" stroke-width="1.0" />
<line x1="967.60" y1="445.00" x2="1136.00" y2="445.00" stroke="#a5a5a5" stroke-width="1.5" />
<line x1="967.60" y1="359.40" x2="971.40" y2="359.40" stroke="#555" stroke-width="0.9" />
<text font-size="8.3" fill="#262626" stroke="#262626" stroke-width="0.1" textLength="11.40" lengthAdjust="spacingAndGlyphs" x="952.40" y="362.20" >0.5</text>
<line x1="967.60" y1="445.00" x2="971.40" y2="445.00" stroke="#555" stroke-width="0.9" />
<text font-size="8.3" fill="#262626" stroke="#262626" stroke-width="0.1" textLength="4.40" lengthAdjust="spacingAndGlyphs" x="959.40" y="447.80" >0</text>
<line x1="971.40" y1="445.00" x2="971.40" y2="448.40" stroke="#555" stroke-width="0.9" />
<text font-size="8.3" fill="#262626" stroke="#262626" stroke-width="0.1" textLength="3.40" lengthAdjust="spacingAndGlyphs" x="969.70" y="458.60" >1</text>
<line x1="1053.50" y1="445.00" x2="1053.50" y2="448.40" stroke="#555" stroke-width="0.9" />
<text font-size="8.3" fill="#262626" stroke="#262626" stroke-width="0.1" textLength="8.00" lengthAdjust="spacingAndGlyphs" x="1049.50" y="458.60" >10</text>
<line x1="1135.60" y1="445.00" x2="1135.60" y2="448.40" stroke="#555" stroke-width="0.9" />
<text font-size="8.3" fill="#262626" stroke="#262626" stroke-width="0.1" textLength="9.00" lengthAdjust="spacingAndGlyphs" x="1131.10" y="458.60" >20</text>
<path d="M971.4,445.0 L979.6,441.6 L987.8,439.0 L996.0,437.3 L1004.2,434.7 L1012.4,432.7 L1020.7,430.1 L1028.9,428.4 L1037.1,426.2 L1045.3,421.9 L1053.5,419.3 L1061.7,416.2 L1069.9,415.9 L1078.1,412.5 L1086.3,411.4 L1094.5,409.0 L1102.8,407.0 L1111.0,405.3 L1119.2,401.9 L1127.4,400.5 L1135.6,397.6" fill="none" stroke="#2B2D96" stroke-width="1.4" stroke-linejoin="round" stroke-linecap="round" />
<path d="M971.4,445.0 L979.6,446.0 L987.8,447.7 L996.0,448.1 L1004.2,447.7 L1012.4,447.4 L1020.7,447.7 L1028.9,446.4 L1037.1,446.0 L1045.3,447.4 L1053.5,449.1 L1061.7,447.7 L1069.9,447.7 L1078.1,449.5 L1086.3,448.4 L1094.5,447.4 L1102.8,446.7 L1111.0,448.4 L1119.2,448.1 L1127.4,448.1 L1135.6,447.7" fill="none" stroke="#E8192B" stroke-width="1.7" stroke-linejoin="round" stroke-linecap="round" />
<text font-size="8.3" fill="#3E459F" stroke="#3E459F" stroke-width="0.1" textLength="57.10" lengthAdjust="spacingAndGlyphs" x="1071.50" y="397.40" >AF(<tspan font-style="italic">TRV::GUS</tspan>)</text>
<text font-size="8.3" fill="#E8344A" stroke="#E8344A" stroke-width="0.1" textLength="67.20" lengthAdjust="spacingAndGlyphs" x="1061.40" y="443.70" >AF(<tspan font-style="italic">TRV::SBT5.2</tspan>)</text>
<text font-size="8.3" fill="#262626" stroke="#262626" stroke-width="0.1" textLength="44.40" lengthAdjust="spacingAndGlyphs" x="1031.00" y="471.40" >Time (min)</text>
<text font-size="8.3" fill="#262626" stroke="#262626" stroke-width="0.1" textLength="58.40" lengthAdjust="spacingAndGlyphs" transform="translate(938.50,428.40) rotate(-90)" >Fluorescence</text>
<text font-size="8.3" fill="#262626" stroke="#262626" stroke-width="0.1" textLength="55.80" lengthAdjust="spacingAndGlyphs" transform="translate(948.40,427.20) rotate(-90)" >(×1,000 RFU)</text>
</g>
<text class="cap" font-size="16" fill="#2b2b2b" y="523.30"><tspan x="65.60">图</tspan><tspan x="82.70" textLength="16.60" lengthAdjust="spacingAndGlyphs">3. </tspan><tspan x="100.30" textLength="49.80" lengthAdjust="spacingAndGlyphs">SBT5.2</tspan><tspan x="150.00">蛋白酶是失活</tspan><tspan x="245.60" textLength="43.80" lengthAdjust="spacingAndGlyphs">csp22</tspan><tspan x="289.60">、</tspan><tspan x="307.40">降解</tspan><tspan x="339.00" textLength="41.80" lengthAdjust="spacingAndGlyphs">CspD</tspan><tspan x="380.80">和切割</tspan><tspan x="427.60" textLength="48.20" lengthAdjust="spacingAndGlyphs">Qcsp8</tspan><tspan x="475.80">所必需的</tspan></text>
<text class="cap" font-size="15" fill="#2b2b2b" y="522.50"><tspan x="738.20">图</tspan><tspan x="753.40" textLength="16.00" lengthAdjust="spacingAndGlyphs">4. </tspan><tspan x="770.30" textLength="54.80" lengthAdjust="spacingAndGlyphs">SBT5.2a</tspan><tspan x="825.20">对</tspan><tspan x="841.40" textLength="40.20" lengthAdjust="spacingAndGlyphs">csp22</tspan><tspan x="881.60">肽段的差异化处理</tspan></text>
</svg>
</body></html>
